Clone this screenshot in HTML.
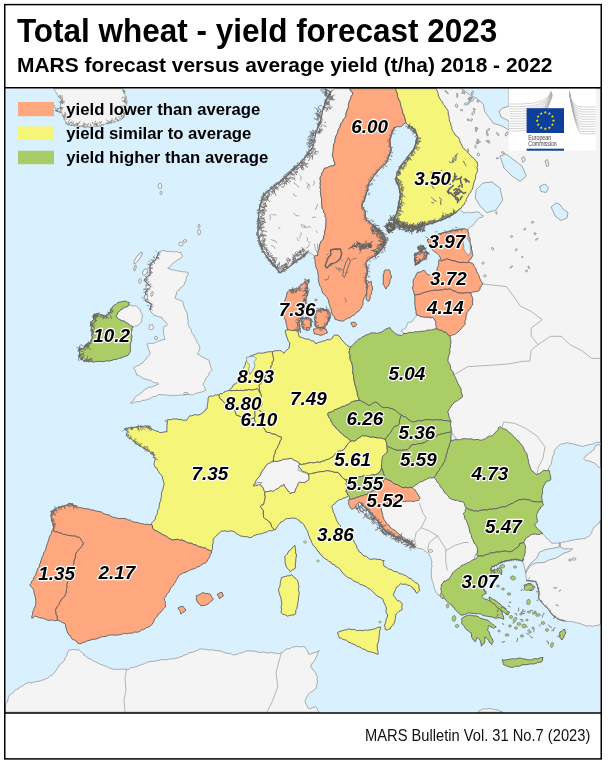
<!DOCTYPE html>
<html><head><meta charset="utf-8"><style>
html,body{margin:0;padding:0;background:#fff;}
body{width:608px;height:765px;overflow:hidden;position:relative;}
svg{position:absolute;left:0;top:0;}
.lb{font-family:"Liberation Sans",Arial,sans-serif;font-weight:bold;font-style:italic;font-size:18.9px;fill:#000;stroke:#fff;stroke-width:2.3px;paint-order:stroke;stroke-linejoin:round;}
.t{font-family:"Liberation Sans",Arial,sans-serif;font-weight:bold;fill:#000;}
</style></head><body>
<svg width="608" height="765" viewBox="0 0 608 765">
<rect x="0" y="0" width="608" height="765" fill="#fff"/>
<rect x="5.5" y="88.6" width="595" height="623.6" fill="#d9f0fe"/><polygon points="53.2,88.6 54.8,90.1 55.9,92.1 57.0,94.0 58.1,95.9 59.5,97.4 61.6,97.8 63.0,99.2 61.5,99.9 61.0,101.5 59.7,102.4 60.7,103.9 60.4,105.9 61.4,107.4 59.7,107.8 58.1,108.7 56.4,109.0 55.5,109.8 54.8,110.7 56.6,110.7 58.1,111.5 59.6,112.3 61.4,112.3 62.4,113.8 62.7,115.8 64.1,117.1 64.7,118.9 65.0,120.6 65.6,122.2 66.3,123.8 67.9,124.3 69.5,125.0 71.2,125.5 72.9,125.5 75.0,125.3 77.1,125.4 79.0,126.6 81.1,126.3 83.2,126.2 85.2,127.1 87.2,127.0 89.3,127.1 91.4,127.3 93.4,126.7 95.5,126.2 97.6,126.3 99.7,125.7 101.6,124.8 103.8,124.7 105.8,123.8 107.9,123.5 109.8,122.6 111.9,122.4 114.0,122.2 115.6,121.4 117.3,120.8 119.0,120.4 120.7,119.9 122.2,118.9 123.3,117.2 124.0,115.3 125.5,114.0 125.0,112.4 125.2,110.7 125.0,109.0 124.7,107.4 125.8,105.9 126.4,104.3 126.5,102.4 127.2,100.8 126.4,99.2 126.5,97.4 125.5,95.9 124.9,94.3 124.0,92.7 123.9,90.9 123.1,89.7 122.2,88.6" fill="#f4f4f4" stroke="#858585" stroke-width="0.65" stroke-linejoin="round"/><polygon points="161.8,250.7 164.0,250.4 166.0,251.3 168.2,251.5 170.3,251.3 172.4,251.9 174.6,251.8 176.8,251.5 178.8,252.6 181.0,252.2 181.1,253.8 182.1,255.1 182.5,256.6 181.1,257.8 179.5,258.8 178.0,259.9 176.3,260.6 175.0,262.0 173.2,262.9 172.0,264.5 170.6,265.9 169.1,267.1 167.7,268.5 169.8,268.9 171.7,269.8 173.9,269.8 175.9,270.6 178.0,270.8 180.1,271.3 182.2,271.7 184.3,271.9 186.4,272.1 188.4,273.0 187.9,275.1 186.6,276.8 186.0,278.8 185.8,281.0 184.7,282.8 184.0,284.8 182.7,286.4 180.7,287.4 179.8,289.4 177.9,290.4 176.6,292.0 176.5,294.1 175.5,296.0 175.0,298.0 176.7,299.2 178.7,299.7 180.6,300.4 182.5,301.0 183.1,303.0 183.6,305.1 184.3,307.2 185.0,309.2 186.0,311.1 187.0,313.0 187.5,314.9 187.6,316.9 187.7,318.9 188.3,320.8 187.9,322.8 188.4,324.7 188.8,326.6 190.1,328.1 191.2,329.7 191.4,331.7 192.2,333.4 193.5,334.9 194.3,336.6 195.5,338.5 196.7,340.3 197.1,342.5 198.4,344.3 199.5,346.2 200.0,348.4 199.1,350.4 198.3,352.4 197.3,354.3 199.4,355.0 201.1,356.4 203.1,357.3 205.0,358.4 207.1,359.2 209.0,360.3 209.5,362.1 209.9,363.9 210.5,365.6 210.9,367.4 212.0,369.0 211.0,370.9 209.4,372.5 208.8,374.6 207.6,376.5 206.0,378.0 205.3,379.5 205.0,381.2 204.0,382.6 203.0,384.0 203.4,385.7 204.7,386.9 205.0,388.6 206.0,390.0 204.1,390.9 202.2,391.8 200.3,392.4 198.2,392.8 196.1,393.2 194.3,394.3 192.3,394.9 190.2,394.7 188.1,394.4 186.0,394.7 183.9,395.0 181.9,395.0 179.8,395.1 177.7,395.4 175.6,395.2 173.6,395.8 171.5,395.2 169.3,395.6 167.2,395.2 165.2,394.8 163.0,394.8 160.9,394.9 158.8,394.3 157.2,395.5 155.5,396.5 153.3,396.5 151.6,397.5 150.0,398.7 148.0,399.1 146.1,400.0 144.0,400.3 141.9,400.4 140.1,401.7 138.0,401.7 136.1,401.8 134.4,402.5 132.6,403.2 130.7,403.2 131.7,401.6 133.5,400.6 134.2,398.7 135.2,397.1 136.6,395.8 138.5,394.8 140.2,393.5 142.0,392.4 143.4,390.7 145.1,389.4 147.0,388.4 148.8,387.2 151.1,387.3 153.0,386.5 154.9,385.7 156.9,384.9 158.8,384.0 157.0,382.7 154.8,382.8 152.8,382.0 151.1,380.6 149.0,380.0 147.0,379.5 145.2,379.0 143.3,378.5 141.7,377.4 140.1,376.4 138.5,375.3 136.6,375.0 136.2,373.0 135.3,371.2 134.5,369.4 133.6,367.7 135.4,366.9 137.0,365.6 139.2,365.5 140.5,363.6 142.5,363.2 143.6,361.6 144.9,360.1 146.4,358.8 147.2,357.0 148.7,355.7 150.0,354.3 149.8,352.1 148.9,350.2 148.0,348.2 147.9,346.0 147.0,344.0 148.7,343.2 150.5,343.2 152.4,343.6 154.1,343.0 155.8,342.5 157.4,341.5 159.2,340.9 161.0,340.4 162.8,339.6 164.7,339.5 164.7,337.5 164.2,335.6 163.6,333.6 163.4,331.7 163.6,329.6 163.0,327.7 164.4,326.5 166.3,326.0 167.7,324.7 166.5,323.3 165.5,321.6 163.8,320.5 162.7,319.0 161.8,317.3 160.0,316.9 158.1,316.7 156.3,315.8 154.4,315.8 153.6,314.1 151.9,313.1 150.8,311.6 150.0,310.0 150.1,307.9 151.1,306.0 151.4,304.0 149.7,303.7 148.5,302.3 147.1,301.6 145.5,301.0 145.9,299.2 145.9,297.4 145.9,295.6 145.7,293.8 145.5,292.0 147.0,290.8 147.5,288.8 149.0,287.6 150.0,286.0 148.5,284.5 146.9,283.1 145.2,281.8 144.0,280.0 145.4,278.5 146.8,277.0 148.8,276.1 150.0,274.4 150.2,272.3 150.1,270.2 150.2,268.2 150.1,266.1 150.0,264.0 151.2,262.6 152.9,261.8 154.5,260.9 155.8,259.6 157.0,257.9 157.6,255.9 157.9,253.8 158.8,252.0 160.3,251.3" fill="#f4f4f4" stroke="#858585" stroke-width="0.65" stroke-linejoin="round"/><polygon points="129.3,304.9 131.1,305.3 132.9,305.9 134.8,305.9 136.7,306.1 138.0,307.3 138.9,308.8 140.4,309.8 140.7,312.0 142.1,313.8 142.2,316.0 142.1,318.0 141.7,320.1 141.6,322.1 139.9,323.2 138.6,324.9 136.7,325.8 134.8,326.2 133.0,327.0 131.8,326.2 130.4,325.5 129.3,324.6 127.6,323.4 125.7,322.5 124.3,320.9 122.5,321.0 121.0,320.2 119.4,319.7 118.2,318.4 116.8,317.4 115.7,316.0 117.2,314.5 117.9,312.5 119.4,311.0 121.0,309.7 122.8,308.7 124.3,307.3 126.2,306.9 127.9,306.2" fill="#f4f4f4" stroke="#858585" stroke-width="0.65" stroke-linejoin="round"/><polygon points="149.0,325.0 150.8,325.0 152.5,324.5 152.9,326.0 153.4,327.4 153.0,329.0 151.3,329.6 149.5,329.5 148.9,328.1 149.4,326.5" fill="#f4f4f4" stroke="#858585" stroke-width="0.65" stroke-linejoin="round"/><polygon points="335.0,88.6 349.0,88.6 350.5,89.9 351.3,91.8 353.0,92.9 352.3,94.8 351.1,96.6 350.7,98.6 349.7,100.5 348.9,102.4 348.4,104.4 348.5,106.4 348.0,108.3 347.0,110.2 346.4,112.0 345.9,114.0 346.0,116.0 345.0,117.9 343.3,119.4 342.8,121.6 341.0,123.0 340.3,125.1 340.0,127.1 338.9,128.8 337.9,130.6 337.6,132.6 336.8,134.4 335.9,136.2 335.4,138.2 334.9,140.1 334.9,142.2 333.8,143.9 333.4,145.9 333.4,147.8 333.2,149.6 333.1,151.4 332.8,153.2 332.2,155.0 332.9,157.0 333.5,158.9 333.8,161.0 334.8,162.9 335.0,165.0 333.0,165.8 330.8,166.0 328.8,166.9 326.9,167.9 324.7,168.0 323.8,169.7 323.1,171.6 321.7,173.1 321.6,175.2 320.3,176.8 320.0,178.9 320.5,181.0 320.1,183.1 320.4,185.3 320.0,187.4 320.6,189.5 320.3,191.6 320.7,193.7 320.8,195.8 321.4,197.9 321.7,200.0 321.5,202.2 321.7,204.3 321.8,206.4 322.3,208.5 323.6,210.3 323.5,212.5 325.2,214.2 325.0,216.5 326.2,218.3 325.9,220.2 326.1,222.2 325.7,224.1 326.0,226.1 325.5,228.0 325.2,229.9 324.4,231.9 324.9,234.1 323.6,236.0 323.6,238.1 322.8,239.9 321.1,241.2 320.3,243.0 319.7,244.6 319.3,246.2 319.3,248.0 318.7,249.6 317.9,251.5 317.7,253.4 317.8,255.4 315.9,256.0 314.0,256.0 312.8,254.5 311.1,253.6 309.2,252.8 308.0,251.3 306.8,252.6 305.2,253.5 304.3,255.0 303.0,256.2 301.3,257.4 299.8,258.8 297.9,259.7 296.4,261.1 294.5,262.2 292.9,263.4 291.2,264.7 289.8,266.3 288.2,267.7 286.6,268.7 285.0,269.8 283.4,270.8 281.8,272.0 280.0,272.6 278.9,270.6 276.8,269.6 275.9,267.5 274.7,265.7 272.5,264.6 271.4,262.7 270.6,260.7 268.7,259.5 267.8,257.5 266.4,255.9 265.1,254.2 264.2,252.2 262.6,250.8 262.3,248.9 261.7,247.0 260.8,245.3 260.2,243.5 259.8,241.6 259.5,239.6 259.0,237.7 258.1,236.0 257.7,233.9 257.6,231.8 258.1,229.7 258.5,227.5 258.5,225.4 258.2,223.3 258.1,221.2 258.6,219.1 259.0,217.0 259.1,214.9 258.9,212.7 258.7,210.6 259.8,208.6 259.6,206.4 260.7,204.6 261.5,202.6 262.0,200.6 262.1,198.4 263.2,196.5 264.0,194.6 265.2,193.0 266.7,191.8 268.4,190.8 270.1,189.7 271.2,188.0 273.2,187.3 274.4,185.7 276.3,184.7 277.5,182.7 279.7,182.3 280.8,180.2 282.8,179.3 284.3,177.8 286.2,176.8 287.8,175.5 289.1,173.9 290.6,172.4 291.7,170.6 293.2,169.2 295.0,168.0 296.9,166.9 298.1,165.1 299.7,163.7 301.0,162.0 302.3,160.3 304.0,159.0 305.5,157.5 306.7,155.7 308.2,154.2 309.1,152.3 310.1,150.4 311.5,148.8 312.9,147.2 313.0,145.2 313.8,143.4 314.6,141.6 314.0,139.5 314.4,137.6 315.4,135.8 315.5,133.9 316.1,132.0 317.1,130.2 318.1,128.4 318.1,126.1 319.5,124.5 319.5,122.2 320.7,120.5 320.6,118.5 321.1,116.6 321.9,114.8 322.0,112.8 322.3,110.9 323.0,109.0 323.7,107.2 324.5,105.4 324.5,103.3 325.4,101.6 326.2,99.8 327.0,98.0 328.4,96.8 328.7,94.8 329.6,93.2 331.0,92.0 332.1,90.6 333.6,89.7" fill="#f4f4f4" stroke="#858585" stroke-width="0.65" stroke-linejoin="round"/><polygon points="436.0,88.6 600.5,88.6 600.5,442.6 599.0,442.4 597.4,442.4 595.9,442.6 594.2,443.5 592.5,444.3 590.6,444.4 588.8,444.6 587.1,445.4 585.3,445.7 583.5,446.2 581.6,446.3 579.9,445.6 578.2,445.2 576.3,444.9 574.6,444.4 572.9,443.7 571.0,443.6 569.2,443.3 567.5,442.6 565.7,443.1 564.0,443.9 562.1,443.5 560.4,444.4 558.7,445.4 557.4,446.8 556.3,448.3 555.0,449.7 554.1,451.7 554.1,453.9 552.8,455.8 552.2,457.9 552.0,460.1 551.5,462.2 551.1,464.4 549.5,466.1 548.7,468.1 548.0,470.2 546.3,471.5 545.5,473.6 543.8,474.8 542.1,476.2 541.0,478.0 539.5,476.4 537.6,475.5 535.5,474.9 533.8,473.7 531.9,472.8 530.2,471.5 528.4,470.5 527.0,468.8 525.0,468.0 523.3,466.7 521.7,465.3 520.4,463.6 518.9,462.1 517.2,460.8 515.4,459.7 513.9,458.1 512.7,456.2 510.9,455.2 509.0,454.0 507.5,452.5 505.9,451.1 505.0,449.0 503.4,447.5 501.9,446.1 500.0,445.0 497.9,444.9 495.8,445.3 493.7,444.6 491.6,445.4 489.5,444.8 487.4,445.5 485.3,445.1 483.2,444.9 481.1,445.4 478.9,444.6 476.8,445.3 474.7,444.7 472.6,444.6 470.5,445.2 468.4,444.5 466.3,445.3 464.2,444.6 462.1,444.8 460.0,445.0 458.5,443.5 457.5,441.6 456.6,439.7 455.8,437.8 454.4,436.2 453.2,434.5 452.2,432.7 451.7,430.6 450.8,428.7 448.8,427.4 448.6,425.2 447.3,423.5 446.1,421.7 445.0,420.0 444.5,417.9 444.7,415.8 443.9,413.7 444.4,411.5 444.2,409.4 443.9,407.3 443.0,405.3 443.1,403.1 442.5,401.1 442.5,398.9 441.9,396.9 441.4,394.8 441.5,392.6 440.8,390.6 441.3,388.4 440.8,386.3 440.4,384.2 439.8,382.2 440.0,380.0 439.8,377.9 439.6,375.8 440.3,373.7 439.9,371.6 440.3,369.5 439.6,367.4 440.1,365.3 440.5,363.2 440.3,361.1 439.8,358.9 439.5,356.8 439.6,354.7 440.2,352.6 440.1,350.5 440.0,348.4 439.7,346.3 440.0,344.2 439.8,342.1 440.0,340.0 441.4,338.4 442.0,336.2 443.7,334.8 444.7,332.9 445.6,331.0 446.9,329.3 448.6,327.9 449.7,326.0 450.4,324.0 451.9,322.5 452.5,320.3 453.7,318.5 455.6,317.3 456.6,315.4 457.4,313.4 458.6,311.6 460.0,310.0 460.0,307.9 460.9,306.0 461.9,304.1 462.2,302.1 462.0,299.9 462.8,297.9 463.5,296.0 464.3,294.1 464.4,292.0 465.0,290.0 465.0,287.9 465.3,285.8 464.8,283.8 465.2,281.7 464.6,279.6 465.2,277.5 465.4,275.4 464.6,273.3 465.3,271.2 465.5,269.2 464.7,267.1 465.0,265.0 464.6,262.9 464.2,260.9 464.5,258.7 463.5,256.7 463.5,254.6 463.2,252.5 463.3,250.4 462.5,248.4 462.6,246.3 462.1,244.2 461.9,242.1 462.0,240.0 462.6,238.1 464.2,236.8 465.0,235.0 466.2,233.5 467.1,231.7 467.8,229.9 468.9,228.3 470.4,227.0 472.0,226.0 473.6,224.9 474.5,223.3 475.8,222.0 476.5,220.1 478.0,219.0 479.7,217.6 481.9,217.4 483.6,216.0 482.0,215.3 480.6,214.3 479.6,212.7 478.0,212.0 475.9,211.8 474.0,212.6 472.0,212.4 470.0,213.0 468.3,212.4 466.5,212.2 464.6,212.9 462.9,212.3 461.5,210.6 459.5,209.7 458.2,207.9 456.3,206.8 455.0,205.0 455.3,202.8 454.8,200.7 454.5,198.7 454.1,196.6 454.4,194.4 453.7,192.3 454.2,190.1 453.9,188.0 453.3,186.0 453.0,183.9 452.6,181.8 452.8,179.6 452.9,177.5 451.9,175.4 451.9,173.3 451.8,171.2 452.1,169.0 451.1,167.0 451.4,164.8 450.9,162.7 450.8,160.6 451.3,158.4 450.1,156.4 450.8,154.2 450.7,152.1 450.0,150.0 449.8,147.8 448.8,145.8 448.4,143.7 448.1,141.5 447.0,139.6 447.0,137.3 446.0,135.3 445.4,133.3 445.8,130.9 444.7,128.9 444.6,126.7 443.8,124.7 443.1,122.7 442.7,120.5 442.6,118.3 442.0,116.2 440.7,114.3 440.6,112.1 440.0,110.0 439.2,108.0 438.5,105.9 437.0,104.3 436.4,102.2 435.6,100.2 434.9,98.2 433.7,96.3 432.6,94.5 431.4,92.7 430.6,90.7 430.0,88.6" fill="#f4f4f4" stroke="#858585" stroke-width="0.65" stroke-linejoin="round"/><polygon points="583.5,458.6 585.0,457.5 585.8,455.6 587.7,454.8 588.8,453.3 590.8,452.4 592.2,450.7 594.1,449.7 594.3,448.0 595.2,446.5 595.9,445.0 597.4,445.1 599.0,444.6 600.5,445.0 600.5,468.0 599.5,467.5 597.9,466.7 597.0,465.3 595.9,464.0 594.3,462.8 592.3,462.4 590.6,461.3 588.8,461.0 587.1,460.7 585.3,460.4 584.4,459.5" fill="#f4f4f4" stroke="#858585" stroke-width="0.65" stroke-linejoin="round"/><polygon points="403.8,333.4 402.7,331.9 401.0,331.0 402.6,329.7 404.4,328.7 406.1,327.6 406.7,326.1 407.2,324.6 407.3,323.0 409.2,322.3 411.3,321.9 413.0,320.7 413.4,319.0 414.8,317.9 415.8,316.6 416.5,315.0 418.6,315.3 420.4,316.6 422.5,316.7 424.5,317.3 426.5,317.1 428.6,317.2 430.6,317.8 432.6,317.3 434.0,318.7 434.9,320.4 436.0,321.9 437.7,322.5 438.4,324.3 440.0,325.0 441.1,326.4 441.8,328.1 443.2,329.3 444.3,330.7 445.3,332.2 443.5,332.8 441.6,332.9 439.7,333.2 437.9,333.7 436.0,334.0 433.9,333.7 431.7,334.3 429.6,333.7 427.4,334.4 425.2,333.6 423.1,334.2 420.9,333.9 418.8,334.0 416.7,334.3 414.6,334.8 412.4,334.2 410.2,334.7 408.1,334.6 406.0,335.1 403.8,335.0" fill="#f4f4f4" stroke="#858585" stroke-width="0.65" stroke-linejoin="round"/><polygon points="272.9,461.6 275.0,461.2 277.2,461.5 279.2,460.8 281.3,460.4 283.3,459.3 285.5,459.2 287.6,458.8 289.7,458.5 291.8,458.4 293.5,459.8 295.4,460.7 297.3,461.6 298.7,463.0 299.6,464.7 299.2,466.6 298.5,468.4 298.0,470.2 299.6,471.0 301.3,471.3 302.7,472.5 304.6,472.8 306.4,473.6 308.2,474.1 308.7,475.9 309.0,477.7 309.0,479.6 307.4,480.6 306.0,481.9 304.3,482.7 302.7,482.5 301.1,482.6 299.6,482.0 298.2,483.6 297.7,485.8 296.5,487.5 295.8,489.0 295.2,490.6 294.9,492.2 293.3,492.5 291.7,492.9 290.2,493.7 289.6,492.1 288.1,491.1 287.1,489.8 286.0,488.0 284.6,486.4 283.9,484.3 282.6,485.8 280.6,486.2 279.2,487.5 277.8,488.8 275.9,489.2 274.5,490.6 272.7,491.4 270.7,490.8 268.8,491.5 266.9,491.5 265.1,492.2 264.0,490.7 263.5,489.0 262.7,487.2 261.1,486.1 260.4,484.3 258.6,484.6 257.0,485.6 255.1,485.6 253.3,485.9 253.9,484.2 255.2,482.9 255.7,481.2 256.7,479.5 258.0,478.0 259.3,476.5 260.4,474.9 260.9,473.1 261.9,471.6 262.9,470.0 264.1,468.6 265.1,467.1 266.2,465.5 267.5,463.9 269.4,463.3 270.9,462.0" fill="#f4f4f4" stroke="#858585" stroke-width="0.65" stroke-linejoin="round"/><polygon points="384.4,530.0 385.6,531.5 387.4,532.1 388.7,533.5 390.3,534.4 391.6,535.6 393.3,535.9 394.7,536.7 396.2,537.4 398.1,538.3 400.2,538.4 402.2,538.8 403.5,540.0 405.2,540.8 406.6,541.8 408.2,542.6 409.4,543.9 411.0,544.8 412.4,545.7 413.8,546.7 415.5,547.0 416.3,547.7 417.9,548.2 419.6,548.6 421.3,548.7 422.9,549.3 424.4,550.8 426.1,551.9 427.9,552.9 429.5,554.3 429.6,556.1 431.0,557.4 431.1,559.2 431.6,560.8 431.9,562.5 431.5,564.2 432.0,565.8 431.7,567.4 431.3,569.1 431.5,570.8 431.1,572.4 431.8,574.0 431.3,575.7 431.3,577.4 432.0,579.0 432.1,580.7 432.7,582.3 433.5,583.8 433.6,585.5 434.0,587.2 434.5,588.9 435.4,590.4 436.0,592.1 437.1,593.2 437.8,594.7 439.3,595.4 440.3,596.6 441.2,597.9 442.6,598.7 444.7,597.9 446.4,596.6 447.9,594.9 449.8,593.9 451.2,592.1 453.5,591.6 455.0,590.0 456.7,588.7 457.6,586.6 459.6,585.6 461.3,584.3 462.8,582.8 463.9,580.9 465.6,579.6 467.3,578.3 468.6,576.6 470.0,575.0 470.8,573.0 471.0,570.8 472.0,568.9 472.6,566.8 472.7,564.6 473.5,562.6 473.9,560.5 474.5,558.5 474.8,556.3 475.6,554.3 477.0,552.5 477.4,550.4 478.2,548.4 478.1,546.1 479.0,544.2 479.2,542.0 480.0,540.0 479.9,537.9 479.5,535.8 479.6,533.8 480.0,531.7 479.9,529.6 480.2,527.5 480.3,525.4 480.1,523.3 479.8,521.2 479.8,519.2 479.8,517.1 480.0,515.0 479.6,512.9 478.3,511.3 477.5,509.4 475.9,508.0 475.8,505.7 474.4,504.2 473.3,502.4 473.2,500.2 471.5,498.8 471.3,496.6 470.0,495.0 468.3,493.7 466.7,492.3 464.7,491.3 462.5,490.8 461.1,489.0 459.3,487.8 457.3,487.0 455.6,485.6 453.8,484.6 452.1,483.2 450.2,482.1 448.0,481.6 446.2,480.4 444.3,479.4 442.8,477.8 441.1,476.5 438.9,475.9 437.3,474.4 435.7,473.0 433.7,472.2 431.6,471.5 430.0,470.0 428.2,471.1 426.1,471.7 424.0,472.1 421.9,472.3 420.1,473.6 418.1,474.4 416.0,474.8 414.2,475.8 411.9,475.8 410.1,477.1 408.1,477.7 406.0,478.1 404.0,478.7 402.1,479.7 400.0,480.0 398.6,481.7 396.9,483.0 395.3,484.5 394.0,486.3 392.0,487.3 390.9,489.4 389.4,490.9 387.7,492.3 386.0,493.6 384.5,495.3 383.0,496.8 381.8,498.8 380.0,500.0 380.4,502.1 380.7,504.3 380.7,506.5 381.0,508.6 381.7,510.7 382.0,512.8 381.9,515.1 383.0,517.1 382.8,519.3 383.5,521.4 383.9,523.5 383.8,525.7 383.9,527.9" fill="#f4f4f4" stroke="#858585" stroke-width="0.65" stroke-linejoin="round"/><polygon points="600.5,520.0 599.9,521.3 599.5,522.7 598.0,523.6 597.0,525.1 595.6,526.2 594.1,527.1 593.2,528.8 592.0,530.5 591.9,532.6 590.6,534.2 589.6,535.7 588.2,536.7 586.4,537.3 585.3,538.7 583.2,538.5 581.1,539.0 579.1,539.1 577.0,539.3 574.9,539.6 572.9,540.3 570.8,540.4 568.9,541.1 566.8,541.3 565.2,542.2 563.3,541.9 561.6,542.5 559.9,543.0 558.0,542.9 556.1,543.2 554.3,543.0 552.4,543.4 550.7,542.4 549.7,540.6 548.3,539.3 546.5,538.4 545.5,536.5 543.7,535.2 542.5,533.5 540.7,532.7 538.7,532.4 537.1,531.2 535.4,530.3 533.6,529.5 531.6,529.2 530.0,528.0 528.4,529.3 527.5,531.3 525.5,532.3 524.9,534.5 523.2,535.8 521.8,537.3 520.4,538.7 518.8,540.1 518.0,542.2 516.6,543.7 515.0,545.0 514.9,547.2 515.3,549.3 514.7,551.5 515.1,553.7 514.5,555.8 515.0,558.0 516.5,559.3 518.7,559.3 520.4,560.2 521.9,561.5 522.8,562.7 523.5,564.0 524.2,565.9 524.5,567.9 525.1,569.8 525.4,571.8 525.6,572.9 525.9,574.0 525.9,576.2 526.4,578.3 526.6,580.4 528.4,580.0 530.1,581.0 531.9,581.1 533.7,581.6 535.5,581.3 536.1,582.8 537.2,584.0 537.3,585.7 537.9,587.4 538.1,589.3 538.8,591.0 539.1,592.8 539.3,594.7 538.9,596.5 538.2,598.2 539.6,599.3 540.8,600.5 541.7,602.0 542.6,603.5 544.0,604.8 545.2,606.2 547.0,607.2 548.0,608.8 549.3,610.5 550.7,612.1 551.5,614.1 552.8,615.3 554.5,616.0 555.7,617.4 557.3,618.3 558.6,619.5 560.4,620.0 562.3,619.8 563.9,621.0 565.7,621.2 567.5,621.7 569.3,621.4 571.1,621.2 572.8,621.9 574.6,622.1 576.3,622.9 578.2,622.9 580.1,623.3 581.7,624.3 583.5,624.8 585.2,625.6 587.0,626.0 588.8,625.9 590.7,625.8 592.4,626.6 594.1,625.7 595.9,625.6 597.7,625.3 599.5,624.8 600.5,624.8" fill="#f4f4f4" stroke="#858585" stroke-width="0.65" stroke-linejoin="round"/><polygon points="5.5,704.0 6.6,702.8 7.5,701.3 8.0,699.5 8.4,697.8 8.8,696.1 9.9,694.6 11.6,693.5 13.4,692.6 14.5,690.7 16.2,689.5 18.3,689.0 19.6,687.3 21.4,686.4 23.4,685.5 25.0,683.8 27.1,683.1 29.2,682.4 31.4,682.8 33.5,682.1 35.7,681.7 37.8,681.4 39.9,681.1 41.8,680.3 43.8,679.7 45.7,678.8 47.7,678.2 49.2,676.8 50.7,675.6 52.6,674.9 53.6,673.2 55.2,671.8 56.2,670.2 57.3,668.5 58.5,666.9 59.2,665.0 60.7,664.0 62.0,662.8 63.4,661.6 64.8,659.8 65.1,657.5 66.8,655.9 67.2,653.7 68.2,651.7 69.3,649.8 71.3,650.1 73.3,649.4 75.2,649.8 77.2,649.8 79.2,649.8 80.3,651.4 81.9,652.4 83.5,653.4 84.1,655.4 86.1,656.1 87.1,657.7 88.8,658.5 90.7,659.1 92.3,660.1 93.8,661.3 95.6,661.9 97.3,662.8 99.0,663.6 100.8,664.6 102.9,665.0 104.8,665.9 106.9,666.5 108.6,667.8 110.7,668.2 112.7,669.0 114.7,669.5 116.7,669.1 118.7,669.5 120.7,669.1 122.6,669.1 124.6,669.2 126.6,669.5 128.7,669.4 130.4,667.8 132.6,667.6 134.6,667.1 136.6,666.6 138.5,665.6 140.5,665.0 142.4,664.3 144.4,663.8 146.3,662.8 148.2,661.9 150.3,661.6 152.4,661.2 154.6,661.4 156.7,660.7 158.8,660.4 160.9,659.8 163.0,659.6 165.2,659.8 167.4,659.7 169.4,658.9 171.6,658.9 173.7,658.7 175.8,658.3 177.9,657.7 179.9,657.0 182.1,656.4 183.9,655.3 186.0,654.6 188.0,653.8 189.8,652.4 192.1,652.5 194.2,651.7 196.1,650.7 198.2,650.0 200.0,648.8 202.0,649.1 204.0,649.1 206.0,649.4 208.0,649.9 210.0,649.9 212.0,649.8 214.0,650.1 216.0,650.8 218.0,650.6 220.1,651.0 222.1,651.6 224.1,652.4 226.1,653.1 228.2,653.4 230.4,653.4 232.3,654.6 234.4,655.0 236.2,654.4 238.1,654.0 239.7,652.9 241.7,652.8 243.5,652.3 245.3,651.5 247.0,650.6 249.0,651.0 251.0,650.8 253.0,651.3 255.1,651.2 257.0,652.0 259.0,652.2 261.0,652.6 263.1,652.0 265.1,652.5 267.2,652.8 269.2,652.9 271.3,652.4 273.4,652.9 275.5,653.2 277.5,653.6 279.6,653.5 281.6,652.6 283.5,651.6 285.0,650.0 286.8,648.8 288.7,648.8 290.5,648.4 292.1,647.0 294.0,646.9 295.9,646.7 297.7,646.3 299.5,646.9 301.3,646.7 303.2,646.6 305.0,647.0 306.0,648.8 307.2,650.5 308.1,652.3 308.5,654.3 310.4,654.0 312.2,653.4 313.9,652.7 315.8,652.5 317.6,651.6 319.4,650.6 318.1,652.2 317.7,654.3 316.7,656.0 315.7,657.8 315.0,659.7 314.0,661.6 312.2,663.1 311.3,665.0 310.3,667.0 312.0,668.0 312.9,669.9 314.3,671.2 315.8,672.4 315.8,674.3 317.0,675.9 317.4,677.7 316.9,679.7 317.6,681.4 317.3,683.2 316.7,685.0 316.4,686.8 315.8,688.6 314.3,689.6 313.0,691.0 311.3,691.7 309.8,692.7 308.5,694.0 307.4,695.7 306.3,697.5 305.6,699.4 304.9,701.3 305.7,703.1 306.7,704.9 307.2,706.9 308.5,708.5 310.4,708.5 312.2,707.9 314.0,707.2 315.8,706.7 317.2,708.4 317.8,710.6 319.4,712.2 5.5,712.2" fill="#f4f4f4" stroke="#858585" stroke-width="0.65" stroke-linejoin="round"/><polygon points="478.0,712.2 479.0,710.9 480.6,710.3 482.0,709.5 483.9,708.7 486.0,709.1 488.0,708.7 490.0,708.5 492.0,709.0 494.0,709.3 496.0,709.6 498.0,710.0 499.6,711.0 501.2,711.7 503.0,712.2" fill="#f4f4f4" stroke="#858585" stroke-width="0.65" stroke-linejoin="round"/><polyline points="126.6,669.5 125,678 126,690 124,700 125,712" fill="none" stroke="#8a8a8a" stroke-width="0.6"/><polyline points="281.4,652.5 276,672.4 277.8,686.8 272.4,701.3 267,712.2" fill="none" stroke="#8a8a8a" stroke-width="0.6"/><polyline points="453.8,375 467.6,366.7 489.7,365.3 509,363.9 522.9,361.2 529.8,361.2" fill="none" stroke="#8a8a8a" stroke-width="0.6"/><polyline points="481.4,283.8 506.3,286.6 514.6,297.6 520.1,305.9 531.2,311.4 542.2,319.7 531.2,328 531.2,336.3 538.1,344.6 531.2,350.1 529.8,361.2" fill="none" stroke="#8a8a8a" stroke-width="0.6"/><polyline points="538.1,344.6 550.5,336.3 561.5,336.3 569.8,344.6 580.9,350.1 591.9,358.4 600.5,358.4" fill="none" stroke="#8a8a8a" stroke-width="0.6"/><polyline points="502,427.8 503.5,422 514.6,423.3 525,428 536.7,435.7 545,446.8 543,458 538,468 537.3,474.6" fill="none" stroke="#8a8a8a" stroke-width="0.6"/><polyline points="419.5,503 422.8,512.9 426,517.8 422.8,524.4 421.1,527.7 416.2,532.6 414.5,539.2 416.2,545.8" fill="none" stroke="#8a8a8a" stroke-width="0.6"/><polyline points="421.1,527.7 429.3,531 437.6,535.9" fill="none" stroke="#8a8a8a" stroke-width="0.6"/><polyline points="429.3,542.5 427.7,549.1 429.3,552.4" fill="none" stroke="#8a8a8a" stroke-width="0.6"/><polyline points="429.3,542.5 437.6,535.9 445.8,549.1" fill="none" stroke="#8a8a8a" stroke-width="0.6"/><polyline points="445.8,549.1 445.8,550.7 445.8,562.2 447.4,570.5" fill="none" stroke="#8a8a8a" stroke-width="0.6"/><polyline points="445.8,550.7 454,545.8 463.9,542.5 468.8,542.5" fill="none" stroke="#8a8a8a" stroke-width="0.6"/><polygon points="349.0,88.6 395.6,88.6 396.1,90.5 396.9,92.3 397.5,94.1 397.4,96.2 398.2,98.0 399.0,99.8 400.0,101.6 400.6,103.5 400.7,105.6 401.5,107.4 402.1,109.3 402.5,111.3 402.9,113.3 404.0,115.0 404.5,117.0 405.2,118.9 405.4,120.9 406.0,122.8 404.1,123.6 402.8,125.1 401.3,126.3 399.6,126.9 397.8,126.4 396.2,127.3 394.4,127.4 393.5,128.9 392.7,130.4 392.1,132.0 392.1,134.0 390.8,135.6 390.7,137.6 389.8,139.3 389.8,141.3 390.2,143.1 390.2,144.9 390.3,146.7 391.0,148.4 391.3,150.2 390.3,152.1 389.6,154.0 388.6,155.9 388.4,158.1 387.4,160.0 386.9,162.0 385.7,163.8 384.3,165.3 382.3,166.3 380.8,167.8 379.5,169.4 378.0,170.9 376.3,172.3 375.5,174.3 374.0,175.8 372.6,177.4 371.8,179.5 370.8,181.3 369.1,182.7 368.1,184.6 367.7,186.6 367.9,188.7 367.7,190.8 366.5,192.6 366.2,194.6 365.1,196.4 365.1,198.7 364.4,200.7 363.1,202.4 362.1,204.3 361.7,206.4 363.0,207.3 363.3,209.1 364.7,210.0 365.4,211.9 365.5,213.8 365.0,215.9 365.9,217.7 366.0,219.7 367.9,220.6 369.5,221.8 371.0,223.2 372.4,224.7 374.1,226.0 376.0,226.9 377.2,228.7 378.6,230.3 380.6,231.2 381.7,232.9 383.2,234.4 384.1,236.3 385.5,237.8 384.7,239.8 385.2,242.0 384.3,243.9 383.9,246.0 382.9,247.9 381.4,249.4 380.3,251.2 379.0,252.9 377.3,254.3 375.4,254.9 374.2,256.5 372.1,256.8 370.5,257.9 369.1,259.2 368.0,260.3 367.1,261.6 365.8,262.5 366.2,264.6 366.8,266.6 367.2,268.6 367.4,270.7 367.5,272.9 366.9,274.9 365.8,276.8 365.8,279.0 365.9,281.0 366.0,283.0 367.3,284.8 366.9,286.9 367.4,288.8 366.7,290.8 366.6,293.0 365.9,294.7 365.2,296.3 364.0,297.7 363.6,299.5 362.9,301.4 363.1,303.5 362.6,305.4 361.7,306.9 361.0,308.6 359.7,309.8 358.7,311.3 356.8,312.1 355.6,313.8 354.2,315.1 352.2,315.7 350.8,317.2 349.2,318.0 347.4,318.3 345.9,319.3 344.4,320.3 342.9,321.2 340.9,320.8 338.8,320.6 336.9,319.8 335.0,319.2 334.4,317.0 333.0,315.3 331.9,313.5 331.3,311.5 331.3,309.2 330.1,307.4 329.8,305.4 329.0,303.5 328.6,301.5 328.1,299.5 327.2,297.8 326.0,296.3 324.8,294.7 323.2,293.6 322.2,291.7 321.6,289.6 321.1,287.5 319.8,285.8 319.2,283.7 318.7,281.6 318.2,279.5 318.4,277.4 318.3,275.2 317.8,273.1 317.8,271.0 316.9,269.5 316.2,267.9 315.7,266.2 315.4,264.4 315.0,262.4 315.2,260.3 314.2,258.3 314.5,256.2 316.1,255.6 317.8,255.4 317.7,253.4 317.9,251.5 318.7,249.6 319.3,248.0 319.3,246.2 319.7,244.6 320.3,243.0 321.1,241.2 322.8,239.9 323.6,238.1 323.6,236.0 324.9,234.1 324.4,231.9 325.2,229.9 325.5,228.0 326.0,226.1 325.7,224.1 326.1,222.2 325.9,220.2 326.2,218.3 325.0,216.5 325.2,214.2 323.5,212.5 323.6,210.3 322.3,208.5 321.8,206.4 321.7,204.3 321.5,202.2 321.7,200.0 321.4,197.9 320.8,195.8 320.7,193.7 320.3,191.6 320.6,189.5 320.0,187.4 320.4,185.3 320.1,183.1 320.5,181.0 320.0,178.9 320.3,176.8 321.6,175.2 321.7,173.1 323.1,171.6 323.8,169.7 324.7,168.0 326.9,167.9 328.8,166.9 330.8,166.0 333.0,165.8 335.0,165.0 334.8,162.9 333.8,161.0 333.5,158.9 332.9,157.0 332.2,155.0 332.8,153.2 333.1,151.4 333.2,149.6 333.4,147.8 333.4,145.9 333.8,143.9 334.9,142.2 334.9,140.1 335.4,138.2 335.9,136.2 336.8,134.4 337.6,132.6 337.9,130.6 338.9,128.8 340.0,127.1 340.3,125.1 341.0,123.0 342.8,121.6 343.3,119.4 345.0,117.9 346.0,116.0 345.9,114.0 346.4,112.0 347.0,110.2 348.0,108.3 348.5,106.4 348.4,104.4 348.9,102.4 349.7,100.5 350.7,98.6 351.1,96.6 352.3,94.8 353.0,92.9 351.3,91.8 350.5,89.9" fill="#ffa77f" stroke="#626262" stroke-width="0.95" stroke-linejoin="round"/><polygon points="367.0,284.0 368.0,282.6 369.8,282.2 371.0,281.0 371.6,282.7 371.3,284.6 372.2,286.4 372.5,288.1 372.5,290.0 371.5,291.7 371.6,293.8 370.3,295.4 370.2,297.3 369.8,299.2 369.0,301.0 367.6,300.9 366.5,300.0 366.0,298.0 366.2,296.0 367.1,294.0 366.5,292.0 367.2,290.0 366.8,288.0 367.2,286.0" fill="#ffa77f" stroke="#626262" stroke-width="0.95" stroke-linejoin="round"/><polygon points="384.0,271.0 385.5,270.0 387.4,270.2 389.0,269.5 389.9,271.0 390.4,272.7 390.4,274.5 391.5,276.0 391.2,278.1 389.9,279.9 390.0,282.1 389.0,284.0 388.5,285.9 386.8,287.2 386.0,289.0 385.0,287.6 384.6,286.0 383.3,284.7 383.0,283.0 383.5,281.0 383.1,279.0 383.4,277.0 383.2,275.0 384.1,273.0" fill="#ffa77f" stroke="#626262" stroke-width="0.95" stroke-linejoin="round"/><polygon points="395.6,88.6 436.0,88.6 437.0,90.6 437.9,92.6 438.3,94.8 438.9,96.9 439.9,98.8 441.2,100.5 442.5,102.3 443.3,104.3 444.7,105.6 445.3,107.5 446.8,108.6 447.8,110.2 448.2,112.0 448.2,114.0 448.7,115.8 449.2,117.6 449.2,119.5 449.6,121.4 450.8,123.1 450.7,125.0 451.8,126.7 451.7,128.9 452.6,130.7 453.7,132.4 454.8,134.0 455.7,135.6 457.6,136.6 458.8,138.0 459.6,139.8 459.9,141.8 460.9,143.6 461.9,145.3 462.6,147.2 463.9,148.8 465.7,150.0 467.1,151.5 468.5,153.1 469.9,154.7 471.1,156.4 472.8,157.7 474.4,159.0 475.6,160.8 477.3,162.0 477.3,163.9 477.7,165.7 477.0,167.6 477.4,169.4 477.4,171.5 476.5,173.3 475.7,175.2 475.6,177.3 475.3,179.3 474.4,181.1 473.8,183.1 473.4,185.1 472.9,187.0 472.5,189.0 471.2,190.6 470.6,192.5 468.9,193.9 468.3,195.8 467.2,197.5 466.3,199.3 466.1,201.4 464.7,202.9 464.0,204.8 462.2,205.9 461.4,208.1 459.2,208.9 457.7,210.4 456.6,212.2 454.7,212.8 453.0,213.9 451.5,215.2 449.7,216.2 447.8,216.8 446.2,218.0 444.3,219.0 442.4,220.0 440.3,220.3 438.3,220.9 436.3,221.7 434.4,222.5 432.2,222.8 430.2,223.6 428.1,223.9 426.1,224.9 424.0,225.5 422.3,226.2 420.5,226.7 418.7,227.3 416.9,227.5 415.2,228.4 413.1,228.0 411.0,227.9 409.0,227.5 406.9,226.9 404.8,227.0 403.1,225.9 401.0,225.8 399.3,224.7 397.4,224.0 396.0,222.5 394.2,221.4 393.0,219.6 394.5,218.0 395.0,215.8 396.5,214.2 397.4,212.2 398.2,210.5 397.8,208.6 397.9,206.8 398.3,205.0 398.9,203.3 398.9,201.5 399.5,199.7 400.3,198.0 400.1,196.2 400.4,194.4 399.7,192.6 399.5,190.7 399.3,188.8 398.9,187.0 398.6,185.0 397.4,183.3 396.5,181.5 395.9,179.6 396.0,177.7 396.4,175.9 396.8,174.0 397.4,172.2 398.8,170.5 399.2,168.3 400.4,166.5 401.8,164.8 402.6,163.1 404.3,162.0 405.4,160.6 406.3,158.9 407.0,157.1 408.4,155.9 409.5,154.4 410.7,153.0 412.0,151.4 413.5,150.0 413.6,148.5 414.4,147.2 415.1,145.9 415.5,144.0 416.4,142.3 416.0,140.3 416.9,138.5 417.4,136.7 416.8,135.0 415.8,133.4 415.2,131.6 415.1,129.7 413.1,129.0 411.9,127.0 410.0,126.1 408.2,125.1 406.9,124.1 406.0,122.8 405.4,120.9 405.2,118.9 404.5,117.0 404.0,115.0 402.9,113.3 402.5,111.3 402.1,109.3 401.5,107.4 400.7,105.6 400.6,103.5 400.0,101.6 399.0,99.8 398.2,98.0 397.4,96.2 397.5,94.1 396.9,92.3 396.1,90.5" fill="#f5f57a" stroke="#626262" stroke-width="0.95" stroke-linejoin="round"/><polygon points="387.5,226.0 389.4,226.0 391.0,225.0 391.9,226.7 392.5,228.5 391.2,229.8 389.5,230.5 388.6,229.7 387.5,229.0 387.7,227.5" fill="#f5f57a" stroke="#626262" stroke-width="0.95" stroke-linejoin="round"/><polygon points="427.4,239.7 429.2,238.3 431.5,238.0 433.5,237.1 435.0,235.3 437.2,234.8 439.2,233.8 441.3,233.8 443.1,232.7 445.0,232.1 447.1,232.1 449.0,231.2 451.0,230.9 452.9,230.4 455.0,230.3 456.9,229.6 458.9,229.1 460.9,229.3 462.9,228.9 464.6,228.7 466.2,229.3 467.8,229.9 468.2,232.1 468.9,234.2 468.7,236.4 470.0,238.4 470.1,240.7 470.2,242.9 470.8,245.0 471.6,247.0 471.4,249.2 472.2,251.3 472.3,253.4 472.8,255.5 471.9,257.0 471.2,258.7 469.5,259.7 468.8,261.4 468.8,262.4 466.8,262.7 464.9,262.5 462.9,262.3 461.0,262.5 459.0,262.4 457.0,261.9 455.1,260.9 452.9,260.9 451.0,260.1 448.9,259.6 447.1,258.5 445.3,259.8 443.0,260.1 441.2,261.4 440.8,259.3 440.2,257.4 439.2,255.5 438.2,254.5 437.2,253.5 435.5,252.3 433.7,251.2 432.3,249.6 431.2,248.1 429.4,247.3 428.4,245.7 428.6,243.6 427.8,241.7" fill="#ffa77f" stroke="#626262" stroke-width="0.95" stroke-linejoin="round"/><polygon points="415.0,254.0 417.0,253.3 418.9,252.1 421.0,251.6 422.7,252.0 424.5,252.3 426.2,252.8 428.0,252.5 426.9,254.2 426.5,256.1 426.0,258.0 424.7,259.3 423.0,260.0 421.6,261.1 420.0,262.0 418.7,263.0 417.4,264.0 416.0,265.0 415.4,263.4 415.0,261.7 414.5,260.0 414.9,258.0 414.6,256.0" fill="#ffa77f" stroke="#626262" stroke-width="0.95" stroke-linejoin="round"/><polygon points="417.5,247.0 419.3,246.6 421.2,246.5 423.0,245.7 424.5,247.1 425.4,249.0 423.5,249.6 421.8,250.7 420.0,251.6 419.5,249.9 418.0,248.7" fill="#ffa77f" stroke="#626262" stroke-width="0.95" stroke-linejoin="round"/><polygon points="441.2,261.4 443.0,260.1 445.3,259.8 447.1,258.5 448.9,259.6 451.0,260.1 452.9,260.9 455.1,260.9 457.0,261.9 459.0,262.4 461.0,262.5 462.9,262.3 464.9,262.5 466.8,262.7 468.8,262.4 470.8,262.8 472.8,263.4 473.7,264.9 474.1,266.7 475.5,268.0 476.2,269.6 476.7,271.3 477.3,273.1 478.6,274.6 479.2,276.4 479.7,278.3 480.5,280.0 481.5,281.7 482.6,283.2 482.0,285.4 480.2,286.9 480.0,289.2 478.7,291.0 476.7,291.4 474.7,291.8 472.7,292.0 470.8,293.0 468.8,292.6 466.9,292.8 464.9,292.8 462.9,293.3 461.0,293.0 459.0,293.0 456.9,292.4 455.1,291.2 452.9,291.0 451.2,289.4 449.0,289.0 447.1,289.5 445.1,289.0 443.1,289.7 441.2,290.0 439.3,290.2 437.3,290.4 435.3,290.0 433.3,290.5 431.2,290.6 429.3,291.3 427.3,291.7 425.3,292.2 423.4,293.0 421.6,293.3 420.0,294.3 418.1,294.5 416.3,294.8 414.5,295.0 413.9,293.1 413.6,291.0 412.7,289.2 412.6,287.1 413.4,285.2 413.2,283.2 413.1,281.2 413.5,279.2 414.9,277.7 415.7,275.9 416.5,274.0 417.5,272.3 419.3,272.2 421.1,271.8 422.6,270.6 424.4,270.3 425.5,271.6 426.1,273.2 427.4,274.3 429.3,275.1 431.3,274.9 433.3,275.3 434.1,273.7 434.9,272.1 436.3,270.9 437.2,269.3 437.4,267.3 438.5,265.5 438.7,263.5 438.5,261.4 439.2,259.5 440.2,260.4" fill="#ffa77f" stroke="#626262" stroke-width="0.95" stroke-linejoin="round"/><polygon points="414.5,295.0 416.3,294.8 418.1,294.5 420.0,294.3 421.6,293.3 423.4,293.0 425.3,292.2 427.3,291.7 429.3,291.3 431.2,290.6 433.3,290.5 435.3,290.0 437.3,290.4 439.3,290.2 441.2,290.0 443.1,289.7 445.1,289.0 447.1,289.5 449.0,289.0 451.2,289.4 452.9,291.0 455.1,291.2 456.9,292.4 459.0,293.0 461.0,293.0 462.9,293.3 464.9,292.8 466.9,292.8 468.8,292.6 470.8,293.0 471.3,295.1 472.2,297.0 472.8,299.0 472.7,301.0 472.5,302.9 472.8,304.9 471.2,306.2 470.7,308.3 468.9,309.4 468.1,311.3 466.8,312.8 466.7,314.8 465.8,316.7 466.1,318.7 465.0,320.6 465.1,322.6 464.9,324.6 463.5,326.0 462.2,327.5 460.8,329.0 459.5,330.5 458.1,331.9 456.4,333.1 455.0,334.5 453.2,334.6 451.6,335.6 449.9,336.0 448.1,335.1 447.0,333.3 445.3,332.2 443.3,331.9 441.7,330.4 439.7,330.3 437.9,329.3 436.0,328.8 436.3,327.1 435.9,325.4 435.6,323.6 436.0,321.9 434.9,320.4 434.0,318.7 432.6,317.3 430.6,317.8 428.6,317.2 426.5,317.1 424.5,317.3 422.5,316.7 420.4,316.6 418.6,315.3 416.5,315.0 416.0,313.0 416.1,310.9 415.4,309.0 415.3,306.9 414.9,304.9 414.8,303.0 414.8,301.0 415.0,299.0 414.7,297.0" fill="#ffa77f" stroke="#626262" stroke-width="0.95" stroke-linejoin="round"/><polygon points="309.1,279.4 309.1,281.3 308.2,283.0 307.6,284.8 307.3,286.8 307.2,288.7 307.5,290.7 307.1,292.7 307.3,294.5 306.7,296.2 306.5,298.0 305.6,299.6 305.5,301.3 305.7,302.9 305.6,304.6 305.5,306.3 305.4,308.0 304.6,309.5 303.9,311.6 302.6,313.4 301.8,315.0 301.8,316.7 301.7,318.4 300.2,319.9 298.7,321.3 299.2,322.9 299.3,324.6 299.7,326.3 299.2,327.9 298.6,329.5 298.7,331.2 296.5,331.5 294.3,330.8 292.2,331.6 290.0,331.1 287.8,331.2 287.8,329.1 286.8,327.3 286.9,325.6 286.1,324.0 285.9,322.3 285.6,320.2 284.7,318.3 283.9,316.4 283.5,314.6 283.9,312.9 283.8,311.2 284.4,309.5 285.1,307.8 284.9,306.1 284.6,304.3 284.9,302.6 284.7,300.8 285.3,299.2 285.9,297.6 286.6,295.7 286.8,293.7 287.5,292.0 288.8,290.7 290.7,289.9 292.8,289.7 294.3,288.9 296.1,289.1 297.7,288.8 299.1,287.2 300.7,285.8 302.2,284.6 303.5,283.3 304.6,281.8 306.2,281.1 307.6,280.3" fill="#ffa77f" stroke="#626262" stroke-width="0.95" stroke-linejoin="round"/><polygon points="302.0,319.0 304.1,318.5 306.0,317.4 307.6,318.0 309.3,318.7 311.0,319.0 310.7,321.0 311.0,323.0 311.5,325.0 310.6,326.7 309.4,328.3 309.0,330.2 307.0,329.8 305.0,329.3 303.0,329.0 303.0,327.2 301.8,325.8 301.7,324.0 301.9,322.3 301.5,320.6" fill="#ffa77f" stroke="#626262" stroke-width="0.95" stroke-linejoin="round"/><polygon points="315.0,311.0 316.9,310.6 318.5,309.7 320.0,308.5 321.8,308.3 323.5,309.2 325.2,309.8 327.0,309.5 327.7,311.3 329.2,312.5 330.3,314.0 330.2,316.1 329.9,318.1 329.0,320.0 328.4,321.9 326.9,323.3 326.0,325.0 325.0,326.8 323.5,328.0 322.0,329.2 319.8,328.9 317.9,328.0 316.0,327.0 315.2,325.3 314.9,323.6 315.4,321.6 314.5,320.0 314.3,318.2 315.0,316.4 314.9,314.6 315.2,312.8" fill="#ffa77f" stroke="#626262" stroke-width="0.95" stroke-linejoin="round"/><polygon points="313.5,329.0 315.2,328.9 316.7,328.0 318.4,328.0 320.0,327.5 322.1,327.6 324.0,328.5 326.0,329.0 326.8,331.0 327.3,333.0 325.5,333.5 323.7,334.3 322.0,335.1 320.0,335.2 318.1,334.5 316.0,334.1 314.0,333.5 314.1,332.0 313.5,330.5" fill="#ffa77f" stroke="#626262" stroke-width="0.95" stroke-linejoin="round"/><polygon points="350.8,323.0 352.8,322.3 355.0,322.2 356.0,323.5 356.7,325.0 355.0,326.3 353.0,327.1 352.3,325.7 351.5,324.4" fill="#ffa77f" stroke="#626262" stroke-width="0.95" stroke-linejoin="round"/><polygon points="284.0,353.3 285.2,351.5 286.7,350.1 288.4,348.9 289.3,347.0 289.5,345.0 290.0,343.0 288.8,341.9 288.0,340.5 287.6,339.0 286.8,337.0 286.2,335.0 285.7,333.0 285.2,331.6 285.7,330.1 287.7,330.0 289.7,329.9 291.6,330.7 293.6,330.4 295.5,330.7 297.5,331.0 298.3,333.0 298.7,335.1 299.5,337.0 301.6,337.4 303.5,338.2 305.4,339.0 307.5,339.1 309.5,339.4 311.2,340.8 313.3,340.9 315.0,342.2 316.0,344.0 317.6,342.8 319.5,342.2 321.4,341.7 323.2,340.9 325.3,340.9 327.0,339.5 329.2,339.9 331.0,339.0 332.6,337.9 333.3,336.0 335.0,335.0 337.1,335.1 339.0,336.0 340.4,337.6 341.3,339.5 342.9,340.9 344.2,342.3 345.2,343.8 346.8,344.9 347.9,346.0 349.4,346.4 350.8,346.8 349.7,348.6 349.4,350.6 349.0,352.6 350.0,354.3 350.0,356.4 350.0,358.4 350.4,360.3 351.4,362.0 352.1,363.9 352.4,365.8 352.7,367.7 353.1,369.5 352.6,371.5 352.9,373.4 353.6,375.2 353.5,377.1 354.0,379.0 354.2,380.9 354.6,382.8 355.0,384.7 355.7,386.5 356.2,388.4 356.5,390.3 357.3,392.1 357.3,394.2 357.7,396.3 359.0,398.2 359.0,400.3 356.9,400.7 354.7,401.1 352.6,401.6 350.8,402.5 349.2,403.8 347.6,404.9 345.8,405.2 344.4,406.4 342.5,406.4 341.0,407.4 339.4,408.1 337.8,408.7 336.2,409.4 334.5,409.9 333.1,411.2 331.4,412.0 329.5,412.3 327.9,413.2 328.0,415.0 328.5,416.6 329.5,418.1 330.8,419.5 331.1,421.4 332.3,422.9 332.8,424.7 334.0,425.9 335.5,426.9 336.3,428.6 337.8,429.6 339.0,430.9 340.0,432.3 341.4,433.3 342.7,434.5 344.3,435.6 345.7,437.1 347.6,437.8 348.7,438.9 349.6,440.2 350.9,441.1 349.7,442.1 348.5,443.1 347.6,444.4 346.4,446.0 345.3,447.6 344.3,449.3 342.8,450.1 341.2,450.9 339.4,451.0 337.5,451.7 336.2,453.3 334.5,454.3 333.7,455.7 332.7,456.9 331.2,457.6 329.7,458.7 328.0,459.4 326.1,459.8 324.6,460.9 322.8,461.0 321.3,461.8 319.7,462.5 317.6,462.0 315.5,462.5 313.5,463.0 311.4,462.5 309.8,462.8 308.1,463.1 306.5,463.5 304.9,464.1 303.2,464.2 301.6,464.5 299.9,464.1 298.9,462.6 297.3,461.6 295.4,460.7 293.5,459.8 291.8,458.4 289.7,458.5 287.6,458.8 285.5,459.2 283.3,459.3 281.3,460.4 279.2,460.8 277.2,461.5 275.0,461.2 272.9,461.6 273.3,459.6 273.7,457.6 273.9,455.4 274.9,453.5 275.3,451.4 275.8,449.7 277.2,448.4 277.6,446.7 278.4,445.1 279.5,443.3 279.9,441.2 281.1,439.4 281.6,437.3 279.7,436.7 277.8,436.1 276.1,434.9 274.1,434.0 271.9,434.1 270.1,432.5 267.9,432.5 265.9,431.8 265.2,430.2 264.3,428.8 263.3,427.5 262.0,426.3 261.9,424.5 262.2,422.8 262.0,421.0 261.4,419.2 262.0,417.4 261.7,415.6 262.1,413.8 261.5,412.0 260.0,411.0 258.8,409.6 259.7,408.0 261.1,406.7 261.8,405.0 261.6,403.0 261.5,401.1 260.6,399.2 261.3,397.1 261.1,395.2 260.3,393.3 259.9,391.5 259.4,389.6 259.4,387.7 258.8,385.9 259.7,384.3 261.2,383.2 261.8,381.4 263.1,379.9 264.4,378.3 264.9,376.2 266.6,374.9 267.4,373.0 268.5,371.3 269.6,369.7 270.7,368.0 270.8,366.1 272.1,364.6 271.9,362.6 273.2,361.0 273.6,359.2 273.3,357.3 272.7,355.5 272.6,353.6 272.2,351.8 274.0,351.2 275.8,350.6 277.8,350.8 279.6,350.4 281.4,350.9 282.6,352.2" fill="#f5f57a" stroke="#626262" stroke-width="0.95" stroke-linejoin="round"/><polygon points="229.2,390.3 230.7,389.1 231.8,387.7 232.8,386.0 233.7,384.4 235.5,383.8 236.9,382.8 238.1,381.4 239.4,379.8 240.0,377.9 240.5,376.0 241.6,374.3 242.6,372.6 243.5,370.6 243.4,368.3 244.5,366.4 245.4,364.4 245.5,362.2 247.0,361.0 248.0,359.4 248.6,357.6 250.0,356.3 251.8,355.5 253.7,354.8 255.6,354.3 257.4,353.3 259.4,353.0 261.4,353.2 263.4,353.0 265.3,352.5 267.2,352.0 269.2,351.8 270.7,351.7 272.2,351.8 272.6,353.6 272.7,355.5 273.3,357.3 273.6,359.2 273.2,361.0 271.9,362.6 272.1,364.6 270.8,366.1 270.7,368.0 269.6,369.7 268.5,371.3 267.4,373.0 266.6,374.9 264.9,376.2 264.4,378.3 263.1,379.9 261.8,381.4 261.2,383.2 259.7,384.3 258.8,385.9 259.4,387.7 259.4,389.6 259.9,391.5 260.3,393.3 259.1,392.0 258.7,390.1 257.4,388.8 255.3,389.3 253.3,389.9 251.2,390.1 249.0,389.5 247.0,390.3 245.0,390.0 243.0,390.7 241.1,390.3 239.1,390.6 237.1,390.3 235.1,390.5 233.2,390.5 231.2,390.8" fill="#f5f57a" stroke="#626262" stroke-width="0.95" stroke-linejoin="round"/><polygon points="218.9,394.8 220.4,393.6 222.5,393.7 223.9,392.2 225.6,391.5 227.4,390.9 229.2,390.3 231.2,390.8 233.2,390.5 235.1,390.5 237.1,390.3 239.1,390.6 241.1,390.3 243.0,390.7 245.0,390.0 247.0,390.3 249.0,389.5 251.2,390.1 253.3,389.9 255.3,389.3 257.4,388.8 258.7,390.1 259.1,392.0 260.3,393.3 261.1,395.2 261.3,397.1 260.6,399.2 261.5,401.1 261.6,403.0 261.8,405.0 261.1,406.7 259.7,408.0 258.8,409.6 256.8,410.0 255.0,411.0 254.8,412.7 255.1,414.5 255.1,416.3 254.4,418.0 252.5,418.3 250.7,419.1 248.9,419.9 247.0,420.0 245.4,418.6 244.0,417.0 242.1,416.7 240.3,416.5 238.4,415.9 236.6,415.5 235.9,414.1 235.3,412.6 235.2,411.0 233.6,409.9 232.3,408.5 230.9,407.3 229.6,405.8 227.8,405.0 226.3,403.8 224.7,402.9 223.2,401.7 222.2,400.0 220.4,399.2 219.5,397.9 219.3,396.3" fill="#f5f57a" stroke="#626262" stroke-width="0.95" stroke-linejoin="round"/><polygon points="255.0,411.0 256.8,410.0 258.8,409.6 260.0,411.0 261.5,412.0 262.1,413.8 261.7,415.6 262.0,417.4 261.4,419.2 262.0,421.0 261.7,422.6 261.0,424.0 259.3,423.6 257.7,424.4 256.0,424.0 255.1,422.1 254.7,420.1 254.4,418.0 255.1,416.3 255.1,414.5 254.8,412.7" fill="#f5f57a" stroke="#626262" stroke-width="0.95" stroke-linejoin="round"/><polygon points="218.9,394.8 219.3,396.3 219.5,397.9 220.4,399.2 222.2,400.0 223.2,401.7 224.7,402.9 226.3,403.8 227.8,405.0 229.6,405.8 230.9,407.3 232.3,408.5 233.6,409.9 235.2,411.0 235.3,412.6 235.9,414.1 236.6,415.5 238.4,415.9 240.3,416.5 242.1,416.7 244.0,417.0 245.4,418.6 247.0,420.0 248.9,419.9 250.7,419.1 252.5,418.3 254.4,418.0 254.7,420.1 255.1,422.1 256.0,424.0 257.7,424.4 259.3,423.6 261.0,424.0 261.9,425.0 262.0,426.3 263.3,427.5 264.3,428.8 265.2,430.2 265.9,431.8 267.9,432.5 270.1,432.5 271.9,434.1 274.1,434.0 276.1,434.9 277.8,436.1 279.7,436.7 281.6,437.3 281.1,439.4 279.9,441.2 279.5,443.3 278.4,445.1 277.6,446.7 277.2,448.4 275.8,449.7 275.3,451.4 274.9,453.5 273.9,455.4 273.7,457.6 273.3,459.6 272.9,461.6 270.9,462.0 269.4,463.3 267.5,463.9 266.2,465.5 265.1,467.1 264.1,468.6 262.9,470.0 261.9,471.6 260.9,473.1 260.4,474.9 259.3,476.5 258.0,478.0 256.7,479.5 255.7,481.2 255.2,482.9 253.9,484.2 253.3,485.9 255.1,485.6 257.0,485.6 258.6,484.6 260.4,484.3 261.1,486.1 262.7,487.2 263.5,489.0 264.0,490.7 265.1,492.2 264.6,494.3 265.3,496.3 265.1,498.4 264.5,500.5 264.1,502.6 263.5,504.7 261.7,505.1 260.4,506.3 261.3,507.9 262.5,509.4 263.5,511.0 263.2,513.1 263.6,515.2 263.5,517.3 264.9,518.7 266.7,519.6 268.1,521.0 269.8,522.0 270.8,523.4 271.3,525.0 271.4,526.7 273.1,528.1 274.5,529.8 272.9,530.1 271.5,530.9 269.8,530.6 268.1,530.9 266.8,532.1 265.1,532.4 263.5,532.9 261.5,533.7 259.4,534.0 257.3,534.5 255.3,535.1 253.3,536.0 251.6,537.3 249.4,537.6 247.6,536.8 245.7,536.6 243.8,536.6 241.9,536.0 240.0,536.0 238.5,534.5 236.4,533.9 235.1,532.2 233.2,531.3 231.2,530.9 229.2,531.0 227.2,531.6 225.3,530.8 223.3,531.0 221.3,531.3 219.9,532.5 218.3,533.6 217.3,535.2 215.7,536.2 214.4,537.5 213.4,539.2 213.0,541.2 213.2,543.2 212.4,545.1 212.6,547.2 212.3,549.2 211.5,551.1 209.5,550.4 207.5,549.7 205.8,548.2 203.6,547.9 201.6,547.1 199.5,546.9 197.6,546.0 195.8,544.8 193.6,544.8 191.9,543.3 189.8,543.2 187.7,542.8 185.9,541.8 184.0,540.8 182.0,540.0 179.7,540.3 177.9,539.2 175.9,539.6 173.8,539.8 171.8,540.0 170.0,538.8 168.1,537.7 166.4,536.3 164.4,535.3 162.4,534.5 160.8,533.3 159.0,532.5 157.4,531.4 155.6,530.5 153.7,529.8 152.6,528.1 152.5,526.0 151.4,524.3 152.0,522.7 153.1,521.4 154.5,520.4 155.5,518.5 155.7,516.3 157.0,514.5 157.6,512.5 157.6,510.3 158.9,508.4 159.2,506.3 159.4,504.3 159.9,502.3 160.8,500.5 160.8,498.4 161.5,496.6 161.3,494.5 161.7,492.6 162.2,490.8 163.1,489.0 163.3,486.9 164.1,484.9 163.9,482.7 163.3,480.7 162.6,478.7 162.4,476.5 161.1,475.0 159.7,473.5 158.8,471.8 157.6,470.2 157.1,468.4 155.2,467.3 154.5,465.6 153.7,463.9 154.5,462.4 154.7,460.7 155.3,459.2 154.6,457.6 153.7,456.1 152.9,454.5 151.1,453.7 150.1,451.8 148.4,450.7 146.7,449.8 145.2,448.8 143.5,447.9 141.9,447.1 140.4,446.0 138.8,445.1 137.1,444.3 135.7,443.2 134.8,441.5 133.3,440.6 131.8,439.6 130.5,438.5 128.8,438.0 127.5,436.9 126.3,435.7 126.7,433.9 127.8,432.5 127.0,431.0 125.8,429.8 124.7,428.6 126.3,428.4 127.9,428.3 129.4,427.8 131.5,427.3 133.6,427.4 135.7,427.1 137.6,426.7 139.6,426.5 141.5,426.4 143.5,426.3 145.6,425.8 147.7,426.1 149.8,426.3 150.9,427.7 151.4,429.4 153.1,429.7 154.6,430.4 156.1,431.0 158.0,431.3 159.6,432.5 161.6,432.5 163.4,432.1 165.2,431.8 167.1,431.8 166.7,429.8 167.1,427.9 166.8,425.9 167.3,423.9 167.3,422.0 167.1,420.0 169.2,419.6 171.3,419.7 173.3,418.8 175.2,419.0 177.1,418.9 179.0,419.7 180.9,419.3 182.8,420.3 184.7,420.2 186.6,420.3 187.6,418.8 188.6,417.3 189.6,415.8 191.7,415.9 193.7,415.0 195.8,414.7 198.0,415.2 200.0,414.4 201.7,413.5 203.1,412.2 204.7,411.2 205.6,409.3 207.3,408.4 207.1,406.4 207.5,404.4 207.8,402.5 208.1,400.5 208.1,398.5 208.8,396.6 210.8,396.0 212.9,396.3 214.8,395.0 216.8,394.9" fill="#f5f57a" stroke="#626262" stroke-width="0.95" stroke-linejoin="round"/><polygon points="288.8,551.0 290.7,549.9 291.8,548.1 293.5,546.8 294.8,545.1 295.3,547.1 295.2,549.1 295.7,551.0 295.6,553.0 296.5,555.0 296.2,557.0 295.8,558.9 295.8,560.9 295.5,562.9 295.2,564.9 295.6,566.9 294.8,568.8 293.1,569.4 291.7,570.6 290.3,571.8 289.4,570.1 288.1,568.8 286.7,567.6 285.9,565.9 285.7,564.1 285.0,562.4 285.1,560.5 285.1,558.7 284.4,557.0 285.7,555.7 287.0,554.3 288.0,552.7" fill="#f5f57a" stroke="#626262" stroke-width="0.95" stroke-linejoin="round"/><polygon points="51.6,511.6 52.8,510.2 54.5,509.6 56.1,508.6 57.5,507.6 59.5,507.2 61.4,506.4 63.4,506.0 65.4,505.3 67.4,504.8 69.2,503.7 71.3,503.7 72.7,504.8 74.3,505.6 76.3,505.6 77.7,506.7 79.2,507.6 81.2,507.7 83.2,508.3 85.2,508.7 87.2,508.8 89.2,509.1 91.1,510.0 93.1,510.0 95.1,510.7 97.0,511.2 99.0,511.6 101.1,511.9 102.9,513.1 104.8,514.1 106.8,514.6 109.0,514.8 110.7,516.1 112.6,517.0 114.7,517.5 116.4,518.0 118.2,518.3 120.0,518.8 122.1,518.3 124.2,518.6 126.3,518.8 128.0,520.1 130.4,520.0 132.0,521.6 134.1,522.0 136.2,522.3 138.4,522.7 140.4,523.5 142.5,523.7 144.5,524.4 146.7,524.3 148.3,524.3 149.8,524.8 151.4,524.3 152.5,526.0 152.6,528.1 153.7,529.8 155.6,530.5 157.4,531.4 159.0,532.5 160.8,533.3 162.4,534.5 164.4,535.3 166.4,536.3 168.1,537.7 170.0,538.8 171.8,540.0 173.8,539.8 175.9,539.6 177.9,539.2 179.7,540.3 182.0,540.0 184.0,540.8 185.9,541.8 187.7,542.8 189.8,543.2 191.9,543.3 193.6,544.8 195.8,544.8 197.6,546.0 199.5,546.9 201.6,547.1 203.6,547.9 205.8,548.2 207.5,549.7 209.5,550.4 211.5,551.1 211.5,553.0 210.2,554.5 209.9,556.5 208.9,558.2 207.7,559.7 207.0,561.5 205.6,562.9 203.7,563.3 202.1,564.5 200.6,565.6 199.0,566.7 197.0,566.8 195.6,568.3 193.7,568.8 191.6,569.3 189.6,570.2 187.8,571.3 185.8,572.2 183.8,572.8 181.8,573.7 179.9,574.7 178.6,576.3 177.6,578.1 176.4,579.7 175.6,581.7 174.4,583.3 173.4,585.1 172.0,586.6 170.6,588.1 169.8,590.0 169.0,591.9 167.5,593.4 166.4,595.0 165.6,597.0 164.1,598.4 164.6,600.4 165.4,602.3 165.2,604.4 166.0,606.3 164.5,607.4 163.3,608.9 162.3,610.4 161.0,611.8 159.8,613.2 158.2,614.2 157.4,616.1 156.1,617.7 154.4,619.1 154.1,621.2 152.9,622.9 151.8,624.6 150.3,626.1 148.6,627.0 146.8,627.5 145.2,628.6 143.6,629.6 141.6,629.8 140.1,631.1 138.4,632.0 136.4,632.2 134.4,632.0 132.5,633.3 130.5,632.9 128.6,633.5 126.6,633.8 124.5,633.2 122.6,634.0 120.7,634.6 118.7,634.8 116.8,635.1 114.8,635.2 112.8,634.9 110.8,635.0 108.8,635.2 106.9,635.9 105.0,636.7 102.8,636.5 100.9,637.1 99.0,637.9 97.1,638.7 95.1,639.2 93.0,639.2 91.1,639.9 89.1,640.4 87.0,640.8 85.2,642.1 83.1,642.3 81.3,643.6 79.2,643.8 77.4,642.9 76.3,641.1 74.6,640.1 72.6,639.5 71.3,637.9 70.7,636.2 69.0,635.2 68.1,633.6 67.4,632.0 66.6,630.1 66.0,628.1 65.6,626.1 65.4,624.1 63.9,623.1 62.2,622.6 60.8,621.5 59.1,620.9 57.5,620.2 56.9,618.3 57.2,616.1 55.9,614.3 55.8,612.3 55.5,610.3 56.0,608.6 56.9,607.0 58.0,605.6 59.2,604.2 59.5,602.4 60.7,600.8 61.5,598.9 63.3,597.9 64.5,596.3 65.4,594.5 66.0,592.6 66.3,590.6 66.6,588.6 67.0,586.6 66.6,584.5 67.4,582.6 68.5,580.8 69.3,578.8 70.1,576.9 70.7,574.9 71.2,572.8 71.5,570.7 72.9,569.0 73.3,566.9 73.5,564.9 73.8,562.9 73.9,560.9 74.7,559.0 75.4,557.1 75.3,555.0 76.0,553.0 77.3,551.4 78.6,549.9 79.9,548.3 81.4,546.8 82.5,545.1 83.2,543.2 82.3,541.6 81.2,540.2 80.5,538.5 79.2,537.2 77.2,537.3 75.3,536.1 73.3,536.1 71.3,535.9 69.4,535.5 67.4,535.3 65.5,534.6 63.4,534.5 61.6,533.3 59.5,533.0 57.7,532.0 55.6,531.9 53.6,531.3 53.7,529.3 53.9,527.4 53.6,525.4 53.2,523.4 52.2,521.5 51.9,519.5 51.6,517.5 51.1,515.5 51.6,513.6" fill="#ffa77f" stroke="#626262" stroke-width="0.95" stroke-linejoin="round"/><polygon points="53.6,525.4 53.9,527.4 53.7,529.3 53.6,531.3 55.6,531.9 57.7,532.0 59.5,533.0 61.6,533.3 63.4,534.5 65.5,534.6 67.4,535.3 69.4,535.5 71.3,535.9 73.3,536.1 75.3,536.1 77.2,537.3 79.2,537.2 80.5,538.5 81.2,540.2 82.3,541.6 83.2,543.2 82.5,545.1 81.4,546.8 79.9,548.3 78.6,549.9 77.3,551.4 76.0,553.0 75.3,555.0 75.4,557.1 74.7,559.0 73.9,560.9 73.8,562.9 73.5,564.9 73.3,566.9 72.9,569.0 71.5,570.7 71.2,572.8 70.7,574.9 70.1,576.9 69.3,578.8 68.5,580.8 67.4,582.6 66.6,584.5 67.0,586.6 66.6,588.6 66.3,590.6 66.0,592.6 65.4,594.5 64.5,596.3 63.3,597.9 61.5,598.9 60.7,600.8 59.5,602.4 59.2,604.2 58.0,605.6 56.9,607.0 56.0,608.6 55.5,610.3 55.8,612.3 55.9,614.3 57.2,616.1 56.9,618.3 57.5,620.2 55.5,620.7 53.5,620.5 51.6,619.7 49.6,620.5 47.6,620.2 45.7,619.3 43.7,618.6 41.8,618.0 39.6,617.9 37.7,617.0 35.8,616.2 34.2,616.4 33.2,617.7 31.8,618.2 31.8,616.2 32.7,614.3 32.6,612.2 33.5,610.3 34.2,608.4 35.1,606.5 35.7,604.5 35.8,602.4 35.7,600.4 35.6,598.4 35.1,596.4 34.6,594.4 33.9,592.5 33.8,590.5 33.0,588.9 31.9,587.5 30.7,586.2 29.9,584.6 31.3,583.2 31.7,581.2 33.3,579.9 33.6,577.9 34.7,576.3 35.8,574.7 36.3,572.6 37.1,570.7 37.6,568.6 39.2,567.0 39.3,564.8 40.4,563.0 40.8,560.9 41.7,559.0 42.0,556.9 43.4,555.1 43.5,552.9 44.9,551.2 45.7,549.3 46.3,547.2 46.7,545.1 47.6,543.2 48.2,541.2 48.8,539.2 49.4,537.2 50.2,535.3 51.4,533.4 51.6,531.3 52.8,529.5 53.3,527.5" fill="#ffa77f" stroke="#626262" stroke-width="0.95" stroke-linejoin="round"/><polygon points="196.0,596.0 197.8,595.2 199.6,594.5 201.3,593.5 203.0,592.5 204.6,593.4 206.5,593.4 208.2,593.8 210.0,594.0 211.1,595.7 212.0,597.5 213.4,599.0 212.3,600.5 210.7,601.5 209.4,602.8 208.0,604.0 206.3,604.7 204.6,605.5 202.8,605.5 201.0,606.0 199.8,604.2 198.0,602.9 197.0,601.0 196.3,599.4 196.6,597.6" fill="#ffa77f" stroke="#626262" stroke-width="0.95" stroke-linejoin="round"/><polygon points="217.4,594.0 218.9,593.5 220.3,592.5 222.0,592.5 222.8,594.2 223.3,596.0 221.8,596.7 220.7,598.0 219.0,598.4 219.0,596.7 217.7,595.6" fill="#ffa77f" stroke="#626262" stroke-width="0.95" stroke-linejoin="round"/><polygon points="178.0,608.0 179.5,607.1 181.2,606.5 183.0,606.3 183.7,607.7 185.1,608.6 185.8,610.0 184.5,611.8 182.4,612.6 181.0,614.2 180.4,612.6 180.0,610.9 178.9,609.5" fill="#ffa77f" stroke="#626262" stroke-width="0.95" stroke-linejoin="round"/><polygon points="265.1,492.2 266.9,491.5 268.8,491.5 270.7,490.8 272.7,491.4 274.5,490.6 275.9,489.2 277.8,488.8 279.2,487.5 280.6,486.2 282.6,485.8 283.9,484.3 284.6,486.4 286.0,488.0 287.1,489.8 288.1,491.1 289.6,492.1 290.2,493.7 291.7,492.9 293.3,492.5 294.9,492.2 295.2,490.6 295.8,489.0 296.5,487.5 297.7,485.8 298.2,483.6 299.6,482.0 301.1,482.6 302.7,482.5 304.3,482.7 306.0,481.9 307.4,480.6 309.0,479.6 309.0,477.7 308.7,475.9 308.2,474.1 310.2,473.4 312.2,472.8 314.4,473.1 316.4,472.4 318.3,471.9 320.2,471.6 322.2,471.6 324.1,471.4 325.9,470.5 327.9,470.7 329.9,470.9 331.9,471.4 333.8,472.0 335.8,472.3 337.8,472.4 339.1,473.4 340.3,474.5 341.0,476.0 342.4,477.6 344.0,478.8 345.9,479.8 346.7,481.4 346.2,483.3 346.4,485.0 346.9,486.7 346.4,488.3 346.5,490.0 345.9,491.6 347.3,492.6 347.6,494.5 348.9,495.6 347.0,496.7 345.1,497.8 343.1,498.0 341.5,499.5 339.4,499.7 337.7,500.7 336.0,502.0 334.8,503.7 332.9,504.8 331.8,506.6 332.3,508.4 333.0,510.1 333.2,512.1 334.4,513.6 334.7,515.5 335.7,517.1 336.0,519.1 336.8,520.8 337.8,522.5 338.8,524.1 340.2,525.5 340.7,527.4 342.1,528.8 343.6,530.1 345.0,531.5 346.2,533.1 347.7,534.4 348.9,536.0 350.7,537.0 352.1,538.4 353.3,540.0 354.2,542.0 355.3,543.9 356.6,545.7 356.8,548.1 358.4,549.7 359.2,551.8 361.1,552.8 362.4,554.7 364.1,555.9 366.4,556.4 368.0,557.7 369.6,559.2 371.7,559.3 373.8,558.9 375.8,558.9 377.9,559.6 380.0,559.2 381.3,560.2 382.8,560.5 384.4,560.7 382.9,562.2 383.6,563.6 383.7,565.2 384.4,566.6 386.4,567.0 387.9,568.6 389.7,569.3 391.8,569.7 393.3,571.1 395.1,571.6 397.0,571.7 398.6,573.1 400.3,573.8 402.2,574.0 403.9,575.0 405.9,575.5 407.3,577.1 409.0,578.1 411.0,578.6 412.5,580.0 413.8,581.4 415.2,582.5 417.0,583.2 418.4,584.4 419.0,586.3 418.9,588.4 419.9,590.3 418.3,591.6 417.0,593.3 415.5,592.1 415.2,590.0 413.2,589.2 412.5,587.4 411.0,586.6 409.8,585.5 407.9,585.4 406.6,584.4 404.6,584.1 402.6,584.4 400.7,583.7 399.2,584.9 398.0,586.5 396.2,587.4 395.7,589.3 394.9,591.1 394.1,592.9 393.3,594.7 394.1,596.3 395.4,597.6 396.2,599.2 397.4,600.7 399.5,601.1 401.0,602.2 402.2,603.7 402.0,605.7 401.8,607.6 402.2,609.6 400.5,610.5 398.9,611.4 397.6,612.7 396.2,614.0 395.5,615.8 395.5,617.7 395.2,619.6 394.8,621.4 394.0,623.4 392.8,625.3 391.0,626.7 390.3,628.8 388.8,629.1 387.4,629.7 385.9,630.2 385.1,628.8 385.3,627.1 384.4,625.8 384.9,624.0 385.8,622.4 386.0,620.4 386.3,618.6 387.4,617.0 387.6,614.9 386.3,612.9 386.0,610.8 386.4,608.6 385.9,606.6 385.0,604.8 384.1,603.0 383.3,601.2 382.9,599.2 381.1,597.9 379.2,596.9 377.2,596.0 375.5,594.7 374.3,592.9 372.6,591.7 371.2,590.2 369.6,588.8 367.6,588.2 366.1,586.5 364.1,585.9 362.4,584.8 360.1,584.7 358.7,582.8 356.7,582.2 354.8,581.4 353.0,580.7 351.7,579.1 350.1,578.2 348.0,577.9 346.6,576.5 345.0,575.5 343.7,573.7 342.0,572.3 340.8,570.4 339.5,568.6 337.7,567.3 335.6,566.5 334.4,564.6 332.1,564.2 330.9,562.1 328.8,561.4 327.4,560.1 325.7,559.1 324.1,558.0 322.6,556.8 321.6,555.0 319.9,554.0 319.1,552.0 317.2,550.7 316.4,548.6 315.1,547.0 313.3,545.6 312.5,543.6 311.4,542.1 311.0,540.2 309.9,538.6 309.4,536.8 308.6,535.1 308.1,533.3 307.6,531.3 306.6,529.6 305.5,527.9 304.7,526.1 303.6,524.4 302.4,522.9 300.4,522.3 299.4,520.6 297.7,519.7 296.2,518.5 294.4,518.2 292.7,518.0 290.9,518.3 289.2,518.5 287.4,518.5 285.6,519.1 284.1,520.2 282.7,521.5 280.8,522.0 279.7,523.5 278.4,525.0 277.3,526.5 276.3,528.2 275.3,529.8 274.5,529.8 273.1,528.1 271.4,526.7 271.3,525.0 270.8,523.4 269.8,522.0 268.1,521.0 266.7,519.6 264.9,518.7 263.5,517.3 263.6,515.2 263.2,513.1 263.5,511.0 262.5,509.4 261.3,507.9 260.4,506.3 261.7,505.1 263.5,504.7 264.1,502.6 264.5,500.5 265.1,498.4 265.3,496.3 264.6,494.3" fill="#f5f57a" stroke="#626262" stroke-width="0.95" stroke-linejoin="round"/><polygon points="337.5,632.6 339.2,631.7 341.0,631.2 342.8,630.5 344.6,630.0 346.6,629.8 348.3,629.0 350.4,629.2 352.4,629.7 354.6,629.3 356.5,630.6 358.6,630.4 360.8,630.3 362.8,630.8 364.5,630.0 366.5,630.3 368.3,630.0 370.1,629.9 371.9,629.5 373.7,629.0 375.6,628.7 377.2,627.6 379.0,627.1 380.9,627.1 380.3,628.9 379.7,630.6 379.6,632.5 379.3,634.4 379.1,636.2 379.0,638.4 378.7,640.6 378.2,642.7 377.2,644.8 377.3,647.0 377.3,648.8 377.6,650.7 378.3,652.4 378.0,654.3 376.1,653.7 374.2,652.8 372.2,652.3 370.3,651.8 368.2,651.5 366.4,650.6 364.8,649.4 362.6,649.2 361.1,647.7 359.3,646.8 357.3,646.4 355.6,645.2 353.9,644.2 351.8,643.7 350.1,642.7 348.1,642.0 346.7,640.3 344.7,639.8 342.8,639.5 341.3,638.1 339.3,638.0 338.7,636.2 338.0,634.4" fill="#f5f57a" stroke="#626262" stroke-width="0.95" stroke-linejoin="round"/><polygon points="281.4,577.7 283.4,576.9 285.5,576.4 287.6,575.8 289.8,575.7 291.8,574.7 293.0,576.5 294.6,577.8 296.3,579.1 297.7,580.7 298.2,582.6 298.5,584.6 299.0,586.5 298.4,588.6 298.5,590.6 299.2,592.5 299.2,594.5 298.5,596.4 298.5,598.4 298.4,600.4 297.9,602.3 297.7,604.3 297.2,606.4 296.8,608.5 295.7,610.5 295.8,612.7 294.8,614.7 292.9,615.0 291.0,615.1 289.2,615.5 287.4,616.2 286.0,615.3 284.5,614.5 282.7,614.4 281.4,613.2 281.2,611.2 281.7,609.3 281.0,607.3 281.6,605.3 281.8,603.4 281.4,601.4 281.2,599.3 280.8,597.3 279.9,595.5 279.4,593.5 278.8,591.5 278.5,589.5 279.4,587.6 280.0,585.7 280.2,583.7 280.5,581.7 281.0,579.7" fill="#f5f57a" stroke="#626262" stroke-width="0.95" stroke-linejoin="round"/><polygon points="298.3,465.8 299.3,465.1 299.9,464.1 301.6,464.5 303.2,464.2 304.9,464.1 306.5,463.5 308.1,463.1 309.8,462.8 311.4,462.5 313.5,463.0 315.5,462.5 317.6,462.0 319.7,462.5 321.3,461.8 322.8,461.0 324.6,460.9 326.1,459.8 328.0,459.4 329.7,458.7 331.2,457.6 332.7,456.9 333.7,455.7 334.5,454.3 336.2,453.3 337.5,451.7 339.4,451.0 341.2,450.9 342.8,450.1 344.3,449.3 345.3,447.6 346.4,446.0 347.6,444.4 348.5,443.1 349.7,442.1 350.9,441.1 352.5,440.7 354.2,441.1 356.1,440.3 357.3,438.6 359.1,437.8 360.8,436.7 362.4,435.4 364.0,436.0 365.8,435.6 367.4,436.2 369.0,436.7 370.6,437.1 372.3,436.9 374.0,437.0 376.1,437.7 378.3,437.8 380.5,437.8 382.2,438.4 383.9,438.8 385.5,439.5 385.9,441.2 386.7,442.7 386.8,444.4 387.1,446.1 387.1,448.3 387.4,450.4 387.1,452.6 386.4,454.5 385.1,456.1 383.8,457.6 383.1,459.2 383.4,460.9 383.0,462.6 382.2,464.1 381.5,466.0 381.5,468.0 380.9,470.2 379.5,471.9 378.8,473.1 377.5,473.8 375.6,474.7 373.5,474.8 371.5,475.0 369.6,475.8 367.6,475.7 365.7,476.4 363.6,475.9 361.7,476.5 359.7,476.8 357.7,476.6 355.9,477.6 354.0,478.1 352.0,478.0 350.0,478.5 348.0,479.6 345.9,479.8 344.0,478.8 342.4,477.6 341.0,476.0 340.3,474.5 339.1,473.4 337.8,472.4 335.8,472.3 333.8,472.0 331.9,471.4 329.9,470.9 327.9,470.7 325.9,470.5 324.1,471.4 322.2,471.6 320.2,471.6 318.3,471.9 316.4,472.4 314.7,472.6 313.1,473.1 311.4,473.5 309.8,474.0 308.0,473.5 306.5,472.4 304.8,472.1 303.2,471.3 301.6,470.7 300.9,468.8 299.3,467.5" fill="#f5f57a" stroke="#626262" stroke-width="0.95" stroke-linejoin="round"/><polygon points="327.9,413.2 329.5,412.3 331.4,412.0 333.1,411.2 334.5,409.9 336.2,409.4 337.8,408.7 339.4,408.1 341.0,407.4 342.5,406.4 344.4,406.4 345.8,405.2 347.6,404.9 349.2,403.8 350.8,402.5 352.6,401.6 354.7,401.1 356.9,400.7 359.0,400.3 360.9,400.7 362.4,401.6 364.1,402.4 365.7,403.3 367.2,404.3 368.8,405.3 370.6,404.8 372.1,403.7 373.7,402.7 375.4,402.0 377.3,402.9 379.0,404.1 380.3,405.8 382.0,407.0 383.9,407.7 385.9,407.5 388.0,407.4 389.9,408.2 391.8,408.6 393.7,409.3 395.4,410.3 396.9,411.5 398.5,412.7 399.8,414.3 401.7,415.0 400.7,416.9 400.0,418.9 399.4,420.9 399.5,423.1 398.4,425.0 396.8,425.9 395.0,426.3 393.7,427.1 393.2,428.6 392.0,429.6 391.3,431.4 390.2,433.1 388.8,434.5 387.8,436.2 386.2,437.6 385.5,439.5 383.9,438.8 382.2,438.4 380.5,437.8 378.3,437.8 376.1,437.7 374.0,437.0 372.3,436.9 370.6,437.1 369.0,436.7 367.4,436.2 365.8,435.6 364.0,436.0 362.4,435.4 360.8,436.7 359.1,437.8 357.3,438.6 356.1,440.3 354.2,441.1 352.5,440.7 350.9,441.1 349.6,440.2 348.7,438.9 347.6,437.8 345.7,437.1 344.3,435.6 342.7,434.5 341.4,433.3 340.0,432.3 339.0,430.9 337.8,429.6 336.3,428.6 335.5,426.9 334.0,425.9 332.8,424.7 332.3,422.9 331.1,421.4 330.8,419.5 329.5,418.1 328.5,416.6 328.0,415.0" fill="#abcd66" stroke="#626262" stroke-width="0.95" stroke-linejoin="round"/><polygon points="350.8,346.8 352.2,345.5 353.7,344.4 354.7,342.8 356.0,341.5 357.4,340.4 358.7,339.0 360.6,338.5 362.0,337.1 363.8,336.5 365.2,335.2 367.2,334.8 369.0,334.2 370.5,333.0 372.6,333.0 374.6,332.8 376.7,333.4 378.7,332.9 380.7,332.3 382.7,331.5 384.3,330.1 386.1,329.0 388.0,328.2 390.0,327.6 390.8,329.4 392.3,330.7 393.5,332.2 395.2,333.4 397.0,334.5 398.4,335.1 400.0,335.2 401.5,335.7 402.6,334.5 403.8,333.4 406.0,333.6 408.1,332.8 410.2,332.3 412.4,332.6 414.5,331.9 416.6,331.8 418.8,331.7 420.9,331.3 423.1,331.3 425.3,330.9 427.4,330.0 429.6,330.1 431.8,329.9 433.9,329.2 436.0,328.8 437.9,329.3 439.7,330.3 441.7,330.4 443.3,331.9 445.3,332.2 447.0,333.3 448.1,335.1 449.9,336.0 450.1,337.7 450.7,339.4 450.8,341.1 451.0,342.8 450.3,344.7 450.6,346.9 449.7,348.8 450.0,350.9 449.7,352.9 449.2,354.9 448.3,356.8 448.1,358.9 447.8,360.9 448.8,362.7 449.9,364.4 450.5,366.3 450.6,368.5 451.6,370.3 453.1,371.8 453.5,373.9 454.3,375.7 455.5,377.5 456.2,379.5 457.1,381.3 457.8,383.4 458.9,385.1 460.0,387.0 461.0,388.8 461.1,390.9 461.4,393.0 462.3,394.9 462.6,397.0 461.0,398.1 459.4,399.2 457.8,400.3 456.2,401.4 454.3,402.0 453.4,403.8 451.8,405.0 450.8,406.7 449.7,408.4 448.6,410.0 447.8,411.8 448.4,413.8 448.8,415.9 449.4,417.8 450.4,419.7 451.0,421.7 449.2,421.1 447.3,420.7 445.4,420.5 443.5,420.5 441.7,420.0 439.8,419.9 437.9,420.0 435.7,419.6 433.5,420.2 431.3,419.9 429.1,419.7 426.9,419.6 424.7,420.0 422.8,420.4 421.0,421.0 419.1,420.5 417.2,421.0 415.4,421.5 413.5,421.9 411.6,421.7 410.1,420.3 408.2,419.6 406.9,417.9 405.2,416.9 403.1,416.4 401.7,415.0 399.8,414.3 398.5,412.7 396.9,411.5 395.4,410.3 393.7,409.3 391.8,408.6 389.9,408.2 388.0,407.4 385.9,407.5 383.9,407.7 382.0,407.0 380.3,405.8 379.0,404.1 377.3,402.9 375.4,402.0 373.7,402.7 372.1,403.7 370.6,404.8 368.8,405.3 367.2,404.3 365.7,403.3 364.1,402.4 362.4,401.6 360.9,400.7 359.0,400.3 359.0,398.2 357.7,396.3 357.3,394.2 357.3,392.1 356.5,390.3 356.2,388.4 355.7,386.5 355.0,384.7 354.6,382.8 354.2,380.9 354.0,379.0 353.5,377.1 353.6,375.2 352.9,373.4 352.6,371.5 353.1,369.5 352.7,367.7 352.4,365.8 352.1,363.9 351.4,362.0 350.4,360.3 350.0,358.4 350.0,356.4 350.0,354.3 349.0,352.6 349.4,350.6 349.7,348.6" fill="#abcd66" stroke="#626262" stroke-width="0.95" stroke-linejoin="round"/><polygon points="385.5,439.5 386.2,437.6 387.8,436.2 388.8,434.5 390.2,433.1 391.3,431.4 392.0,429.6 393.2,428.6 393.7,427.1 395.0,426.3 396.8,425.9 398.4,425.0 399.5,423.1 399.4,420.9 400.0,418.9 400.7,416.9 401.7,415.0 403.1,416.4 405.2,416.9 406.9,417.9 408.2,419.6 410.1,420.3 411.6,421.7 413.5,421.9 415.4,421.5 417.2,421.0 419.1,420.5 421.0,421.0 422.8,420.4 424.7,420.0 426.9,419.6 429.1,419.7 431.3,419.9 433.5,420.2 435.7,419.6 437.9,420.0 439.8,419.9 441.7,420.0 443.5,420.5 445.4,420.5 447.3,420.7 449.2,421.1 451.0,421.7 450.6,423.7 450.5,425.7 451.2,427.6 451.3,429.6 451.0,431.6 449.2,432.5 447.3,432.6 445.4,433.1 443.5,433.6 441.6,433.7 439.8,434.7 437.9,434.9 436.4,436.3 434.2,436.4 432.4,437.4 431.0,438.9 429.2,439.9 427.4,440.7 425.7,441.8 424.0,442.8 422.0,443.3 420.1,443.9 418.0,443.4 416.2,444.6 414.1,444.5 412.2,444.9 410.6,445.8 409.9,447.6 408.4,448.5 407.3,449.9 405.4,450.1 403.5,450.1 401.6,450.3 399.6,450.3 397.7,450.4 395.8,449.9 393.9,449.4 392.3,448.4 390.5,447.8 388.8,447.0 387.1,446.1 386.8,444.4 386.7,442.7 385.9,441.2" fill="#abcd66" stroke="#626262" stroke-width="0.95" stroke-linejoin="round"/><polygon points="387.1,446.1 388.8,447.0 390.5,447.8 392.3,448.4 393.9,449.4 395.8,449.9 397.7,450.4 399.6,450.3 401.6,450.3 403.5,450.1 405.4,450.1 407.3,449.9 408.4,448.5 409.9,447.6 410.6,445.8 412.2,444.9 414.1,444.5 416.2,444.6 418.0,443.4 420.1,443.9 422.0,443.3 424.0,442.8 425.7,441.8 427.4,440.7 429.2,439.9 431.0,438.9 432.4,437.4 434.2,436.4 436.4,436.3 437.9,434.9 439.8,434.7 441.6,433.7 443.5,433.6 445.4,433.1 447.3,432.6 449.2,432.5 451.0,431.6 451.2,433.8 451.0,435.9 450.8,438.0 450.9,440.2 450.7,442.2 449.5,443.9 449.4,445.9 448.6,447.7 447.8,449.5 447.4,451.6 446.9,453.6 446.0,455.6 446.1,457.8 444.9,459.7 444.7,461.8 443.3,463.1 442.7,464.9 441.7,466.5 440.2,467.7 439.5,469.5 438.6,471.1 437.3,472.5 436.5,474.3 435.4,475.9 434.0,477.3 432.1,478.0 430.0,477.8 427.9,478.2 426.3,479.5 424.3,480.2 422.7,481.4 420.5,481.7 418.8,482.8 417.1,484.0 415.5,485.2 413.8,486.4 412.2,487.7 410.1,487.2 408.1,488.1 406.1,487.2 404.0,487.7 402.2,487.5 400.6,486.6 399.0,485.8 397.6,484.7 395.8,484.4 393.9,483.8 392.4,482.7 391.1,481.0 389.2,480.6 387.6,479.5 386.0,478.9 384.4,478.8 384.1,477.1 384.1,475.3 383.6,473.7 383.0,472.0 382.5,469.9 381.5,468.0 381.5,466.0 381.4,464.1 381.9,462.2 381.7,460.2 382.3,458.3 382.6,456.4 384.0,455.0 385.3,453.6 387.1,452.6 387.4,450.4 387.1,448.3" fill="#abcd66" stroke="#626262" stroke-width="0.95" stroke-linejoin="round"/><polygon points="345.9,479.8 348.0,479.6 350.0,478.5 352.0,478.0 354.0,478.1 355.9,477.6 357.7,476.6 359.7,476.8 361.7,476.5 363.6,475.9 365.7,476.4 367.6,475.7 369.6,475.8 371.5,475.0 373.5,474.8 375.6,474.7 377.5,473.8 378.8,473.1 379.5,471.9 380.9,470.2 381.5,468.0 382.5,469.9 383.0,472.0 383.6,473.7 384.1,475.3 384.1,477.1 384.4,478.8 383.6,480.7 383.1,482.7 382.4,484.7 381.0,485.7 379.9,487.1 378.7,488.3 377.5,489.6 375.7,490.6 373.5,490.7 371.6,491.6 370.1,492.8 368.2,493.3 366.7,494.6 364.8,494.6 363.2,495.8 361.3,495.7 359.7,496.6 358.1,497.2 356.3,497.4 354.8,498.5 353.1,498.5 351.5,499.2 349.9,499.5 349.5,497.5 348.9,495.6 347.6,494.5 347.3,492.6 345.9,491.6 346.5,490.0 346.4,488.3 346.9,486.7 346.4,485.0 346.2,483.3 346.7,481.4" fill="#abcd66" stroke="#626262" stroke-width="0.95" stroke-linejoin="round"/><polygon points="384.4,478.8 386.0,478.9 387.6,479.5 389.2,480.6 391.1,481.0 392.4,482.7 393.9,483.8 395.8,484.4 397.6,484.7 399.0,485.8 400.6,486.6 402.2,487.5 404.0,487.7 406.1,487.2 408.1,488.1 410.1,487.2 412.2,487.7 413.6,489.2 415.5,490.0 416.0,491.6 417.0,493.0 417.9,494.5 418.8,496.0 419.9,497.4 419.5,499.1 418.4,500.4 416.8,500.6 415.3,500.8 414.0,501.8 412.2,501.2 410.3,501.0 408.5,501.2 406.6,501.1 404.8,501.7 402.9,501.2 401.0,501.4 399.2,501.8 397.3,502.1 395.4,502.3 393.7,503.1 391.8,503.3 389.9,503.4 388.1,503.6 386.2,503.7 384.4,503.3 382.9,504.3 381.5,505.4 380.0,506.3 380.6,507.7 381.4,509.1 381.4,510.7 382.0,512.6 382.7,514.6 382.9,516.6 383.7,518.1 383.9,519.8 385.4,521.0 385.9,522.6 387.4,524.0 389.1,525.3 390.0,527.3 391.8,528.5 393.3,529.6 395.0,530.3 396.2,531.8 397.7,532.9 399.0,534.3 400.6,535.2 401.8,536.7 403.6,537.4 405.2,538.4 406.3,540.0 408.3,540.5 409.6,541.8 410.9,543.3 412.8,544.1 414.2,545.5 415.5,547.0 413.8,546.7 412.4,545.7 411.0,544.8 409.4,543.9 408.2,542.6 406.6,541.8 405.2,540.8 403.5,540.0 402.2,538.8 400.2,538.4 398.1,538.3 396.2,537.4 394.7,536.7 393.3,535.9 391.6,535.6 390.3,534.4 388.7,533.5 387.4,532.1 385.6,531.5 384.4,530.0 383.5,528.4 382.0,527.1 381.5,525.2 380.0,524.0 379.1,522.3 377.7,521.0 376.0,519.9 375.2,518.1 374.0,516.6 372.8,514.9 370.9,513.8 369.6,512.2 368.1,510.7 367.1,508.9 365.2,507.8 363.9,506.1 361.9,505.1 360.7,503.3 359.2,501.8 357.9,503.5 356.3,504.8 355.4,506.2 354.8,507.8 353.5,508.8 351.8,509.2 350.4,508.0 349.8,506.3 348.9,504.8 348.4,503.4 348.9,501.8 348.1,500.4 349.9,499.5 351.5,499.2 353.1,498.5 354.8,498.5 356.3,497.4 358.1,497.2 359.7,496.6 361.3,495.7 363.2,495.8 364.8,494.6 366.7,494.6 368.2,493.3 370.1,492.8 371.6,491.6 373.5,490.7 375.7,490.6 377.5,489.6 378.7,488.3 379.9,487.1 381.0,485.7 382.4,484.7 383.1,482.7 383.6,480.7" fill="#ffa77f" stroke="#626262" stroke-width="0.95" stroke-linejoin="round"/><polygon points="450.9,440.2 452.9,440.5 454.8,439.7 456.7,439.7 458.7,439.7 460.6,439.7 462.5,438.8 464.4,438.7 466.4,438.7 468.3,439.2 470.3,438.7 472.2,439.2 474.1,439.9 476.1,439.4 478.0,439.5 479.9,440.1 481.8,440.2 483.5,439.3 485.5,438.7 487.0,437.3 488.7,436.3 490.9,436.2 492.6,435.3 494.2,434.0 495.2,432.4 496.7,431.2 498.1,429.9 498.4,427.8 500.0,426.6 501.6,427.8 503.4,428.8 505.4,429.2 507.1,430.2 508.4,431.8 510.0,433.0 511.6,434.2 513.0,435.6 514.2,437.3 515.9,438.4 517.0,440.2 518.8,441.2 519.8,443.1 521.3,444.4 522.6,446.1 523.6,447.9 524.3,449.8 525.3,451.7 526.6,453.3 527.2,455.0 527.6,456.8 527.8,458.6 528.5,460.3 528.4,462.2 529.1,464.0 529.7,465.8 530.3,467.6 531.0,469.3 532.0,471.0 533.8,472.1 535.3,473.7 537.3,474.6 539.2,473.6 541.1,472.6 542.6,471.0 544.3,470.2 546.2,470.8 548.0,470.2 549.7,471.0 549.6,472.8 550.1,474.6 550.6,476.3 550.8,478.1 550.6,479.9 549.2,480.6 547.6,481.0 546.2,481.7 545.3,483.5 544.0,485.1 543.3,486.9 542.6,488.8 542.5,490.6 542.7,492.4 542.2,494.2 541.7,495.9 541.7,498.1 542.2,500.2 542.5,502.4 540.6,501.7 538.6,502.1 536.6,501.8 534.6,501.9 532.9,501.4 531.1,501.1 529.6,499.9 527.7,499.9 525.7,499.4 523.8,499.1 521.8,499.8 519.8,499.4 518.0,500.4 516.2,501.2 514.4,502.0 512.9,503.4 510.9,503.9 509.1,504.7 507.3,505.8 505.5,506.7 503.5,507.0 501.5,506.9 499.6,507.7 497.7,508.3 495.8,508.9 493.8,508.6 491.9,509.4 489.9,509.0 488.0,509.8 486.0,510.1 484.0,509.7 482.0,510.2 480.0,510.5 478.1,511.3 476.1,510.8 474.1,511.3 472.3,510.2 470.1,510.1 468.3,508.9 466.4,508.2 465.3,506.8 464.8,505.1 464.3,503.4 463.3,502.0 461.2,501.5 459.1,501.3 457.2,500.1 454.9,500.4 453.0,499.4 450.9,499.0 449.1,497.7 448.0,495.7 446.4,494.2 444.7,492.8 443.7,491.3 443.1,489.4 441.5,488.2 440.3,486.8 439.8,484.9 438.6,483.5 437.1,482.2 436.4,480.3 435.2,478.8 434.0,477.3 435.4,475.9 436.5,474.3 437.3,472.5 438.6,471.1 439.5,469.5 440.2,467.7 441.7,466.5 442.7,464.9 443.3,463.1 444.7,461.8 444.9,459.7 446.1,457.8 446.0,455.6 446.9,453.6 447.4,451.6 447.8,449.5 448.6,447.7 449.4,445.9 449.5,443.9 450.7,442.2" fill="#abcd66" stroke="#626262" stroke-width="0.95" stroke-linejoin="round"/><polygon points="466.4,508.2 468.3,508.9 470.1,510.1 472.3,510.2 474.1,511.3 476.1,510.8 478.1,511.3 480.0,510.5 482.0,510.2 484.0,509.7 486.0,510.1 488.0,509.8 489.9,509.0 491.9,509.4 493.8,508.6 495.8,508.9 497.7,508.3 499.6,507.7 501.5,506.9 503.5,507.0 505.5,506.7 507.3,505.8 509.1,504.7 510.9,503.9 512.9,503.4 514.4,502.0 516.2,501.2 518.0,500.4 519.8,499.4 521.8,499.8 523.8,499.1 525.7,499.4 527.7,499.9 529.6,499.9 531.1,501.1 532.9,501.4 534.6,501.9 536.6,501.8 538.6,502.1 540.6,501.7 542.5,502.4 543.1,503.6 543.5,504.9 542.3,506.1 540.7,507.0 540.2,509.0 538.6,509.8 538.1,511.5 537.3,513.1 536.6,514.7 536.8,516.7 536.9,518.8 537.6,520.7 536.9,522.5 535.5,523.9 534.6,525.6 536.1,526.8 537.1,528.5 538.6,529.6 539.9,530.9 541.5,531.9 542.5,533.5 540.8,533.7 539.3,534.4 537.6,534.5 535.6,534.0 533.7,534.2 531.7,534.5 530.2,535.4 528.8,536.6 527.1,537.3 525.7,538.4 525.1,539.7 524.4,541.0 523.8,542.4 521.9,543.2 519.8,543.4 519.5,544.9 518.8,546.3 517.2,547.7 515.2,548.7 513.7,550.3 511.8,551.3 509.8,551.8 507.9,551.6 505.9,551.0 504.0,551.3 502.0,551.3 500.1,552.0 498.1,552.1 496.0,551.9 494.1,552.9 492.1,552.9 490.0,553.1 488.2,554.4 486.0,554.5 484.2,555.7 482.2,556.2 480.6,555.6 478.9,556.2 477.2,555.9 476.9,554.0 477.7,552.1 477.7,550.3 477.2,548.4 476.7,546.3 475.7,544.5 474.0,543.1 473.4,541.0 472.6,539.1 471.5,537.4 471.5,535.4 470.6,533.6 469.7,531.9 469.5,529.9 468.9,528.0 468.7,526.0 467.6,524.3 467.1,522.4 466.4,520.6 465.2,519.3 464.4,517.7 464.5,515.7 463.3,514.4 464.0,512.8 465.2,511.5 465.3,509.6" fill="#abcd66" stroke="#626262" stroke-width="0.95" stroke-linejoin="round"/><polygon points="441.0,594.0 441.4,592.2 441.3,590.4 440.7,588.6 441.5,586.8 441.0,585.0 442.3,583.9 443.2,582.5 444.0,581.0 445.8,581.0 447.2,579.8 448.9,579.6 449.7,577.6 451.1,575.9 452.1,574.0 453.3,572.2 454.7,571.0 456.2,569.8 457.6,568.5 459.6,567.9 460.7,566.3 462.0,565.1 463.7,564.9 465.2,564.2 466.6,563.3 468.5,562.6 470.2,561.6 471.8,560.4 473.6,559.6 475.5,558.9 477.2,557.6 478.5,555.9 480.4,556.0 482.2,556.2 484.2,555.7 486.0,554.5 488.2,554.4 490.0,553.1 492.1,552.9 494.1,552.9 496.0,551.9 498.1,552.1 500.1,552.0 502.0,551.3 504.0,551.3 505.9,551.0 507.9,551.6 509.8,551.8 511.8,551.3 513.7,550.3 515.2,548.7 517.2,547.7 518.8,546.3 519.5,544.9 519.8,543.4 521.9,543.2 523.8,542.4 524.7,544.4 525.4,546.3 525.7,548.3 524.9,550.2 525.4,552.3 524.7,554.2 524.6,556.0 523.1,557.4 523.4,559.4 522.5,561.0 520.5,560.5 518.5,559.9 516.5,559.2 514.4,559.2 512.6,560.0 510.7,559.9 509.0,560.8 507.0,560.7 504.9,560.7 503.1,561.7 501.1,562.2 499.5,563.1 498.1,564.2 496.6,565.2 495.1,565.5 493.8,566.5 492.2,566.6 491.2,568.0 490.7,569.6 492.1,571.2 493.7,572.6 494.6,574.2 495.9,575.5 494.0,574.9 492.2,574.0 490.7,574.8 489.2,575.5 488.3,577.0 487.3,578.5 486.3,580.0 485.6,581.4 485.8,583.1 484.8,584.4 484.7,586.0 483.6,587.3 483.3,588.8 484.5,590.2 485.1,591.9 486.3,593.3 484.8,594.2 483.0,594.8 481.8,596.2 483.2,597.8 484.8,599.2 486.8,599.4 488.7,600.5 490.7,600.7 492.6,601.8 494.7,602.4 496.6,603.6 497.3,605.1 498.2,606.4 499.2,607.7 500.2,609.2 501.0,610.8 502.2,612.2 502.2,614.1 503.3,615.8 503.7,617.7 503.6,619.6 502.3,618.6 500.7,618.1 498.7,617.8 496.8,618.2 494.8,618.1 492.9,617.3 490.9,616.6 488.8,616.6 486.7,616.1 484.5,615.9 482.5,615.1 480.7,613.9 478.5,613.6 476.7,613.8 474.9,613.7 473.1,613.5 471.4,613.2 469.6,612.9 467.8,613.2 466.1,614.1 464.4,614.6 462.6,615.0 460.7,615.1 459.4,613.5 457.8,612.2 456.2,610.8 454.8,609.2 454.2,607.5 452.4,606.6 451.8,604.8 450.1,604.1 448.7,603.1 447.4,601.8 445.9,600.4 444.8,598.5 443.0,597.4 442.4,595.5" fill="#abcd66" stroke="#626262" stroke-width="0.95" stroke-linejoin="round"/><polygon points="462.2,618.1 463.9,617.0 465.7,616.1 467.6,615.5 469.6,615.1 471.4,615.2 473.1,615.8 475.0,615.9 476.8,616.1 478.5,616.6 479.7,617.8 481.2,618.6 483.0,618.8 484.4,619.6 486.0,619.7 487.5,620.1 488.8,621.0 490.3,622.5 491.8,624.0 493.5,624.7 494.8,625.9 496.2,627.0 494.7,627.5 493.3,628.4 492.0,627.1 490.2,626.7 488.8,625.5 488.0,626.9 488.2,628.5 487.4,629.9 488.9,631.6 489.7,633.7 490.3,635.8 491.1,637.3 492.1,638.6 492.7,640.2 493.3,641.8 492.1,643.0 491.8,644.7 490.5,643.4 489.3,642.0 488.6,640.2 487.4,638.8 486.1,637.7 484.4,637.3 484.9,639.3 484.8,641.3 484.4,643.3 482.6,644.4 481.4,646.2 481.2,644.2 480.6,642.2 480.0,640.3 478.7,638.6 477.0,637.3 476.5,638.8 476.0,640.3 475.5,641.8 473.8,640.5 472.6,638.8 471.6,637.0 471.6,634.9 471.1,632.9 469.5,632.1 468.3,630.5 466.6,629.9 465.5,628.6 464.7,627.0 463.7,625.5 462.2,624.3 461.5,622.5 462.1,621.1 461.6,619.5" fill="#abcd66" stroke="#626262" stroke-width="0.95" stroke-linejoin="round"/><polygon points="490.5,569.5 491.9,570.2 493.5,570.0 494.0,572.0 494.5,574.0 493.8,575.7 493.5,577.5 493.2,576.0 492.0,575.0 491.2,573.2 491.4,571.2" fill="#abcd66" stroke="#626262" stroke-width="0.95" stroke-linejoin="round"/><polygon points="494.0,569.0 495.4,569.6 497.0,569.5 497.7,571.5 498.5,573.5 497.8,575.2 497.5,577.0 496.9,575.2 496.0,573.5 495.0,572.1 494.2,570.7" fill="#abcd66" stroke="#626262" stroke-width="0.95" stroke-linejoin="round"/><polygon points="497.0,568.0 498.6,568.3 500.0,567.5 501.2,569.2 502.0,571.0 501.6,573.0 501.5,575.0 500.2,573.4 499.5,571.5 498.4,569.6" fill="#abcd66" stroke="#626262" stroke-width="0.95" stroke-linejoin="round"/><polygon points="502.0,659.8 504.1,660.1 506.1,659.9 508.2,659.5 510.2,659.2 512.2,658.7 514.4,659.1 516.4,658.7 518.4,658.2 520.3,658.1 522.2,658.6 524.0,659.0 525.9,659.2 527.8,659.8 529.7,659.9 531.6,659.8 533.4,658.9 535.3,658.6 537.4,658.9 539.3,658.3 541.1,657.5 543.1,657.5 542.6,659.0 542.4,660.7 541.4,662.1 539.3,662.3 537.3,662.7 535.3,663.6 533.3,663.9 531.2,663.9 529.1,664.1 527.1,664.6 525.0,664.7 523.0,664.7 521.2,665.2 519.4,666.2 517.5,666.3 515.5,666.3 513.7,667.0 511.8,667.4 509.7,667.0 507.6,666.4 505.7,665.3 503.6,664.7 503.1,663.1 502.7,661.4" fill="#abcd66" stroke="#626262" stroke-width="0.95" stroke-linejoin="round"/><polygon points="489.0,597.0 490.9,597.7 492.3,599.1 494.1,599.9 496.0,600.5 497.2,601.7 498.2,603.1 499.9,603.7 501.0,605.0 502.3,606.6 504.3,607.4 505.5,609.0 506.6,610.4 507.9,611.5 509.6,612.2 508.7,613.5 508.0,615.0 506.3,614.4 504.9,613.1 503.6,611.8 502.0,611.0 500.5,609.8 499.2,608.3 497.2,607.6 496.0,606.0 494.8,604.3 492.9,603.3 491.2,602.2 490.0,600.5 489.3,598.8" fill="#abcd66" stroke="#626262" stroke-width="0.95" stroke-linejoin="round"/><polygon points="524.0,585.0 526.0,584.7 527.9,583.7 530.0,583.5 531.9,584.3 533.2,586.0 535.0,587.0 534.0,588.6 532.7,589.9 531.0,590.7 529.1,589.9 527.1,589.1 525.0,589.0 524.6,587.0" fill="#abcd66" stroke="#626262" stroke-width="0.95" stroke-linejoin="round"/><polygon points="560.0,632.0 561.6,631.3 562.8,630.2 564.0,629.0 565.0,630.1 565.3,631.7 566.0,633.0 564.6,634.5 564.0,636.5 563.0,638.2 562.0,640.0 560.7,638.6 559.5,637.0 560.1,635.4 559.5,633.6" fill="#abcd66" stroke="#626262" stroke-width="0.95" stroke-linejoin="round"/><polygon points="110.8,308.6 112.4,307.8 113.1,305.9 114.5,304.9 116.0,304.4 117.0,303.2 118.2,302.4 120.2,302.1 122.3,301.6 124.3,301.2 126.1,301.1 127.6,302.3 129.3,302.4 129.0,303.6 129.3,304.9 127.9,306.2 126.2,306.9 124.3,307.3 122.8,308.7 121.0,309.7 119.4,311.0 117.9,312.5 117.2,314.5 115.7,316.0 116.8,317.4 118.2,318.4 119.4,319.7 121.0,320.2 122.5,321.0 124.3,320.9 125.7,322.5 127.6,323.4 129.3,324.6 130.4,325.5 131.8,326.2 133.0,327.0 132.0,328.5 132.1,330.5 131.1,332.0 131.2,334.1 132.0,336.1 131.7,338.2 131.7,340.3 130.9,342.3 130.5,344.3 130.4,346.4 130.3,348.4 130.5,350.5 129.9,352.2 129.1,353.9 128.0,355.4 125.9,356.1 123.8,356.7 121.9,357.9 119.8,358.1 117.9,358.7 116.0,359.6 113.9,359.5 112.0,360.4 110.0,360.8 108.1,361.2 106.0,360.7 104.1,361.6 102.1,361.6 99.9,361.4 97.8,361.4 95.6,361.7 93.5,362.2 91.4,361.6 89.2,361.3 87.1,361.0 84.9,361.0 83.0,360.4 81.6,358.9 79.9,357.9 79.3,355.8 79.6,353.6 79.4,351.4 78.7,349.3 80.8,349.2 82.9,348.9 84.9,348.0 85.0,346.0 86.1,344.3 87.8,343.6 89.5,343.0 91.0,341.9 91.2,340.2 91.9,338.6 92.3,336.9 91.5,335.1 92.1,333.1 91.1,331.4 91.0,329.5 91.5,327.5 90.6,325.4 91.0,323.4 91.5,321.9 92.4,320.7 93.5,319.7 93.7,318.0 93.0,316.4 93.5,314.7 95.1,314.4 96.7,313.8 98.4,313.5 99.8,314.4 101.6,314.6 102.9,315.8 104.6,316.0 106.3,315.2 107.9,314.4 109.5,313.5 110.3,312.0 110.7,310.3" fill="#abcd66" stroke="#626262" stroke-width="0.95" stroke-linejoin="round"/><polygon points="539.2,552.3 546.1,549.4 553,548.2 559.3,547.1 559.3,543 560.3,543 560.3,547.1 564.5,548.8 572.6,548.8 570.3,551.1 563.4,553.4 556.4,558 549.5,559.8 543.8,562.6 538,562.6 533.4,563.8 531.1,565 527.7,569.5 525.9,573 525.4,571.8 530,563.8 536.9,558" fill="#d9f0fe" stroke="#707070" stroke-width="0.6" stroke-linejoin="round"/><polygon points="461,88 509,88 509,106 503,108 499,111 501,117 509,121 509,130 501,125.5 493.6,123.5 489.2,117.6 484.8,111.7 483.3,104.3 478.8,99.8 468.5,94" fill="#d9f0fe" stroke="#707070" stroke-width="0.6" stroke-linejoin="round"/><polygon points="246.5,357 254,356.5 256.5,358.5 254,362 255,366 252.5,371 250,374.5 248.5,370 249.5,365 246.8,361.5" fill="#d9f0fe" stroke="#707070" stroke-width="0.6" stroke-linejoin="round"/><polygon points="476,190 483,183 492,182 500,188 502.7,200 496,210 487,212.7 480,206 475.3,198" fill="#d9f0fe" stroke="#707070" stroke-width="0.6" stroke-linejoin="round"/><polygon points="500,156 506,154 514,160 522,166 526.3,176 520,181.4 512,176 504,168" fill="#d9f0fe" stroke="#707070" stroke-width="0.6" stroke-linejoin="round"/><polygon points="463,238 467,237.8 470,243 470.8,252 468,255.5 464,250" fill="#d9f0fe" stroke="#707070" stroke-width="0.6" stroke-linejoin="round"/><polygon points="539.5,186.5 545,184 548.5,188 546,192.5 541,191.5" fill="#d9f0fe" stroke="#707070" stroke-width="0.6" stroke-linejoin="round"/><polygon points="551,207 556,203 560,204.5 563,209 568,212.5 567,218 561,220.5 555,216 553,211" fill="#d9f0fe" stroke="#707070" stroke-width="0.6" stroke-linejoin="round"/><polygon points="521.5,158 524,156.5 525.5,160 523,162.5" fill="#d9f0fe" stroke="#707070" stroke-width="0.6" stroke-linejoin="round"/><polygon points="545,161 547.5,159.5 549,165 547,167" fill="#d9f0fe" stroke="#707070" stroke-width="0.6" stroke-linejoin="round"/><polygon points="253.3,485.9 257,482.5 262,482.5 260.4,484.3" fill="#d9f0fe" stroke="#707070" stroke-width="0.6" stroke-linejoin="round"/><polyline points="325,89 331,92 327,98 323,109 320.7,120.5 316.1,132 312.9,147.2 304,159 295,168 286.2,176.8 274.4,185.7 264,194.6 259.6,206.4 258.1,221.2 258.1,236 262.6,250.8 271.4,262.7 280,272.6 288.2,267.7 296.4,261.1 303,256.2 308,251.3" fill="none" stroke="#6a6a6a" stroke-width="1.1" stroke-linejoin="round"/><path d="M326.6 92.8L325.2 94.5M326.7 92.8L326.8 93.3L326.7 95.4L327.0 96.5M325.3 91.5L325.4 92.6L325.9 94.5L326.4 94.7M329.7 93.3L329.6 93.9L329.7 94.7M325.8 92.1L325.5 93.5L325.3 94.2L324.6 95.6M326.8 92.5L324.9 93.6L323.4 92.9L322.3 92.8M327.9 93.6L328.9 94.2M326.9 93.8L326.7 95.0L326.6 95.9M327.2 91.1L326.3 90.9M325.4 89.3L325.5 90.9L326.5 91.7M326.2 89.8L326.5 91.9L326.7 93.3M324.6 92.6L325.5 92.8L326.3 93.5L326.8 93.7M324.2 91.3L323.6 91.1L321.8 91.1L320.6 90.1M325.6 91.3L325.4 93.0L325.4 94.7L325.6 96.3M325.1 89.6L323.5 88.9L322.5 89.1L321.2 90.2M327.5 95.7L327.9 96.4L328.3 96.9M331.3 97.1L330.4 97.9L328.7 99.0M329.6 97.9L330.7 98.4L332.3 97.9M329.1 92.1L330.5 92.1M328.5 97.2L328.8 96.3L330.2 95.3M331.0 96.3L332.2 96.4L333.3 96.0L334.5 94.8M329.5 92.2L330.8 91.3L332.0 90.9L332.5 90.1M329.8 96.6L330.2 95.8L330.6 93.7L329.8 93.0M329.6 93.5L330.2 93.8M327.8 97.7L329.1 99.1L330.4 99.5M330.8 99.3L332.6 99.6L333.8 99.8L334.4 99.4M329.0 95.6L329.7 96.8M329.8 94.3L330.6 94.4M330.0 95.6L330.7 96.9L332.1 98.4M327.8 97.6L327.9 96.0L328.7 95.1L329.5 93.7M332.5 95.9L332.8 96.7L332.4 98.6M326.6 99.2L325.4 100.7L324.7 102.3L324.7 103.0M327.2 108.8L327.7 108.6M323.4 106.8L325.4 107.4L326.4 108.5M331.0 99.7L332.3 99.8L333.9 99.9M325.4 107.4L327.1 108.2L327.9 110.1M330.6 99.7L331.5 97.9M328.7 107.2L329.8 109.0L330.3 109.4M323.9 108.3L324.1 107.7L323.5 107.0M329.2 100.2L329.2 102.0L328.7 102.3L327.9 104.2M324.8 103.1L325.1 105.0L324.5 106.0M324.9 105.4L326.0 105.3L327.8 104.3L329.3 103.8M326.8 98.1L327.9 98.0L329.3 97.5L331.3 97.8M324.3 107.1L324.3 108.2L324.8 109.2L325.0 109.9M329.2 105.5L330.8 107.1L332.3 107.1M325.7 103.7L326.7 103.1L327.4 102.2L328.4 102.3M326.3 104.0L328.3 104.3L329.8 104.9M322.8 107.2L323.4 107.3L324.8 107.0L326.0 107.6M322.9 107.3L323.6 107.8M325.4 102.9L326.1 103.5M326.2 99.2L327.4 99.6L327.9 100.7L328.3 101.7M327.3 107.0L328.6 107.2L330.1 107.9L330.6 108.9M324.6 102.1L325.7 101.7L327.4 102.8L329.3 102.6M325.7 102.8L326.4 103.0L327.8 103.2M325.7 100.6L326.5 101.7L327.3 103.6L328.1 104.0M327.7 109.0L326.5 110.4L326.5 111.2L326.1 111.7M324.6 100.1L326.1 99.7L327.3 98.1M318.5 118.1L317.9 117.2M322.2 118.9L320.4 118.5L319.8 116.8L319.5 116.4M320.8 114.6L319.5 115.0L317.3 115.1M321.5 111.3L321.1 110.8L320.9 110.3L319.5 108.7M320.8 116.8L319.0 117.1M323.6 109.9L323.2 109.2L323.6 107.2L324.4 106.9M319.4 113.1L318.5 113.6L318.2 114.5L318.9 115.5M321.6 117.9L321.3 116.9L321.2 115.8L321.0 115.2M318.2 111.7L318.1 110.7L318.6 109.8L319.2 109.7M317.8 111.8L317.6 109.8L315.9 108.5L314.8 107.2M315.9 119.5L314.7 119.1L314.2 118.2M318.2 108.7L318.6 106.7L319.7 105.7L321.4 105.6M318.2 113.9L317.1 114.5M318.3 117.3L317.3 116.0L316.3 114.6L316.6 113.9M321.8 116.5L320.4 118.2M319.7 116.5L319.2 116.0L319.1 114.5M320.5 110.6L320.6 111.7L320.6 112.5L321.5 114.0M317.7 113.7L316.4 113.9M318.7 120.0L316.6 120.1L315.6 119.1M319.9 115.5L319.1 115.7L317.5 117.1M318.3 118.6L316.9 118.7M318.3 119.6L317.8 119.4L317.6 118.9L317.6 118.2M322.7 112.5L321.6 111.6L320.8 111.7L319.2 112.7M322.4 119.8L322.1 120.4M318.2 111.2L316.8 112.7L315.8 113.4L315.1 113.4M317.7 116.3L318.4 114.4L319.1 114.3M322.2 124.7L321.5 125.9L321.4 126.6M318.2 124.8L319.9 125.9L320.1 127.0M320.0 129.5L319.6 131.6M317.3 127.3L317.4 128.3L317.2 128.8M317.0 130.7L318.9 131.9L319.1 133.7M317.7 124.8L318.2 123.6L318.4 122.6M318.2 124.1L319.3 123.5L320.2 122.0M318.4 132.7L318.5 132.1M319.5 130.6L319.5 132.0M320.0 121.4L321.0 123.0L320.6 124.4L319.9 124.9M320.7 128.9L321.3 128.4M317.7 125.2L317.4 123.9L316.7 123.2M321.0 120.8L321.6 121.0L321.8 121.5L321.1 123.0M314.9 131.3L314.1 132.6L313.2 133.5M318.8 131.1L319.6 130.9L320.1 129.7M315.7 131.5L316.0 132.9L315.7 133.7M320.5 131.4L321.7 129.8L322.1 129.0M318.9 127.7L320.0 129.5M318.4 131.6L320.0 133.0M324.8 122.4L325.7 122.2M319.3 129.5L319.9 130.6L321.4 131.0L322.8 130.2M317.4 126.2L318.2 125.9M315.3 130.3L315.5 131.5M318.6 132.2L319.5 132.8L320.7 132.6M323.6 125.3L325.0 126.3L325.9 126.3M316.1 131.0L317.1 132.9L317.8 133.3M318.9 121.3L319.8 122.9M318.1 124.5L319.7 124.5L320.3 123.9L320.6 122.6M311.2 132.9L310.1 134.2M312.4 137.9L310.5 137.8M311.9 139.3L311.5 140.8M310.4 144.0L309.4 142.7L307.7 142.5L306.4 143.2M310.2 140.6L308.9 140.9M310.7 146.6L309.7 147.2M309.3 142.8L308.0 144.0L307.4 144.3L306.9 144.9M312.5 144.5L310.5 143.7L309.0 144.5L308.8 145.3M311.7 133.3L311.1 132.9L309.7 131.3M313.8 135.8L311.7 135.3L309.7 136.1L308.3 136.9M313.6 134.4L312.7 134.0M313.3 145.2L311.4 145.5M312.7 139.6L312.2 139.8L310.5 140.2L308.9 140.5M314.4 133.5L313.6 132.2L313.0 130.1M313.8 133.4L312.9 134.9L312.4 136.3L312.4 137.6M310.9 135.8L310.8 135.3L311.6 134.1L311.7 133.6M311.3 139.5L310.3 138.9L308.2 139.2L307.2 139.1M313.7 132.9L312.8 133.1L312.2 133.4M313.4 135.0L313.6 133.7L314.1 133.0M312.4 142.2L312.5 141.3L311.5 140.2M312.0 141.6L311.2 142.7M314.1 145.6L313.0 145.3L312.0 143.5M312.4 142.8L312.1 141.6L312.8 140.3L314.5 139.1M312.4 133.1L311.8 131.7L312.6 130.2M315.8 133.2L315.5 134.5L315.1 134.9L314.0 136.0M313.4 135.0L312.9 135.0L312.7 134.6L311.8 133.4M313.9 139.6L312.5 140.8L310.7 140.4M313.2 138.0L311.7 137.1L309.7 136.4M310.8 139.2L309.8 138.5L309.4 138.0M311.6 144.2L311.1 142.7L310.9 142.2L310.9 141.6M314.7 140.1L314.1 140.3M315.7 140.3L315.6 141.5L314.9 142.8M309.8 141.0L309.7 142.7L309.7 144.3L309.6 145.0M313.4 141.3L312.1 141.0L310.9 139.5M309.9 146.5L309.0 146.2L308.0 146.6M315.1 150.7L316.8 151.7L318.4 152.0M308.3 154.2L309.9 153.9M306.3 154.2L307.9 153.1L308.0 152.0L309.3 150.7M313.3 148.7L313.0 150.4L313.1 151.1L312.7 151.6M305.1 159.7L304.3 160.5L303.9 161.7M311.2 156.4L312.2 156.9M312.7 148.0L312.5 148.7M308.9 152.6L309.3 153.5M306.2 155.4L307.2 156.7L307.4 157.4M314.7 152.1L315.8 151.6M307.4 152.8L309.3 153.8M310.3 154.1L309.6 154.7L308.8 156.7L308.9 157.3M308.2 160.9L309.2 159.8L309.7 158.7L310.0 157.3M313.2 148.0L313.8 148.3L315.4 149.2M310.8 154.1L310.7 155.2M306.4 154.2L307.1 153.1L306.9 151.5L306.5 151.2M314.8 152.1L315.4 152.9L316.3 154.2M315.0 152.6L315.0 153.4L314.8 154.6M305.9 155.6L306.9 156.4M306.5 158.2L307.0 157.7M307.9 155.2L309.0 155.8L310.3 155.9M309.8 156.9L310.3 157.3M311.9 152.0L311.4 152.9L311.3 153.5M311.5 151.8L313.2 152.1M306.8 154.6L307.3 155.1L307.6 155.6M311.9 155.3L312.8 156.8L312.5 157.6L312.3 159.4M304.7 155.8L304.7 157.5M311.8 148.0L312.1 148.7L311.1 150.7M308.7 150.2L309.2 148.1L309.3 146.2L310.7 145.2M313.6 150.5L314.7 149.1M307.2 154.9L308.5 153.9L309.8 153.5L311.8 153.1M312.7 153.0L313.0 154.4L312.3 156.4L312.7 157.3M309.1 150.7L310.2 149.6L311.7 148.7L312.1 147.8M297.8 167.7L297.4 168.4L297.0 168.8M304.4 163.1L305.3 163.6L307.2 163.9M303.3 163.0L304.6 162.5M301.7 168.4L302.2 169.7M301.9 159.2L303.9 159.2L305.1 160.1M296.7 167.5L295.1 167.8M302.7 163.8L302.4 164.5L302.6 165.0L302.2 166.8M299.9 167.5L301.5 167.1L303.3 167.7L304.0 169.5M294.3 166.9L295.1 166.9L296.1 168.7M296.8 169.6L297.2 169.2M301.6 163.5L301.9 164.4L301.7 165.1M297.0 164.0L298.2 162.3M301.2 162.5L303.2 163.0M302.1 164.8L302.3 166.5L302.8 167.3M304.7 162.6L305.1 164.7L306.6 166.2M301.8 164.0L302.4 163.0L303.0 161.8M305.7 164.1L306.3 164.1L307.4 163.6L308.0 163.5M295.1 166.1L294.6 166.9M301.0 166.1L303.1 166.0L303.5 165.5L303.9 164.5M301.2 168.4L302.2 168.9L303.2 170.0M299.8 165.1L300.2 165.9L301.4 167.5L302.5 167.5M303.1 161.7L301.4 162.7L300.2 163.9L298.3 164.6M303.5 165.1L305.0 165.2L306.1 166.8L307.6 167.3M299.4 167.2L298.6 168.7M300.9 160.5L301.6 162.5M303.1 163.1L303.7 163.9M294.3 166.5L295.8 165.7L296.4 165.6M298.3 166.7L297.6 167.8L297.4 169.4L296.9 169.9M299.0 165.5L300.1 165.1L301.6 165.5M292.7 175.1L294.2 175.4M290.3 172.7L291.0 172.9L291.4 173.5L292.9 173.8M293.5 170.7L294.7 172.4M292.9 170.1L293.2 170.6L294.3 171.4M288.5 172.2L288.0 172.8M294.3 171.0L294.9 170.8M293.0 169.6L293.8 168.8L293.9 168.1L294.2 166.0M290.4 171.9L290.4 172.8L291.1 173.4L292.9 174.1M291.9 169.3L293.8 168.6L294.4 168.1M295.7 172.0L295.6 173.3L296.8 174.8M288.7 177.3L289.2 177.6L289.3 178.9M295.0 174.0L294.2 174.4L292.7 174.2M287.4 173.8L288.4 174.7M290.9 172.5L289.0 172.6L287.8 172.4M297.3 172.0L296.3 172.9L295.5 173.8M288.9 178.6L290.4 177.9L292.0 177.6M296.1 171.9L297.6 172.0M292.3 177.8L294.3 178.3L295.0 180.1M293.8 169.4L295.0 169.2L295.8 169.3L297.3 169.5M287.2 173.6L288.1 174.6L289.1 174.5M288.0 178.3L288.7 179.9L289.0 181.0L290.6 181.6M289.4 171.3L288.6 172.9L288.0 174.9M292.1 168.9L293.9 167.7L294.2 166.2M296.0 170.8L297.5 172.0M290.7 173.3L291.2 174.8M291.4 173.1L291.6 172.5L290.7 170.5M289.8 171.5L290.7 172.0L291.0 172.5M291.1 169.5L291.7 169.7L292.1 170.0L294.2 169.4M285.3 177.8L285.5 178.5L285.4 179.3L286.8 180.9M283.7 178.5L282.8 179.8L281.7 180.0L281.3 180.9M282.5 179.0L284.1 178.2L284.8 176.2L285.5 174.3M281.3 181.4L282.0 181.6M286.5 179.5L286.3 180.0L286.3 180.6L286.1 182.6M280.2 182.4L279.9 183.1L278.7 184.4L277.8 184.5M280.6 185.4L281.4 186.1L281.6 186.6L282.7 187.2M281.0 179.7L281.2 180.2L281.8 181.0M276.1 182.5L274.9 184.1L274.3 184.8M283.8 176.4L284.7 177.6L285.8 178.0M284.0 182.2L285.2 182.6L285.8 183.5L287.0 184.5M286.4 180.8L287.2 180.6L287.7 179.6L287.5 178.2M284.6 178.0L286.7 178.2M277.4 182.4L278.3 183.9L279.4 184.8L280.6 184.9M276.4 185.1L275.1 186.7L275.0 187.5L275.8 188.4M275.9 187.2L277.6 187.6L278.6 186.7L279.7 184.8M282.9 180.2L283.0 182.1L282.4 182.7L281.4 183.2M284.4 183.6L284.6 184.6L284.3 185.6L283.2 187.3M280.9 181.0L280.8 181.6L280.1 182.7L279.3 183.0M285.8 179.8L287.3 181.0M280.8 184.5L281.8 184.2L283.3 183.6L285.1 183.5M285.4 181.3L287.0 180.7M278.4 183.4L278.6 184.2M285.6 176.6L286.5 175.8L286.6 174.6M285.2 177.0L284.3 177.8L283.8 178.7L283.3 179.5M283.7 180.4L284.7 181.1L286.3 182.4L286.4 183.5M277.0 186.5L276.3 186.7L275.9 187.6L274.0 188.2M286.0 179.2L286.7 177.4L286.4 176.5M282.9 178.0L282.7 178.6M286.3 178.1L284.6 177.9L283.4 179.1M287.1 180.6L288.0 182.1L289.1 183.2M282.5 178.6L283.1 179.2L283.6 180.1L283.2 181.9M278.1 188.6L278.3 189.5M272.0 186.0L270.5 187.4L270.0 187.6M273.5 185.2L274.2 185.6L274.3 186.4L273.6 188.1M267.6 197.7L267.7 199.0L268.1 200.2L269.7 201.6M274.4 189.5L272.8 190.6M267.2 192.2L269.4 192.3L270.0 191.7L269.8 189.8M270.4 187.5L271.8 188.2L272.8 189.7L273.8 191.1M268.0 197.8L267.2 199.7M269.2 192.9L269.5 194.7L268.8 195.7M265.5 193.0L265.3 193.7L264.3 195.1M270.8 194.6L271.6 195.1M272.6 192.7L273.3 193.7M276.1 188.8L277.8 187.6M271.1 189.2L273.0 189.2M274.0 190.4L273.9 190.9L274.1 191.9M267.0 190.0L267.5 190.4M271.7 191.5L273.5 191.6M266.0 191.1L266.1 191.9M263.5 193.1L263.9 194.8L265.5 195.6M270.1 189.3L269.0 191.0L268.7 191.7L269.0 192.4M268.6 193.0L268.4 194.3M266.5 193.6L265.3 194.5L263.3 195.4M272.4 189.0L273.5 188.8M267.9 193.8L267.8 195.2L266.8 196.0M275.0 187.5L275.7 187.8M271.0 191.6L271.8 191.9L272.2 193.4M274.2 191.7L275.1 193.6L275.8 195.3M267.0 197.1L269.1 196.4L269.7 196.0M267.1 197.4L266.6 197.7L265.6 197.6L264.6 198.5M269.8 194.7L268.7 195.9L268.0 196.9L266.1 196.8M274.5 189.2L274.5 191.2L274.1 192.7M275.3 188.4L277.0 188.9M260.3 202.8L261.1 202.5L262.6 201.9M263.8 206.0L264.6 206.3M262.5 207.2L264.0 207.8M260.5 205.7L261.6 207.3M263.6 204.2L265.2 205.1L266.4 206.7M266.5 201.2L267.0 200.8L266.9 199.0L267.9 197.5M261.8 196.0L261.1 197.5L261.4 198.1M262.0 203.8L260.8 205.3M263.4 201.0L262.5 203.0M263.3 196.3L263.1 197.9L261.9 199.3M263.3 204.7L263.6 204.3L263.9 203.6L264.2 202.7M263.2 197.1L262.8 198.3L262.8 200.4M266.6 196.6L267.1 197.5L267.7 197.6M265.3 202.5L265.0 204.2L265.5 206.2M259.9 200.5L261.6 200.2M261.8 198.9L263.4 199.0L264.3 200.0L266.1 200.0M263.8 195.6L265.5 195.7L266.3 197.0L267.4 198.0M260.2 206.4L259.6 204.3M265.3 203.3L266.2 204.9L266.7 206.7M260.0 206.4L260.9 206.2M264.2 206.4L264.6 208.0L264.7 208.9M262.6 199.7L264.6 200.5M263.6 198.7L264.5 199.4M262.4 194.9L263.7 194.0L263.7 192.8M266.2 198.8L266.9 199.1M261.4 199.7L261.5 200.7M264.5 197.1L265.2 198.8L265.5 200.5M262.9 206.3L262.9 206.9M257.9 210.2L260.0 210.4L262.2 210.6M262.8 221.0L263.4 222.1L263.9 222.2L265.7 222.2M260.5 216.6L261.2 216.4L261.8 215.8L262.4 214.1M260.7 217.6L261.6 216.2M262.5 218.7L264.2 217.8M259.5 218.6L261.6 218.3L262.6 218.7L263.1 219.1M261.1 206.8L262.2 205.5M262.8 220.6L263.0 221.1L264.8 222.2M258.7 220.9L259.2 218.8M257.3 218.7L258.0 219.3L258.1 220.4L257.3 221.3M261.6 211.2L262.0 210.9L262.1 210.2L262.9 209.0M262.3 210.3L264.3 210.1L265.1 210.0L266.9 210.6M261.5 217.5L262.1 217.8L263.9 218.8L264.6 220.6M262.5 211.0L263.9 211.1M263.8 210.9L263.9 212.3L263.5 213.9M257.3 212.4L257.7 212.9L259.6 212.9L260.4 213.4M262.6 215.8L264.4 214.9L264.5 213.4L263.8 212.7M262.3 211.2L262.6 212.3L262.1 213.1L261.9 214.4M263.3 218.2L264.4 218.9M262.9 221.3L263.6 222.3L264.5 222.3L264.9 222.8M262.0 207.5L262.9 207.6M258.9 218.9L259.7 220.6L259.3 221.8M260.6 212.4L260.9 210.5L261.3 209.9L262.9 209.4M259.3 209.6L259.8 209.2L260.2 207.9L259.8 206.8M263.8 212.5L264.8 212.4L265.3 211.5M263.9 207.6L264.8 206.6M259.0 220.4L259.5 219.7M260.2 211.9L261.5 212.6M257.3 220.2L257.3 220.7L257.0 221.4M258.3 209.3L257.8 210.1L256.9 210.9M257.5 213.7L258.2 214.5L258.6 216.4L258.1 217.3M263.5 209.6L264.4 210.1M262.8 207.5L263.8 207.5L264.8 207.9M258.2 234.5L259.3 235.3M260.9 235.2L262.1 235.2L262.7 234.5L263.1 234.1M256.7 223.7L258.1 222.9M258.0 228.6L259.9 228.6L260.5 229.4L261.0 230.4M257.3 233.2L257.9 234.4L258.5 235.1M258.0 224.4L259.7 223.6L260.2 222.9L260.1 221.9M260.2 224.7L261.9 224.0L262.6 223.8M260.8 229.2L261.7 227.5L262.6 227.1L264.4 227.2M259.2 226.8L259.9 226.6L261.3 225.7M258.1 229.2L259.9 228.3M256.7 232.3L256.8 233.0L256.4 233.6L256.7 235.6M257.7 229.8L259.4 230.0M260.5 228.2L259.8 227.0M260.6 227.3L261.7 228.6L261.6 229.2L261.4 230.8M262.6 221.8L262.3 221.1M261.9 235.0L263.1 235.7L265.1 235.9M260.9 233.0L261.1 234.6L261.0 235.3L261.1 235.9M260.7 224.8L260.8 225.8M259.5 227.0L259.4 228.0L259.2 228.8L258.4 230.3M260.7 224.8L261.6 224.4L263.5 223.6M257.3 228.2L257.4 226.6L258.4 225.7L259.7 225.6M259.7 221.7L259.6 223.8L260.0 224.4M260.6 223.6L261.5 221.9L261.1 221.0M260.2 222.3L260.1 221.8L261.1 220.0L261.1 218.2M262.4 234.5L262.9 234.8L263.4 235.1L264.4 235.1M260.4 222.4L261.1 222.9L262.4 223.1L263.3 223.7M260.6 225.5L260.9 226.6L262.4 227.8L263.4 227.5M259.4 226.9L259.8 227.5L261.1 228.1M263.0 230.8L264.6 231.0L266.6 231.7M261.9 231.2L262.5 231.1L263.6 230.7M262.8 225.2L262.6 224.6M257.8 226.6L258.5 225.1L259.0 223.8L258.3 221.8M262.0 233.9L262.3 233.5L262.0 232.1L262.6 231.3M262.9 238.1L264.5 238.5M260.0 244.6L260.3 242.8L261.1 242.3M262.9 249.7L264.4 248.3M261.5 247.2L261.2 246.6M262.5 249.4L261.9 248.2L262.2 247.3L261.4 246.2M262.8 235.8L264.7 235.1L266.5 235.7M264.8 248.2L264.0 246.6L262.5 245.8M258.6 238.2L259.6 237.0M261.9 240.1L262.6 240.3M257.8 240.5L258.1 241.9L259.1 243.2M264.1 240.5L263.8 242.3L262.7 243.0L262.1 243.1M257.5 237.9L258.9 238.8M260.9 246.2L262.4 245.2L263.7 244.5M263.8 244.8L265.1 245.2M257.8 240.6L259.4 240.7L260.7 241.5M263.8 245.9L264.5 244.8L264.0 242.8L262.6 241.4M259.4 237.1L259.6 235.4M261.8 246.4L263.8 245.5M259.7 246.3L261.6 245.5M264.2 249.5L264.8 249.0L266.4 249.4L267.4 250.8M262.6 237.5L263.6 236.7M259.5 245.9L261.4 245.3L262.1 245.5M258.1 238.4L259.7 238.1L260.6 236.6L262.0 235.5M261.5 248.5L261.2 247.2L260.5 245.5M260.5 245.2L262.2 244.0L263.5 244.4M260.8 248.0L262.5 246.9L263.4 246.7L265.2 247.2M264.0 243.7L264.4 243.4M264.6 241.7L263.3 240.1L262.8 239.4M258.8 243.7L260.2 243.5L261.8 243.3M264.1 240.1L265.5 239.9M265.8 245.6L266.7 244.9M259.5 241.9L260.0 241.7L261.6 240.7M262.0 236.4L261.6 235.4L260.9 235.0L260.3 234.6M263.7 241.4L264.7 239.6L265.7 239.0M259.2 244.4L261.1 243.8L263.0 243.8M268.9 260.2L269.9 258.7M273.4 260.1L272.7 258.1L271.3 257.2M266.8 257.8L268.6 258.8M268.0 250.7L267.7 250.1L267.0 249.3M269.2 256.7L270.0 256.1L270.2 255.4M269.6 256.5L271.6 256.0L271.9 255.5M267.9 254.4L266.8 253.3L265.0 252.1L264.1 251.3M271.3 256.2L272.6 255.8M266.6 250.8L266.0 249.1L266.1 247.6M274.1 260.6L275.0 262.3M268.9 254.9L268.9 254.1L268.6 253.4L269.3 251.4M262.1 251.2L262.9 250.0L262.7 249.2L262.4 247.3M273.2 260.5L273.0 259.6M268.5 255.2L268.3 253.5L266.7 252.1L266.4 251.0M269.3 261.7L268.8 260.0L268.5 259.3L268.1 257.2M267.8 260.0L269.0 260.0M265.3 256.9L266.1 258.0M266.1 249.6L267.1 248.0M272.2 257.6L274.3 257.7L276.3 258.1L277.0 258.1M262.0 252.6L262.5 250.9L261.5 249.7M263.3 251.9L264.1 251.1M267.7 252.6L267.9 254.0L267.2 255.3M268.1 256.2L267.8 255.7M271.0 257.3L273.1 257.9L274.0 258.8L274.3 260.8M268.4 260.2L269.6 259.9M270.6 254.3L271.1 253.7L271.0 253.2M270.4 260.9L271.5 262.6L272.5 262.9L274.3 262.1M271.6 262.1L271.4 260.5M268.7 260.1L270.8 259.5M266.7 257.2L267.9 257.1M273.9 259.7L274.9 258.8M272.4 260.9L273.6 260.7M270.2 260.2L271.6 261.3M272.1 263.4L273.9 263.4L274.9 262.6L275.6 261.1M277.1 267.3L276.5 266.4M278.3 270.0L277.9 268.4L277.6 266.3M277.7 266.1L278.3 264.0L279.1 263.4M273.7 263.6L274.6 265.1M281.9 267.8L282.8 268.4M275.5 262.8L274.8 261.0L273.6 259.7L273.0 259.7M274.2 267.0L273.1 265.9M274.1 265.8L275.4 265.4L275.9 264.9M279.9 266.8L279.4 265.9M277.0 267.4L277.2 265.3L278.6 264.2L279.2 264.1M278.7 272.1L279.9 271.9M280.7 270.2L281.2 269.6M275.4 260.6L276.8 259.7M272.6 265.7L273.1 265.6L275.0 266.1M278.8 273.0L278.9 272.4L278.5 271.0M281.4 269.8L280.3 268.8L280.0 268.3L280.0 267.2M274.1 266.4L275.8 267.0M276.3 269.0L276.8 268.3M272.9 263.3L273.6 263.2M277.8 267.8L276.4 267.6L275.4 266.0L275.1 263.9M273.5 265.2L273.8 264.8L274.1 264.1M270.7 264.3L271.9 262.9M281.2 267.5L281.7 266.1M281.4 269.2L282.0 268.9L283.3 269.4M277.3 267.8L278.6 267.9L279.4 267.9M277.1 267.0L278.6 268.1M279.0 265.1L279.1 264.2L279.5 262.3M274.2 265.8L273.3 265.7L271.7 264.4L270.9 262.7M284.9 267.7L286.0 266.8L286.2 265.2M284.0 267.9L283.8 267.1L284.8 265.4L285.3 265.0M280.3 272.8L280.5 272.0L282.0 271.0M284.2 269.5L283.3 268.9L283.0 267.3M283.7 266.0L285.3 264.8L285.4 263.9L286.1 263.6M285.6 264.7L286.6 263.7L287.0 262.9M284.7 271.4L285.6 271.0L286.3 270.6M283.5 265.2L281.8 265.6M286.5 265.6L285.2 264.6M286.1 267.3L286.4 266.9M287.8 267.5L285.8 267.5M282.7 265.8L281.8 265.7M281.1 266.9L281.8 266.9L282.7 265.3M286.4 266.6L287.5 266.2M284.1 272.0L283.6 271.4M281.1 273.3L280.8 272.1M287.5 266.8L286.5 267.0L285.7 267.0M282.7 270.2L283.1 269.7L283.5 268.3L284.4 266.8M280.4 268.4L279.0 269.4L278.6 270.4L278.0 272.4M283.4 270.0L283.8 268.6M285.4 265.9L285.1 265.3M281.9 272.0L281.9 270.7M290.9 263.9L291.6 262.7L293.0 261.4L293.3 259.7M297.0 262.7L296.8 262.1L297.0 261.3M288.4 263.4L286.9 264.9M292.8 262.0L293.4 260.4L293.3 259.8L293.5 259.3M294.2 258.9L293.3 257.4L293.3 256.7M295.3 260.5L295.3 258.8L295.0 257.9M286.3 264.1L285.5 264.3L283.7 264.4M289.8 261.4L288.0 260.7L286.8 259.6M294.0 258.2L292.8 257.5M288.7 264.8L287.9 265.6M296.2 263.1L295.7 262.0M291.5 264.3L293.3 263.4M294.7 261.6L292.6 262.2M286.0 264.8L285.6 263.3M295.7 260.6L293.9 261.5M289.8 261.1L290.3 260.3M290.2 260.9L288.9 259.1L288.5 258.5L288.2 257.9M293.3 262.9L294.1 261.2M288.4 262.8L287.4 260.9L286.7 259.5L286.7 258.8M290.7 259.6L289.1 259.5L287.8 257.8M294.0 260.7L294.1 260.1L293.1 258.6L293.1 257.7M295.4 262.0L293.9 262.5L292.8 264.1M287.9 266.6L286.3 267.6L285.3 267.2L284.8 267.0M296.4 261.3L297.8 260.2M296.3 260.4L295.4 259.0M300.9 254.4L299.5 254.4L297.6 255.2M302.9 257.0L303.4 256.7L304.9 255.1L305.3 254.2M300.1 253.4L299.2 252.7L299.3 251.0L301.0 250.0M294.8 258.6L293.5 259.4L292.9 259.5L292.3 259.0M295.3 259.1L295.0 256.9L294.0 255.6L294.0 255.0M300.3 252.7L299.7 252.8L297.9 252.9L296.6 251.5M298.8 260.0L299.4 259.8M297.9 255.1L296.8 256.5M297.9 255.8L297.7 254.6M298.1 254.9L297.5 254.7L296.5 254.1M301.0 256.1L301.8 255.5L303.0 254.7L304.0 254.4M295.5 255.7L294.9 254.0L295.5 252.5M295.6 256.8L293.8 255.8L292.5 254.6M300.4 259.0L298.4 258.3L297.9 258.4M297.2 256.0L296.4 254.8L296.8 254.0L297.5 253.1M300.9 258.0L300.3 257.5L300.2 256.9M301.1 259.0L299.1 259.5L298.0 259.2L296.8 259.4M301.8 258.8L301.8 258.1M304.4 256.7L303.8 256.6L303.3 256.4M304.3 255.7L304.8 254.6L305.1 254.0L304.8 253.1M301.1 252.5L300.2 251.3M302.0 251.5L301.3 251.4L300.5 252.0L299.0 251.5M302.0 250.3L302.0 249.5M304.0 251.3L304.2 249.9M307.6 253.2L306.9 253.2L306.2 252.9M302.9 251.5L302.7 250.5L302.5 248.3L301.9 247.4M302.0 254.8L301.0 253.4L300.5 252.2L300.7 251.1M305.5 255.9L305.9 254.6M300.4 252.2L299.0 252.2M304.2 248.3L303.0 249.4L302.7 250.7L303.7 252.2M307.7 252.0L308.3 251.8L308.8 250.7M304.2 255.8L303.5 254.2M303.3 255.8L301.8 254.4M306.7 253.4L306.2 251.6L304.7 250.5L303.2 249.4" fill="none" stroke="#686868" stroke-width="0.75" stroke-linecap="round" stroke-linejoin="round"/><polyline points="394.4,127.4 392.1,132 389.8,141.3 391.3,150.2 386.9,162 378,170.9 369.1,182.7 366.2,194.6 361.7,206.4 364.7,210 366,219.7 372.4,224.7 380.6,231.2 385.5,237.8 383.9,246 377.3,254.3 369.1,259.2 365.8,262.5 367.4,270.7 365.8,279 367.4,288.8" fill="none" stroke="#6b6b6b" stroke-width="1.0" stroke-linejoin="round"/><path d="M394.3 127.6L393.6 127.4L393.6 127.2M394.5 128.1L395.7 127.5M393.5 129.3L393.1 129.5L392.8 129.2M393.9 129.8L395.3 130.4M392.6 130.9L391.9 130.7L391.9 129.9M393.3 131.4L394.0 131.2M392.0 132.5L391.7 132.3L391.1 132.3M391.8 133.4L391.6 133.3L391.1 133.4M393.2 133.9L394.4 133.6M391.3 135.2L390.4 135.2L389.4 135.2M391.0 136.5L390.3 136.0L390.2 135.8M390.8 137.4L390.2 137.8L389.3 137.7M390.3 139.2L389.9 139.0L389.3 138.7M390.0 140.5L389.0 139.9L387.7 140.0M389.9 141.8L388.5 141.5L387.4 141.4M390.1 142.8L389.1 142.8L388.8 143.5M390.3 144.4L390.1 144.2L389.4 144.6M390.6 146.2L389.8 145.8L388.4 145.8M390.8 147.5L389.5 146.9L388.7 146.8M391.5 147.3L392.7 147.4M391.1 148.9L390.7 149.0L390.6 149.0M391.1 150.7L390.6 149.9L389.8 150.0M390.6 152.0L389.6 151.3L388.8 150.7M392.3 152.8L393.0 152.3M390.3 153.0L389.5 152.5L389.5 152.8M390.7 153.3L391.7 152.7M389.6 154.7L388.6 154.6L387.9 154.7M389.8 155.1L391.4 155.7M389.2 155.7L388.2 155.7L387.8 155.8M391.3 156.7L392.1 156.1M388.6 157.4L387.9 157.0L387.1 157.4M388.1 158.7L387.0 158.0L386.2 157.5M389.8 159.6L391.1 159.9M387.8 159.6L387.8 159.6L387.1 159.0M387.2 161.2L386.2 161.0L385.2 161.1M387.5 161.5L388.5 161.2M386.6 162.3L386.0 161.9L384.8 160.7M385.7 163.2L385.1 162.7L384.9 162.7M384.5 164.4L383.8 163.9L382.9 162.9M385.2 166.0L386.9 166.4M383.6 165.3L383.1 164.9L382.3 164.7M382.5 166.4L382.3 166.2L381.5 165.6M382.8 167.2L383.6 167.7M381.6 167.3L381.8 167.1L381.2 166.6M382.6 168.8L383.4 168.2M380.5 168.4L380.2 167.7L379.2 167.1M379.6 169.3L379.0 168.9L378.8 168.9M378.9 170.0L378.6 169.7L377.6 169.5M377.8 171.2L377.1 170.6L375.8 170.0M377.0 172.3L376.5 171.7L376.5 172.0M376.3 173.1L375.9 172.4L375.4 172.0M375.3 174.4L374.4 174.0L373.3 173.9M376.7 175.9L377.9 176.0M374.5 175.6L373.6 175.0L372.5 174.3M373.7 176.6L373.1 176.5L372.6 175.8M372.8 177.8L371.7 177.7L370.6 176.9M372.3 178.5L371.6 178.1L371.7 178.1M373.3 179.9L374.9 180.3M371.5 179.6L370.5 179.2L370.1 178.2M370.6 180.7L369.6 180.4L368.6 179.4M369.8 181.7L369.2 181.1L368.8 180.9M371.4 183.2L372.1 183.2M369.0 183.0L368.9 183.0L368.5 183.0M371.1 183.7L372.7 184.3M368.8 184.1L368.5 184.0L367.8 184.3M369.6 184.5L371.3 184.9M368.4 185.5L368.2 185.4L367.8 185.0M368.6 185.7L370.0 185.6M368.1 186.7L367.3 185.9L365.9 185.8M367.8 188.0L366.6 187.9L365.6 187.6M367.4 189.5L366.9 189.1L366.7 189.3M367.9 189.7L368.8 189.5M367.1 190.8L366.1 190.5L365.1 190.8M367.5 191.0L368.4 190.5M366.7 192.4L365.9 192.8L365.1 192.6M368.7 193.1L369.8 193.1M366.4 193.8L365.9 194.1L365.1 193.5M368.2 194.5L369.7 194.6M366.1 194.9L365.2 194.6L364.9 195.0M365.6 196.1L365.5 196.4L364.8 196.1M365.1 197.4L364.6 197.1L364.2 197.3M364.6 198.7L363.9 197.6L363.0 196.9M364.1 200.0L363.4 200.1L362.9 200.2M363.6 201.3L362.7 201.1L362.2 201.5M364.2 201.6L364.8 201.4M363.1 202.6L362.6 202.4L361.6 202.0M362.5 204.4L362.2 204.0L361.2 204.1M362.0 205.5L362.1 205.4L361.6 205.1M362.1 206.9L361.8 207.4L361.5 207.4M363.1 208.1L362.5 208.5L361.5 208.6M363.4 207.5L364.2 207.4M363.8 208.9L363.0 209.6L362.0 210.2M364.7 210.3L364.7 210.3L364.2 210.3M364.9 211.8L364.4 211.5L364.3 211.8M366.9 211.5L367.8 211.8M365.2 213.4L364.4 213.8L363.7 213.8M365.3 214.6L364.3 214.9L363.8 215.5M365.5 215.8L364.5 216.0L364.1 216.7M365.7 217.4L364.8 217.7L363.9 218.0M365.8 218.4L365.2 219.2L363.7 219.4M366.8 218.2L368.4 218.7M366.2 219.9L366.4 220.1L365.9 220.9M367.1 220.6L366.2 221.2L365.8 221.3M368.6 221.7L368.6 222.6L367.9 223.5M368.5 221.1L369.7 221.0M369.4 222.3L369.0 222.9L369.0 223.0M370.1 220.4L371.7 219.9M370.8 223.4L369.8 223.8L369.1 224.4M372.0 221.1L373.3 220.9M371.6 224.0L371.1 224.8L371.3 225.1M372.9 221.8L373.8 221.5M372.7 224.9L372.8 225.6L372.2 225.7M373.7 225.8L372.7 226.5L371.7 226.8M374.7 223.9L375.8 224.2M374.8 226.6L375.0 226.8L374.5 227.6M375.7 227.3L375.6 227.4L374.8 228.0M376.7 228.1L376.0 228.5L375.8 229.4M377.8 225.9L379.0 225.5M378.0 229.1L377.0 229.9L376.5 231.2M378.6 227.9L379.3 227.6M378.7 229.7L378.2 230.0L377.3 230.5M379.8 230.6L379.2 231.0L379.2 231.7M380.7 231.3L380.3 231.4L379.3 232.0M381.2 230.5L382.3 230.4M381.8 232.8L380.4 232.7L379.7 233.4M382.6 233.9L381.6 234.2L381.4 234.7M383.4 235.0L382.1 234.8L381.2 235.3M384.2 233.8L385.7 234.3M384.2 236.0L383.3 236.4L382.5 236.7M385.7 234.5L386.6 235.0M384.9 237.1L384.5 237.6L384.4 238.0M385.5 237.9L385.2 237.7L384.9 237.7M387.3 238.3L387.9 238.0M385.2 239.5L384.3 239.1L382.9 238.7M385.6 239.7L387.4 240.0M384.9 240.7L384.8 240.6L384.4 240.6M386.3 241.2L388.0 240.8M384.7 241.9L384.3 241.6L383.5 241.8M384.3 243.8L384.0 243.7L382.8 243.9M384.1 244.8L383.5 244.9L383.3 244.4M383.8 246.1L383.6 246.2L383.0 245.6M384.7 247.1L385.6 247.7M383.0 247.1L382.6 247.4L382.4 247.0M381.9 248.5L381.2 247.1L380.8 246.2M381.1 249.5L380.8 249.2L380.7 249.1M381.7 250.2L382.3 250.0M380.5 250.3L379.7 249.7L378.1 249.6M381.7 252.0L383.3 251.9M379.8 251.2L379.5 250.6L378.5 250.5M381.6 252.9L382.2 252.8M378.6 252.6L377.2 252.1L376.6 252.2M378.0 253.4L377.4 252.3L377.1 251.6M376.9 254.5L376.6 253.9L376.6 253.5M377.4 256.6L379.1 256.8M375.6 255.3L375.4 255.5L375.2 254.9M374.7 255.8L374.4 255.8L374.2 255.0M375.3 258.0L376.8 258.4M373.3 256.7L372.6 255.9L372.2 255.4M372.6 257.1L372.2 256.4L372.3 256.3M373.1 258.9L374.1 259.4M370.9 258.1L369.7 256.9L369.2 256.3M369.9 258.7L369.3 258.4L368.9 257.8M368.7 259.6L367.7 259.0L367.4 257.8M369.6 261.1L370.7 261.3M367.9 260.4L367.2 260.5L367.0 259.9M366.7 261.6L366.5 260.7L366.3 260.3M365.9 262.9L364.8 263.9L363.8 264.3M366.2 264.5L365.6 264.4L365.7 264.7M366.4 265.6L365.6 266.0L364.2 266.4M368.0 265.2L369.7 264.7M366.7 267.0L365.8 267.1L365.1 267.8M367.4 266.7L368.7 266.9M366.9 268.1L366.8 267.9L366.4 268.3M367.3 267.9L368.9 267.9M367.1 269.4L366.8 269.6L366.5 269.6M367.6 269.2L369.0 269.0M367.4 270.9L366.8 270.6L366.5 270.2M368.2 271.2L369.9 271.8M367.1 272.3L366.4 271.8L366.3 272.0M366.8 273.8L366.1 273.6L364.7 273.6M367.0 273.9L368.3 274.1M366.5 275.5L366.1 275.4L365.8 275.3M367.3 275.7L368.5 276.3M366.3 276.3L366.0 275.7L365.0 275.6M368.3 276.9L370.0 276.8M366.1 277.7L365.2 277.7L363.7 277.5M365.8 279.1L364.8 279.8L363.9 280.0M366.0 280.5L365.6 280.6L365.1 280.8M366.6 280.3L368.1 280.8M366.3 281.8L365.1 282.0L364.6 281.7M367.7 281.5L369.0 281.6M366.5 283.4L365.8 283.6L365.2 283.5M366.8 284.9L366.5 284.7L366.2 284.9M367.0 286.5L366.4 286.6L365.8 287.2M368.4 286.3L369.1 286.2M367.2 287.8L366.6 288.0L366.6 287.8" fill="none" stroke="#6b6b6b" stroke-width="0.7" stroke-linecap="round"/><path d="M373.1 224.7L374.2 226.3L375.0 227.7L376.8 228.3M373.5 224.6L373.8 225.7L373.3 226.1L373.8 228.0M375.9 227.5L375.6 228.3L374.8 229.1M378.5 228.4L379.2 228.8M376.3 234.2L377.1 235.0L377.2 235.9L377.4 236.9M372.9 230.3L372.7 231.2L372.6 232.7M376.4 234.0L376.0 233.2M372.5 228.3L372.2 229.0L373.1 230.5L374.5 231.8M377.7 229.6L378.2 230.2M374.6 228.1L375.2 228.2L375.5 228.8L376.4 229.2M375.9 232.7L375.0 233.6L373.0 233.7M375.1 230.0L373.8 230.9L371.9 231.3M378.6 230.0L378.1 230.2L377.4 230.8M374.7 225.4L376.1 225.6L376.8 225.3L377.7 225.6M373.2 227.5L371.9 227.4L371.2 227.8L370.3 228.0M378.7 230.7L377.6 231.8L376.0 231.5L375.3 231.3M379.8 229.8L380.0 231.6M371.7 229.9L372.4 231.4L372.4 233.1L373.5 234.0M379.6 230.8L380.2 231.7L380.0 232.8L380.4 233.5M373.5 229.7L374.0 230.4M376.6 230.3L376.4 231.0L377.3 232.0L378.4 232.5M373.5 224.1L373.7 226.0L373.7 227.1M378.8 229.9L377.9 230.4L377.6 231.8L378.0 232.7M374.2 232.2L373.4 231.7L372.8 230.8L371.2 229.9M379.4 228.9L378.8 230.6L378.5 232.5L378.7 233.1M376.6 229.1L376.2 229.5L376.1 230.1M374.6 229.3L375.1 230.4M376.2 228.3L374.4 227.9L373.4 226.7L372.7 226.3M370.9 229.0L372.3 230.1L372.8 230.8L373.3 231.0M378.7 231.6L377.6 231.4L376.4 230.3M377.9 233.3L377.0 233.5L376.7 234.0M384.7 236.9L384.0 237.7M381.3 233.2L380.7 231.6L380.5 229.9M383.6 233.3L381.8 232.5L380.2 233.2M383.9 236.0L383.3 236.2L382.6 237.7M382.2 235.7L381.9 236.4L382.1 237.4L381.6 238.2M380.5 232.1L379.2 231.4L377.9 231.4L377.2 231.3M381.0 232.6L380.0 234.0L379.1 234.0M379.2 233.4L379.5 234.7M381.7 238.9L381.1 239.5L380.1 240.6M380.8 237.3L379.8 237.3M381.1 236.2L381.2 237.1M382.4 232.1L381.6 233.7L381.1 234.0M383.2 238.5L383.5 238.9M377.3 234.8L377.0 235.9M383.1 232.5L383.7 233.4M383.6 234.2L384.1 235.2M379.5 235.3L378.7 235.6M383.2 238.2L382.3 237.5L382.3 236.0M383.2 239.2L382.1 238.5M379.2 234.2L378.4 233.7M381.7 232.5L381.0 233.3L380.8 234.8M380.5 238.3L379.1 237.8L378.0 238.0M381.0 236.7L382.3 237.7L382.3 238.9L383.3 239.9M381.4 236.8L380.2 236.6L379.7 236.5M386.3 242.4L385.3 242.0L384.5 242.4M385.2 241.7L384.5 241.6L383.2 241.0M386.7 240.6L388.1 239.5L388.1 238.4L386.9 237.5M386.5 239.1L385.1 238.2L385.0 237.4L384.1 235.7M384.1 242.9L383.0 242.0M385.9 238.7L385.7 239.6L384.6 240.8L383.8 242.5M383.7 238.1L383.4 238.6M382.0 238.0L380.7 239.1L379.8 240.2M380.5 244.8L381.4 243.9L382.8 243.0L384.1 243.4M386.2 243.6L384.5 244.5L383.6 244.7L383.2 245.2M382.4 245.1L381.7 244.3M386.0 243.0L385.1 243.5L383.4 244.2M386.0 242.4L384.1 242.2M384.6 244.7L383.4 243.7L383.2 242.0L383.4 241.0M384.5 244.7L383.4 246.1L382.7 246.5M386.3 240.9L385.0 239.7L384.3 238.6M381.8 245.2L381.1 243.8M385.8 245.3L384.5 245.3L383.7 245.2M383.7 240.7L382.3 239.6M385.2 242.7L384.0 243.2L382.2 243.3L381.1 243.7M382.0 237.5L382.4 238.0L382.8 238.9L383.8 240.1M382.8 241.5L381.1 241.3M384.8 244.1L384.5 245.2M382.1 241.7L380.2 241.6L379.3 241.5L378.7 240.6M382.7 245.7L381.1 245.4M376.9 252.1L375.9 253.0L374.5 253.4M382.0 249.6L380.9 249.3M379.0 253.7L378.1 252.1M378.4 249.2L377.7 248.3M382.8 245.9L381.4 246.6L380.8 246.9M384.4 248.4L384.1 249.4L385.1 251.0M379.4 252.0L378.5 253.2M382.9 245.8L384.0 244.5M377.8 254.0L378.1 253.4L378.7 252.3M377.7 254.5L377.5 252.8L377.9 251.6L378.4 250.9M377.7 254.2L376.9 254.9L375.6 255.9L375.5 257.5M381.1 245.5L380.0 245.3L379.1 244.1M377.7 253.1L376.8 253.0L376.1 252.9L374.4 254.0M377.4 251.2L376.6 251.2M380.4 249.6L379.6 248.6L378.1 248.4M377.0 252.8L377.5 251.8M374.8 250.4L373.0 251.0L371.2 250.2M379.3 248.0L378.2 246.7L378.4 245.6L377.6 244.6M377.3 247.9L377.1 247.0M376.8 253.6L375.7 253.9M380.7 250.8L380.3 249.7L379.8 248.2L379.5 246.7M383.9 246.6L382.7 246.0L382.3 244.8M376.7 251.9L374.9 251.2L373.3 250.1M382.1 246.1L381.0 244.6L380.6 244.2L380.7 243.4M377.1 251.7L377.1 251.0L376.8 250.6L375.6 249.8M384.4 247.7L383.2 247.6L382.4 246.6M378.5 252.0L377.0 251.7L375.6 251.6L374.6 251.1M376.6 248.5L376.1 249.4L374.4 249.8L373.6 251.3M380.7 244.8L380.7 243.3M374.1 251.5L373.7 251.1L372.8 250.7M380.0 245.0L378.1 245.3" fill="none" stroke="#666" stroke-width="0.9" stroke-linecap="round" stroke-linejoin="round"/><path d="M353.4 245.4L354.7 246.6M353.8 246.5L351.8 247.3L350.4 247.9L348.7 248.6M356.8 245.8L354.8 246.4M354.2 244.8L354.9 244.4L354.9 243.8L354.1 243.1M354.1 245.7L352.4 246.4M355.3 246.4L356.1 246.7M355.2 245.2L355.6 245.7L356.8 247.1M356.4 246.7L357.2 246.2M356.7 244.5L357.0 244.1L358.7 244.1L359.5 245.1M360.1 246.5L359.8 247.4L359.8 248.9L360.2 250.7M359.5 243.8L359.1 244.4L359.0 244.9M353.7 248.2L353.1 249.1M360.2 246.7L359.5 247.7M359.6 244.5L358.8 244.1L358.0 242.9L356.8 241.2M356.0 247.2L356.5 247.6M357.1 244.6L357.3 245.3L358.7 246.8M359.8 244.1L359.8 244.7L360.0 246.6M352.9 245.0L352.8 246.4L351.1 247.3L350.4 247.4M363.9 247.3L365.3 248.9M360.2 243.3L358.9 242.8L356.8 243.4M364.3 244.9L365.9 243.5L366.0 241.9L366.2 241.0M364.0 243.7L363.4 245.3M366.1 244.8L365.6 245.0M363.1 245.5L362.3 246.8L361.7 248.1L362.1 249.4M365.3 245.3L367.2 246.3L367.5 246.7M363.2 244.0L362.6 245.4L363.6 247.0M364.7 246.5L365.8 247.2M363.4 245.3L363.9 246.1L364.0 248.1M361.0 244.6L361.1 245.5L360.9 246.1M366.9 243.9L368.3 244.2L368.9 244.1L370.9 244.2M361.9 245.9L361.6 247.0L362.5 248.2L364.6 248.1M361.3 245.9L361.4 246.5L360.6 248.0L360.0 249.7M360.6 243.9L359.9 243.6L358.5 243.3L357.7 243.3M362.0 244.0L362.8 245.7M365.1 244.6L365.3 245.3L365.9 247.4L366.2 248.0M366.9 246.4L368.6 246.9L369.3 246.5M369.6 243.6L370.7 243.1L372.1 241.6L372.5 241.1M371.3 242.6L370.7 243.0L369.8 244.0M367.8 246.0L366.9 246.9L366.3 246.9L364.9 247.9M368.7 243.8L369.5 244.8L369.8 245.7M368.9 243.4L370.1 244.4L370.6 244.9M369.0 246.7L369.8 247.5L371.4 247.0M367.2 244.4L368.1 245.6L369.6 246.9M370.2 244.4L370.2 246.4L368.8 248.0L367.6 248.5M368.8 243.9L369.0 245.1L369.1 246.8M369.2 245.4L369.9 246.6M371.4 246.0L370.7 246.8M371.1 245.5L370.9 247.4M367.2 244.0L366.6 244.9L365.1 246.3L365.0 247.2M369.2 244.8L370.7 245.8L370.7 246.7L370.9 247.2M369.9 244.4L369.3 244.6L368.8 244.5M367.7 244.7L369.0 245.3L370.3 244.7L372.0 245.3" fill="none" stroke="#5f5f5f" stroke-width="1.0" stroke-linecap="round" stroke-linejoin="round"/><polyline points="408.2,125.1 415.1,129.7 417.4,136.7 415.1,145.9 413.5,150 410.7,153 406.3,158.9 401.8,164.8 397.4,172.2 395.9,179.6 398.9,187 400.4,194.4 398.9,203.3 397.4,212.2 393,219.6 397.4,224 404.8,227 415.2,228.4 424,225.5 434.4,222.5 446.2,218 456.6,212.2" fill="none" stroke="#666" stroke-width="1.2" stroke-linejoin="round"/><path d="M409.2 127.5L407.8 127.7M413.5 130.2L413.7 130.9M409.9 126.9L409.0 125.4L409.1 124.8L410.1 123.5M409.7 126.8L409.0 127.3M413.6 129.6L412.6 128.7L412.6 127.4L412.8 126.5M411.6 128.9L411.6 130.4L412.6 131.4M411.4 126.9L412.0 127.7L412.7 128.1L413.1 129.3M411.4 128.5L410.8 128.5L409.1 128.2L407.7 128.2M415.0 128.8L414.8 130.1L415.3 131.0L414.9 132.6M413.8 128.6L412.5 128.5L411.6 127.3M409.4 126.9L408.2 126.5M409.8 128.1L410.5 129.4L411.2 130.9M409.0 126.3L407.4 126.9L406.1 126.4L405.5 126.2M410.1 126.9L409.5 126.7L408.6 126.3L408.4 125.9M415.1 132.3L415.2 131.5L414.6 130.1L413.7 129.0M415.8 130.7L415.2 131.8M416.0 132.2L415.1 132.8M415.2 132.1L415.1 132.6M417.1 135.0L416.6 135.4L415.1 136.3L414.9 136.8M416.3 132.2L416.0 132.7L416.3 133.6L417.0 135.1M418.1 136.4L417.6 136.0M413.5 131.5L412.8 130.0M417.2 134.3L416.0 133.3M414.1 131.7L412.5 131.3M415.1 133.1L414.7 132.6L413.5 132.5L412.6 131.7M413.5 132.5L412.9 134.1M416.2 138.0L417.1 139.6L417.0 140.6M417.8 142.9L417.8 143.4L418.4 144.3M416.9 140.4L417.2 140.0M417.3 137.0L418.7 138.0M416.2 140.1L416.5 140.7L417.1 142.3M418.0 141.4L419.7 141.3M417.1 141.3L417.8 140.8M416.1 145.0L417.6 144.7M416.5 142.8L415.7 143.9M417.9 139.7L419.2 140.8L420.3 141.1L421.0 141.4M415.4 141.4L416.6 141.9L418.2 142.7M417.7 139.1L419.3 138.4L420.8 138.8M417.3 143.3L418.8 143.2L419.3 142.7L419.2 141.5M418.6 138.4L419.5 138.0L420.7 138.2M416.6 142.1L416.6 143.0L416.7 143.6M417.1 138.6L417.3 139.5L417.0 139.9M414.4 149.0L415.1 148.5L415.1 147.4L416.4 146.5M414.8 148.3L416.6 148.2M414.5 146.1L415.6 145.3M416.9 148.1L416.9 147.3M416.2 149.0L416.6 149.4L417.6 150.1L418.5 149.9M416.8 146.8L418.0 147.5L418.9 148.0L419.8 147.9M415.1 148.6L414.7 149.3L414.2 149.5M414.6 145.9L414.4 146.7M412.3 150.6L413.8 150.0M411.7 151.4L412.6 151.7L413.9 150.7M412.9 149.9L412.9 150.9L413.2 151.3M412.0 151.5L412.3 150.6L413.4 149.6M414.4 151.4L414.8 151.8L414.6 152.9L415.2 153.7M412.7 150.4L412.3 151.3M411.3 153.1L412.5 152.0M408.9 157.1L410.1 158.1L410.9 158.9M411.5 154.9L411.7 154.1L411.8 153.0L412.2 152.6M410.5 156.0L411.9 155.8L413.1 155.4L413.5 154.5M408.5 158.7L409.0 158.8L409.9 158.0M408.0 157.3L408.8 158.9L410.4 159.5L411.4 160.0M407.3 159.0L407.8 160.0M411.2 155.0L412.8 155.1L413.3 155.1L413.9 155.6M408.1 157.8L408.5 159.3M406.2 158.6L407.9 158.1M408.4 157.4L409.9 157.5M411.3 154.1L412.5 153.7L412.7 153.1L413.5 152.0M407.9 159.1L407.4 160.2M404.5 164.7L404.3 166.2L403.6 167.3L404.0 168.6M403.8 161.7L403.8 162.6M402.2 162.9L403.0 164.0L403.0 164.9M403.6 163.6L405.3 163.6L406.8 164.3M405.1 164.2L405.7 163.3L406.4 162.8M407.3 161.0L407.6 161.5M401.6 164.1L401.2 165.1M404.6 162.9L406.2 162.2L407.3 161.2L408.1 159.8M404.5 164.6L404.8 165.5L405.5 165.8L406.3 166.0M405.4 162.8L405.6 163.4M404.0 162.2L405.1 162.5L405.9 163.2M406.9 160.0L408.3 160.0M400.5 167.3L401.4 167.1L402.8 167.6L403.5 168.4M397.4 171.3L397.4 172.0M402.0 168.6L402.7 169.5L403.3 169.7M396.9 171.8L398.1 172.1L399.3 172.2M399.8 166.5L399.3 166.7L398.5 166.7M403.1 166.6L404.0 166.6L404.8 166.9M401.3 166.8L402.0 166.6M400.1 167.1L400.5 166.4L401.1 165.8L401.1 164.8M401.2 168.6L402.3 168.5M401.1 166.2L401.6 167.3L401.3 167.8M400.2 170.4L400.7 169.3L400.9 168.1M397.2 171.5L398.5 172.3L398.7 172.9L398.7 173.6M398.5 171.3L398.8 172.3L399.6 172.6L400.0 173.0M399.8 171.9L399.9 172.9L400.4 173.7M396.1 178.6L397.6 178.8L398.3 180.1M398.2 179.0L398.7 180.1L399.5 180.5L401.2 181.2M399.5 173.4L398.6 174.7M396.9 172.2L398.0 171.2M398.6 173.9L399.0 173.4L400.2 172.2M395.5 178.2L394.7 179.1M399.2 174.5L399.6 174.2L400.1 173.0L399.9 171.8M395.9 178.4L396.9 177.9L397.4 177.3M399.4 173.8L400.8 174.3M397.1 178.4L397.9 179.4L399.1 179.7M397.7 179.1L398.7 180.2L400.1 181.0L400.3 181.6M397.7 175.5L399.1 175.5M397.9 172.9L398.4 172.9L399.6 171.7M399.4 186.1L398.9 184.6L398.9 182.9M397.3 182.8L398.4 182.4M400.2 184.6L400.5 184.2M399.6 186.1L400.1 185.4L401.2 184.6M396.8 182.3L397.7 181.8L398.3 181.9M399.7 182.7L400.3 183.6L400.8 183.9M399.1 183.6L400.2 182.8L401.9 182.4M398.8 180.6L397.4 179.7L396.5 179.5L395.5 179.9M397.2 183.7L396.5 182.7L395.4 181.6M397.1 184.4L396.9 183.8L396.8 182.5L396.7 180.8M397.8 183.3L398.1 182.3L398.1 181.6L398.1 181.0M396.5 179.8L396.3 179.2M398.8 184.7L399.6 184.1M399.5 190.2L399.9 191.3L399.9 191.8L400.1 193.2M401.9 194.1L402.5 194.8L402.7 195.3M400.8 189.8L401.7 189.9L402.8 189.7L403.9 188.5M400.8 189.2L401.6 188.7L402.1 187.6M400.9 190.2L401.0 191.9L400.3 192.7M401.4 187.4L403.1 187.6L404.0 186.8M402.0 190.2L401.7 188.9M401.5 187.1L402.1 186.1M400.0 188.4L400.6 189.2L401.9 189.4L402.5 189.0M401.3 193.6L402.9 193.9M402.1 192.0L402.9 191.1L403.3 190.1L403.0 189.6M400.9 187.1L401.5 186.4L401.8 185.2L402.8 184.3M402.0 193.3L402.1 192.7M398.7 202.0L399.5 203.6L399.7 204.6L399.2 205.2M400.1 199.4L401.9 199.4L402.5 199.9M398.1 203.1L398.3 203.7M400.2 195.2L401.1 195.0L402.5 194.1M400.9 201.8L402.4 202.4L403.7 202.7L404.3 203.9M399.2 197.5L400.6 197.5L401.4 197.8L402.6 197.1M399.8 198.5L399.9 199.4L400.8 200.3L401.9 200.9M401.3 203.4L402.6 204.6M400.0 195.5L401.7 195.1M401.5 201.8L401.6 202.6L401.1 203.1L400.3 204.3M401.8 197.4L401.9 196.7M400.1 203.4L400.8 203.3M400.1 195.7L400.6 196.6M400.6 197.7L400.7 196.6M401.6 196.2L402.9 195.4L403.9 195.8L405.0 197.2M398.7 208.1L400.2 207.5M399.5 206.1L400.0 206.6M399.7 205.9L400.1 207.0L400.0 208.1L400.3 208.6M398.1 210.2L398.2 209.6L398.5 208.7L398.5 207.6M399.2 210.0L400.3 210.7L401.4 211.3L403.1 212.0M398.8 211.0L399.4 211.6M400.3 205.0L400.8 204.8L401.3 203.2L401.5 202.2M400.4 207.1L400.7 208.3L400.6 210.0M399.6 206.6L401.0 206.5M398.7 207.2L399.6 207.1M400.5 204.4L401.5 204.8L402.0 205.2L402.3 205.6M399.0 205.0L399.2 206.0L399.5 206.9L398.4 208.2M398.5 209.6L398.6 210.2L400.1 211.0L401.3 211.1M398.4 208.5L399.2 207.9L399.7 207.5L400.8 207.7M398.9 208.0L399.5 207.8L400.7 206.7L402.1 205.6M395.0 219.0L396.2 219.4L396.9 219.7M395.8 219.8L397.1 219.5L398.2 219.0M395.1 219.0L395.8 217.5L396.2 216.2L396.7 214.8M393.6 219.4L395.3 219.4L396.3 219.9L396.6 220.5M397.6 212.8L398.7 212.9L399.7 213.2L399.9 213.8M395.9 213.6L396.7 212.9L396.7 212.4L396.6 211.1M395.3 219.1L396.8 219.0L397.8 218.1L398.0 216.4M398.2 213.5L399.1 214.3L399.8 214.1L400.5 214.2M397.0 213.2L396.8 214.5M396.7 213.1L397.2 212.3M393.7 218.6L393.9 219.3L393.8 219.9M398.7 214.5L399.2 214.9L399.1 215.8M397.4 215.0L399.0 215.4L399.6 215.5L401.1 214.6M396.0 216.5L396.1 217.1M393.0 220.9L393.4 219.9L393.8 219.5M395.4 221.4L396.3 221.1L397.8 220.9M396.2 222.7L397.3 221.7M394.8 221.0L395.4 221.8L396.3 221.9M396.6 220.0L395.7 219.8L394.4 219.8M397.3 221.9L396.4 221.3M394.4 218.6L394.3 217.5L394.6 216.9M397.0 224.0L397.3 222.6M394.8 220.8L395.2 220.0M394.6 221.6L393.1 221.1L392.4 220.4L392.1 219.3M403.6 226.2L404.5 226.5L405.3 227.9L405.2 228.8M402.5 223.9L401.8 222.6L400.9 221.4L399.3 221.2M402.5 223.4L402.6 221.7M403.3 226.9L403.8 226.6L404.3 225.1M403.7 225.0L403.6 224.2L404.0 223.2L404.3 221.4M403.5 223.9L404.3 223.4M399.0 225.6L400.7 225.6M402.5 225.9L403.6 225.1L405.2 225.3M398.0 223.6L398.7 223.1M403.0 226.8L401.6 226.9L400.5 227.7L400.2 228.4M398.3 224.5L399.3 224.6M404.3 226.1L405.7 225.6L406.4 225.4M398.2 222.9L397.6 221.4L397.1 220.7M407.0 225.7L405.7 225.4L405.3 225.0M406.6 227.7L405.8 226.6L404.6 225.9M408.5 227.8L409.3 227.2M407.0 227.0L406.3 226.2M408.5 227.3L409.5 227.1L411.0 227.3M412.3 225.5L413.3 224.7M409.3 226.0L410.1 225.8L411.4 225.0M414.1 226.4L414.5 226.1L415.5 226.4M406.2 227.7L404.9 226.7L404.7 226.1L405.3 224.8M414.6 227.4L415.9 228.3L417.0 229.2L418.5 230.0M406.3 225.9L404.9 225.5L403.7 225.3L403.1 225.7M412.1 227.5L412.0 226.6M413.3 228.4L412.5 227.0L413.1 225.7L414.0 225.5M412.0 225.7L410.9 224.3L410.2 224.2L409.6 224.4M408.2 226.0L407.2 225.5L406.8 225.2M414.3 227.0L412.7 226.4L412.0 226.6L410.4 226.8M410.8 227.1L411.8 226.0M421.0 226.0L421.5 224.9M418.3 225.2L417.4 224.3L417.6 223.0L418.4 222.4M422.9 223.5L424.0 223.2M416.6 226.5L415.8 225.5L414.2 225.1L413.1 225.5M417.4 228.4L416.5 226.9L415.3 226.5M419.7 226.3L420.7 226.1L422.1 225.1M419.5 227.2L420.2 226.2L419.9 225.0L420.1 224.6M418.2 225.7L416.9 225.1L415.8 224.7M421.2 225.5L421.8 224.8L422.0 224.2M422.5 226.8L421.1 226.8L420.2 226.6M420.8 226.9L421.3 226.6L421.7 226.1L422.3 226.1M421.2 224.0L421.7 222.9M419.6 225.6L418.3 225.0M422.7 224.6L422.1 224.2L420.3 224.0L419.6 223.0M422.7 224.8L421.4 224.4L420.3 224.1L419.5 224.1M431.1 223.9L430.7 223.1L430.3 221.9L430.9 221.0M427.0 225.1L426.1 224.0L426.0 223.4L425.6 222.4M429.5 222.9L430.1 221.9M433.3 222.9L433.9 223.0M423.7 223.5L423.4 222.8L422.8 221.6M433.7 220.5L434.3 219.2L434.9 218.8M428.6 222.2L428.8 220.8M424.0 223.5L423.1 223.1L422.5 221.9L420.9 221.7M431.9 223.9L433.1 223.9M432.3 222.3L431.5 222.0M432.2 220.8L433.3 221.0L434.0 220.7L434.7 220.5M424.2 224.1L425.1 223.6M427.6 222.6L427.0 221.7M426.0 224.0L427.1 223.1L427.6 223.1M430.5 222.6L430.3 221.6L430.0 220.6M427.9 223.7L428.5 222.6L429.5 221.3L431.1 221.2M424.4 224.8L422.9 224.3L422.4 223.5L422.5 222.7M424.8 223.9L424.5 222.6L424.7 221.3M434.3 221.8L433.3 220.7L431.7 220.8L430.5 221.5M442.2 218.1L442.0 217.4L442.3 215.9M445.2 217.8L444.8 217.0M442.5 217.2L442.4 215.8L443.4 214.4L442.8 212.8M434.0 220.7L433.5 221.1L433.0 222.2L432.8 223.3M438.1 221.6L437.9 221.1M440.2 219.9L439.7 219.3M444.0 216.9L442.9 216.3M445.7 218.6L445.2 217.5M434.9 222.5L434.6 222.0L434.2 221.1L433.9 220.4M444.8 216.5L443.5 215.5L442.9 215.8L442.0 215.9M443.7 218.7L441.9 219.0L441.3 219.8L440.7 221.3M436.3 221.4L435.7 220.0M434.6 222.7L435.3 221.4L435.7 220.9L436.2 220.7M441.9 220.1L441.7 219.2L441.3 218.6M443.4 219.1L442.6 217.9L442.8 216.8L442.8 216.0M435.1 222.0L434.1 221.4L433.3 221.4L432.6 222.1M441.5 218.6L441.4 218.0M436.7 221.9L437.7 220.5L439.0 219.3M445.6 218.9L445.3 218.0L446.0 216.5L446.8 215.8M439.7 218.9L441.4 218.6M450.2 214.9L451.4 214.4L451.8 213.3M453.8 212.9L454.4 211.5L454.8 210.5M449.0 216.3L448.0 215.0L447.3 214.2M446.2 215.8L446.2 214.9L445.7 213.6M449.1 217.4L448.4 216.8L446.7 217.1M448.8 216.1L449.6 215.6M455.9 211.7L456.7 210.9L457.3 211.0L458.6 210.6M451.0 215.7L450.1 216.4L450.1 217.1L449.6 217.4M452.7 214.8L453.1 213.2L453.8 212.7L454.0 210.9M454.2 213.6L454.8 212.4M448.1 214.5L448.9 214.2L450.4 214.0L451.6 213.4M453.7 212.3L454.1 211.7L453.7 210.0L453.0 208.9M448.6 216.9L448.9 216.4M445.5 216.6L444.2 216.3L443.5 217.0L443.0 218.0M450.0 213.5L451.4 213.0M447.7 215.8L447.4 215.2L446.8 214.4M447.7 217.2L446.7 216.7L445.5 215.5M453.7 213.1L453.9 211.6M452.0 215.5L451.9 214.6M451.5 215.2L453.0 214.4L453.6 213.5L453.2 212.1" fill="none" stroke="#666" stroke-width="0.8" stroke-linecap="round" stroke-linejoin="round"/><path d="M391.7 218.3L392.2 217.6M395.2 221.7L396.0 221.0L396.9 221.1L397.6 221.8M394.1 223.9L394.6 222.7L395.1 222.1L395.7 221.8M389.9 223.2L389.1 221.4L388.5 220.2M396.2 222.2L396.0 221.2L396.8 219.8L397.5 218.5M392.3 219.6L392.7 219.1L393.3 218.9M389.3 223.3L390.6 223.6M395.0 218.2L394.5 217.1L393.8 215.9M390.4 219.6L390.9 219.2L391.0 217.7L391.1 217.1M396.5 219.8L397.3 219.1L398.1 218.4M390.8 224.5L390.9 223.8L390.6 223.4M390.0 219.0L390.7 219.1L391.5 220.5M388.7 220.5L389.0 219.2M394.4 224.9L395.4 223.3L396.8 222.4M391.7 218.9L390.9 217.2L390.3 215.6M394.0 218.0L395.1 217.7M392.5 225.4L393.8 224.6M389.6 221.2L390.2 221.0L391.0 219.7L391.6 218.8M390.6 223.7L391.8 222.8M392.1 219.2L393.2 220.0L393.8 221.4M393.3 222.1L393.7 223.8L395.0 224.6M395.8 223.4L394.6 221.9M396.9 221.4L398.2 220.5M392.7 216.2L393.6 215.5M394.7 223.0L394.6 222.0L394.0 220.8M393.3 221.2L394.3 222.8L393.9 224.6L393.9 225.7M394.3 218.0L393.1 217.5M393.6 224.0L394.2 223.0L394.8 222.8L396.1 222.3M394.4 223.4L395.7 224.4L397.2 225.0M393.1 218.3L393.4 219.0M392.9 225.9L393.9 226.8L395.4 226.4M394.9 221.5L396.7 221.3L397.0 220.8M403.2 225.3L403.3 223.9M401.1 224.0L401.1 222.1L400.1 221.1M401.5 222.9L402.5 223.7L403.8 223.6M402.1 226.8L403.6 226.2L404.4 224.4M398.8 222.9L400.5 222.5L401.7 223.2L402.5 224.7M396.8 226.6L398.4 226.0L399.3 226.6L400.2 226.3M403.0 230.0L401.3 229.4M397.7 225.7L398.0 225.1M405.2 227.2L406.8 227.9L408.2 227.8L409.2 227.0M402.4 227.9L402.8 226.0M399.1 228.7L400.3 229.2M399.5 221.6L398.8 220.8L397.3 220.9L396.6 220.1M403.6 228.8L403.1 227.3L402.2 226.8M400.2 227.5L400.9 227.0L401.1 225.7L402.3 224.2M404.0 228.2L403.4 227.4M403.6 226.9L404.2 227.8L404.3 229.2L403.8 230.2M403.4 224.6L403.7 224.0L403.7 222.6L403.2 221.9M397.4 227.0L396.3 225.7L395.4 225.8L394.6 226.3M395.8 227.8L394.1 227.3M399.8 225.7L401.0 226.7L401.6 227.2M398.6 223.2L398.1 221.4M397.5 228.0L398.5 227.1M404.3 229.3L403.8 227.9L404.2 227.4L404.2 226.6M398.2 225.0L398.3 223.7L398.7 223.2M397.2 223.6L397.2 222.4L398.7 221.2L400.3 221.6M399.6 226.8L400.5 227.1L401.3 227.1M398.7 221.0L398.9 219.5L399.0 218.9L399.0 218.4M397.7 223.5L399.5 223.2M396.1 228.1L395.8 227.6M406.1 224.8L404.2 225.3L403.9 226.1L403.7 227.9M399.2 224.8L400.5 224.3L401.8 224.1L402.2 224.4M405.4 226.3L403.9 226.2L403.2 226.8L403.2 228.4M404.4 225.4L403.9 224.6M404.4 228.0L404.2 226.3L404.0 224.6M399.8 227.7L399.2 226.7M399.4 228.3L400.0 226.5L401.0 226.1M399.3 229.8L399.3 227.9L398.9 227.5L398.3 227.7M404.4 223.5L405.9 222.8L406.8 222.6L407.3 222.1M406.2 225.1L405.7 223.3M402.9 225.9L403.5 225.2L404.3 224.8L404.7 224.5M413.3 228.3L414.0 227.5L414.8 225.7M406.1 227.0L406.1 226.0M413.2 225.7L412.3 225.8L411.6 225.7L409.9 225.4M412.3 231.0L412.3 229.0M407.8 230.0L408.6 229.5L409.3 229.3M408.1 227.5L409.5 226.7M412.1 225.4L412.7 224.5L412.8 223.9L413.9 223.3M408.2 230.6L410.1 230.4L411.6 230.9M412.5 227.0L413.5 226.8L415.4 226.3M407.8 230.3L408.5 228.9L408.4 227.8M409.4 227.3L408.9 225.5L409.3 224.7M415.7 229.4L415.4 228.7M415.8 226.1L416.5 226.4L417.3 226.2L418.7 226.4M412.3 231.3L411.9 230.9L411.9 229.8M411.0 231.5L411.4 230.8M410.1 230.0L409.2 229.9L408.4 229.7M414.6 227.2L413.6 225.5L412.8 225.4L411.4 225.4M405.2 231.9L406.3 230.4M413.8 229.3L413.8 228.7L413.7 227.4L413.8 226.7M412.6 230.7L413.1 231.0L413.6 230.7M409.4 232.4L408.7 231.7M406.2 231.2L406.0 229.5L407.1 228.2L406.9 226.8M414.3 230.1L415.3 228.6M411.5 227.6L412.2 227.1L413.0 227.0L414.6 227.2M411.5 229.4L412.8 229.6L414.5 230.2M409.6 228.0L410.1 226.1L410.9 225.8L411.8 225.7M406.0 231.6L407.4 231.7M408.8 227.8L408.5 227.3L408.5 226.6L409.4 225.0M408.0 228.7L408.4 228.4L409.4 227.1M411.2 226.2L412.2 224.5M405.0 230.3L405.6 229.7L405.4 228.9L405.9 228.4M413.0 231.3L413.5 230.2M408.7 227.5L407.7 225.9L406.9 225.0L406.7 224.3M412.9 230.4L411.6 231.6L411.8 232.8L411.8 234.0M416.0 228.7L415.2 228.0L414.9 227.2M407.2 225.6L407.8 223.8L407.3 222.7M415.1 227.5L416.4 226.9L417.1 225.9L417.8 224.9M409.3 227.9L409.3 226.7L407.9 225.9L406.2 226.5M410.8 228.2L411.2 227.8L412.7 227.4L413.5 226.1M414.4 226.8L413.7 226.1M406.9 229.3L408.6 228.8M410.3 231.6L411.1 231.1L411.8 230.8L412.1 230.3M415.9 227.7L416.9 226.5L417.2 225.8L417.8 225.4M410.2 229.9L409.7 229.4L409.2 227.5L409.6 225.8M412.9 230.0L412.4 228.3L410.8 227.2M416.1 227.5L417.3 226.4M421.2 225.9L420.7 224.5M416.9 227.0L417.9 227.3M421.7 227.0L419.8 227.0L418.5 228.1L416.8 227.6M417.3 230.1L416.7 229.9L415.5 229.3M419.4 226.0L418.4 224.4M417.6 230.4L417.0 231.4L416.5 232.6M417.5 227.6L419.3 227.1M416.9 227.3L417.1 226.3M421.6 225.6L421.7 224.7L421.8 224.0L420.6 222.5M423.4 225.4L423.8 224.5L423.6 223.4L423.1 222.7M423.1 231.2L422.9 230.3L422.8 229.7M421.4 227.0L421.0 225.5L421.2 224.2L422.2 223.0M422.1 230.4L421.6 229.7L420.1 228.7M424.9 226.9L423.3 225.7L423.2 224.0L422.5 222.2M418.1 228.1L418.7 226.5L418.8 225.9L418.2 224.1M423.2 228.8L423.8 227.9M419.4 225.1L419.7 223.9L419.8 223.2M421.0 231.8L420.7 230.7M424.0 224.5L425.2 223.3L425.1 222.5L424.8 222.0M423.0 229.3L422.1 229.5L420.6 229.0L419.8 228.7M416.6 229.2L417.7 229.0L419.2 230.1L420.5 230.4M419.9 231.0L419.1 229.6M418.8 229.6L419.4 228.8L421.3 228.4L422.8 227.4M417.9 232.8L417.8 231.1L418.9 230.2M418.1 231.3L418.0 230.1L418.0 229.3L418.3 228.8M418.2 231.8L418.0 230.1L418.3 228.7L418.6 228.3M417.5 227.6L418.2 227.3M415.8 227.6L414.5 228.3M422.3 226.4L422.0 225.5L421.4 225.2L420.6 224.5M424.9 230.9L424.0 229.8L424.1 228.0L423.8 226.9M422.9 227.3L421.6 226.5M418.9 227.6L420.0 227.1L421.5 226.6M421.9 224.4L421.4 224.1M424.0 231.2L423.6 230.6L423.4 229.9L423.2 229.3M420.1 230.4L420.4 229.4L421.3 228.9M422.2 231.7L423.5 230.6L424.9 230.2M420.6 228.7L419.7 229.0L418.3 229.3L417.0 229.4" fill="none" stroke="#666" stroke-width="1.0" stroke-linecap="round" stroke-linejoin="round"/><polyline points="427.4,239.7 439.2,233.8 451,230.9 462.9,228.9" fill="none" stroke="#6b6b6b" stroke-width="1.0" stroke-linejoin="round"/><path d="M427.8 239.5L427.8 240.1L428.0 240.0M425.7 237.1L427.5 237.4M429.5 238.7L429.5 239.4L429.5 239.5M430.5 238.2L430.2 238.9L430.5 239.8M431.9 237.4L432.8 237.9L433.1 238.9M434.0 236.4L434.2 236.6L434.5 237.0M433.0 235.3L433.8 235.9M435.3 235.8L436.2 236.1L436.6 237.1M436.7 235.0L436.8 235.6L436.8 236.1M437.8 234.5L438.0 235.7L438.5 236.4M435.8 231.8L437.1 231.7M439.8 233.6L440.4 233.8L440.5 234.6M441.1 233.3L441.0 234.2L440.7 234.7M442.6 233.0L442.8 233.1L442.9 233.4M445.0 232.4L445.3 232.3L445.4 233.0M444.3 230.8L445.0 230.7M446.1 232.1L446.0 232.9L446.3 233.5M447.7 231.7L447.9 232.2L448.7 233.4M450.0 231.1L450.1 231.5L450.6 232.7M451.5 230.8L451.4 231.7L451.5 231.8M452.9 230.6L453.5 231.3L454.0 232.1M452.0 229.7L453.5 229.1M454.9 230.2L455.1 231.2L455.8 231.9M456.6 230.0L456.9 230.5L457.5 231.5M455.4 227.2L457.0 227.5M457.8 229.8L457.7 230.8L457.7 231.5M459.7 229.4L459.5 229.6L460.0 230.0M461.8 229.1L461.6 230.0L461.7 230.9" fill="none" stroke="#6b6b6b" stroke-width="0.7" stroke-linecap="round"/><polyline points="158.8,252 155.8,259.6 150,264 150,274.4 144,280 150,286 145.5,292 145.5,301 151.4,304 150,310" fill="none" stroke="#6b6b6b" stroke-width="1.0" stroke-linejoin="round"/><path d="M158.6 252.5L159.6 253.0L160.4 252.8M155.7 251.5L156.4 251.2M158.2 253.4L159.2 254.1L159.8 255.1M157.7 254.7L158.2 255.3L158.5 255.5M157.1 256.4L157.8 257.3L158.3 257.5M156.6 257.5L157.3 257.8L158.5 257.9M153.6 256.5L154.4 255.9M156.3 258.4L157.4 258.3L159.0 259.0M153.4 257.5L154.8 257.8M155.4 259.9L155.5 260.4L155.8 260.4M154.4 260.7L154.8 261.3L154.6 261.3M153.3 259.7L154.0 259.1M153.5 261.4L154.3 262.6L154.7 263.6M152.5 260.6L153.2 260.9M152.8 261.9L152.8 262.2L153.7 262.8M150.8 260.0L151.9 259.8M151.5 262.9L151.8 263.4L152.0 264.6M150.8 263.4L151.8 264.3L152.5 265.1M148.8 261.3L149.5 261.7M150.0 264.1L150.5 264.4L150.5 264.0M147.5 264.1L148.7 264.5M150.0 265.4L151.1 265.1L151.7 265.2M150.0 266.8L150.5 266.6L151.0 267.0M150.0 268.0L151.4 268.3L152.4 268.4M147.8 268.0L148.9 268.4M150.0 269.3L151.0 268.4L152.4 268.0M150.0 270.8L150.5 271.1L151.3 271.4M150.0 272.3L151.1 272.3L152.4 272.6M146.6 272.3L148.0 272.6M150.0 273.2L150.8 273.1L151.5 273.6M149.6 274.8L149.9 275.2L150.5 275.3M148.9 275.4L149.2 275.7L149.7 275.9M147.5 274.3L148.3 274.9M147.6 276.6L147.4 276.9L147.9 277.3M146.6 277.6L147.2 278.5L148.3 279.2M145.2 276.7L146.3 276.1M145.8 278.3L146.5 279.5L147.1 280.4M144.9 279.1L145.9 280.1L146.4 280.5M144.2 280.2L144.8 279.5L145.8 278.4M145.2 281.2L146.4 280.8L147.2 280.2M145.8 281.8L146.2 281.1L146.6 279.9M146.8 282.8L147.2 282.5L147.6 282.0M147.7 283.7L148.5 282.7L149.0 281.2M145.5 285.0L147.3 284.5M148.5 284.5L149.3 284.3L149.3 284.1M146.4 286.0L147.7 286.2M149.4 285.4L150.3 284.8L151.2 284.4M149.9 286.1L151.1 286.4L151.8 287.2M149.1 287.2L149.3 286.9L149.7 287.4M148.3 288.2L149.1 288.5L150.3 289.3M147.4 289.5L148.5 289.7L149.1 290.1M145.8 288.8L147.3 289.2M146.8 290.3L147.2 291.2L148.0 291.4M144.2 289.0L145.8 289.4M146.1 291.2L146.3 291.9L147.0 292.0M143.5 289.6L144.4 289.5M145.5 292.2L145.8 292.1L147.0 291.7M143.7 292.2L144.6 292.1M145.5 293.6L146.4 294.1L147.6 293.9M145.5 294.6L146.9 294.8L147.9 295.6M145.5 296.3L146.1 296.3L146.0 296.0M144.1 296.3L144.9 295.9M145.5 297.6L146.5 297.6L146.8 297.2M142.1 297.6L143.4 298.0M145.5 298.9L147.1 299.0L148.1 299.6M145.5 300.1L147.0 300.0L147.9 299.9M143.8 300.1L144.6 300.0M145.5 301.0L145.6 300.2L145.7 299.4M147.2 301.9L147.4 301.7L147.6 301.5M148.4 302.5L149.0 301.4L148.9 301.1M149.4 303.0L149.7 303.1L149.7 302.5M147.5 305.6L148.7 305.6M150.7 303.7L151.0 303.3L151.1 303.2M151.3 304.2L152.4 304.2L153.0 304.6M151.1 305.5L151.7 306.2L152.7 306.4M150.8 306.7L151.7 307.0L151.9 307.0M150.5 307.8L151.2 307.9L151.8 307.8M150.3 308.8L151.3 309.1L152.2 310.2M149.1 308.6L149.9 309.1" fill="none" stroke="#6b6b6b" stroke-width="0.7" stroke-linecap="round"/><path d="M358.5 506.2L360.6 506.7L362.7 507.0M358.0 507.0L359.5 506.6M358.3 505.3L358.6 504.1M363.8 510.0L363.2 509.1L362.9 508.5M362.1 511.5L360.2 510.5M359.7 508.2L359.0 506.8L358.0 505.2M356.2 507.8L358.0 508.1L359.7 508.7L360.8 508.1M360.7 511.6L361.8 511.8L363.0 512.0L363.5 513.0M355.6 508.0L355.8 507.5L356.5 506.3M359.6 509.8L360.4 509.8M360.4 506.1L361.2 505.7L362.1 503.8L361.8 502.6M356.2 508.9L357.4 509.1L358.4 510.9L359.0 512.9M359.3 509.2L358.9 508.7M362.6 509.1L362.4 508.2L361.6 507.2M356.3 508.9L358.0 508.2M364.8 514.6L365.2 515.9L363.9 517.5L363.6 518.2M366.0 511.9L366.4 510.5L366.1 508.7M363.6 510.5L364.6 510.5M365.9 510.5L366.5 508.5L367.2 508.1L367.3 507.5M362.8 511.5L362.8 510.8M365.5 514.6L366.1 514.1M366.9 516.7L368.3 516.8M365.8 516.8L366.3 517.0L366.8 517.6M366.2 515.8L367.1 516.0L368.7 515.2M369.9 514.8L370.3 515.3L370.9 516.6M368.9 512.9L369.5 511.2L369.2 509.7L368.7 509.0M363.8 510.9L364.9 509.7M369.4 513.2L370.9 512.4M365.7 513.5L366.3 513.3M364.6 514.4L365.8 514.7L366.9 514.3M372.3 518.6L373.0 518.3M371.5 518.0L371.8 516.2L372.8 514.6M373.7 519.7L373.4 518.1L374.3 516.2M372.8 524.0L374.3 523.1L374.4 522.3M372.4 518.8L372.6 518.2L374.3 517.7L374.9 516.8M373.4 519.3L373.1 518.4M372.5 522.6L373.8 521.4M371.8 521.8L372.3 520.3L372.2 519.6M370.2 519.4L368.6 518.5M375.2 521.0L374.7 520.0L373.9 518.9L374.7 517.0M371.5 515.2L372.2 514.3L372.1 512.5M373.9 521.0L372.5 519.5M370.6 517.4L371.6 519.1L373.1 519.2L374.5 517.8M374.3 519.6L374.1 518.3M372.0 519.4L372.8 518.9L373.5 518.1L375.1 517.0M367.6 518.3L368.7 518.2L369.4 517.9L370.3 517.7M379.2 527.3L379.5 525.9M378.0 523.9L379.0 523.6L380.0 522.6L381.4 522.1M379.2 525.4L378.7 524.8L378.8 522.9M381.0 526.9L381.9 525.9L384.1 525.9L386.1 525.4M381.6 526.7L380.7 526.4L379.8 527.2M378.1 527.9L378.2 528.7L377.2 529.7L375.4 530.1M379.6 528.0L379.3 526.9L379.4 525.0M380.2 523.7L381.4 525.5L381.7 527.2L382.6 528.3M379.0 522.5L378.5 521.3M379.7 525.0L380.4 524.5L381.3 524.5L381.8 524.5M378.8 528.5L380.6 528.9L381.9 530.1M380.3 528.6L382.0 527.6M377.9 522.7L378.1 520.9L379.0 519.9M374.6 523.0L375.7 522.9L377.0 522.8M377.5 528.2L377.3 527.2M380.7 525.7L381.5 526.4M386.8 531.4L385.5 530.0M383.1 528.7L383.2 528.0M385.5 532.1L385.6 530.7L384.2 529.4M381.7 530.6L383.3 529.4M383.1 533.5L384.4 533.8L385.8 534.2L386.3 534.2M385.3 534.5L386.1 533.5L386.6 532.8M383.9 534.2L385.7 534.6L386.5 536.1M381.7 531.4L380.7 530.9L380.2 531.0M380.7 530.6L381.1 530.0M382.7 532.5L382.4 530.8M382.6 532.6L382.7 531.7L382.5 529.9L383.7 528.7M385.4 532.7L387.2 533.1L388.2 532.2L390.0 532.3M383.2 532.4L383.7 533.2M382.8 531.6L384.4 531.2L385.6 531.3M384.1 534.1L384.1 532.2M388.5 532.8L387.4 531.6L386.7 531.1M390.6 533.2L389.7 531.3L388.0 530.2L387.7 529.7M391.6 535.5L391.8 534.7M386.2 534.7L387.4 533.3L389.5 532.9M388.2 535.0L389.6 534.4M393.3 536.1L393.8 534.1L394.3 533.3M392.7 535.7L393.5 536.1M393.3 538.5L393.7 538.1M392.1 533.9L392.4 533.0L392.1 532.5L391.1 532.0M388.6 533.4L390.1 534.0M390.4 534.4L390.4 533.8M392.6 535.2L392.7 534.7M390.2 537.9L391.7 536.7L392.6 535.1M393.7 537.2L394.3 535.4M393.0 538.7L393.9 538.9L395.3 538.6M398.7 539.0L398.9 538.1M398.3 542.6L399.1 541.1M396.4 541.6L395.3 540.6L395.0 538.7M397.5 541.3L398.4 539.8M396.4 539.8L398.4 540.0L399.8 541.0M395.2 539.4L395.5 538.6L397.0 538.1M400.1 540.6L400.7 539.2M401.6 538.8L402.5 539.9M401.2 538.3L401.7 538.3M400.3 537.6L401.4 536.4L401.1 534.3L402.0 533.4M397.6 540.1L398.9 539.8L400.0 538.8M399.4 537.3L398.5 536.5M395.6 539.9L396.1 538.9L397.0 537.0L398.4 535.6M397.1 539.2L398.0 538.3M406.7 542.5L406.9 541.2L406.8 540.3L408.1 538.8M401.5 543.0L401.1 541.3M403.4 540.4L403.1 539.1L401.7 538.3L400.9 536.5M407.0 543.4L406.5 543.3L405.3 542.6L404.8 541.1M405.9 542.0L407.4 542.3L408.1 541.9L410.3 541.8M404.8 540.3L406.3 540.6L407.1 541.7M406.0 540.8L403.9 540.4L402.6 540.0M401.9 543.3L403.1 542.3M406.4 545.5L407.8 544.4L408.4 544.2M408.4 542.4L408.9 541.7L409.6 540.0L409.8 539.4M401.3 542.8L401.9 542.4L403.1 542.4L404.3 541.3M406.2 541.4L404.1 541.6L403.1 541.0M404.3 541.0L404.6 540.5L406.5 539.7L407.2 539.5M403.5 544.6L405.0 544.1L406.7 544.7M407.8 542.3L409.4 541.4L410.8 541.3L411.6 540.7M410.9 545.4L411.2 544.2L410.9 542.1L411.5 541.5M410.4 543.7L411.0 543.7L413.0 544.4M407.3 546.3L408.0 544.6L409.0 544.3L409.7 543.7M410.9 548.0L410.9 546.4M411.7 543.3L411.3 541.9L411.6 541.4M412.1 543.6L413.0 541.9L412.9 540.0M408.3 543.5L408.0 542.1L408.3 540.6M412.0 547.6L412.1 545.6L412.5 545.2L414.2 544.3M413.2 545.1L413.2 543.7M410.0 548.2L409.5 547.0M412.4 547.2L414.0 548.4L414.7 549.1" fill="none" stroke="#6a6a6a" stroke-width="0.9" stroke-linecap="round" stroke-linejoin="round"/><polyline points="360.7,503.3 365.2,507.8 369.6,512.2 374,516.6 380,524 384.4,530 390.3,534.4 396.2,537.4 402.2,538.8 406.6,541.8 411,544.8 415.5,547" fill="none" stroke="#6b6b6b" stroke-width="1.0" stroke-linejoin="round"/><path d="M361.0 503.6L362.0 503.4L362.3 502.9M362.2 504.8L362.9 504.1L363.4 503.8M363.2 505.8L363.3 504.7L363.8 504.3M364.6 507.2L365.3 506.8L365.5 506.0M365.3 507.9L365.5 507.5L366.0 507.2M366.8 509.4L366.7 508.9L367.3 509.0M367.7 510.3L368.0 509.5L369.0 508.9M369.0 511.6L369.6 510.6L370.4 510.2M369.7 512.3L369.4 512.1L369.9 511.6M365.9 515.8L366.6 516.2M370.8 513.4L370.8 513.4L371.2 513.1M369.3 514.1L370.8 514.3M372.3 514.9L372.7 514.3L372.8 513.4M368.5 518.2L369.4 518.8M373.3 515.9L373.5 515.9L373.4 515.4M371.1 517.4L372.5 517.0M374.4 517.1L374.6 516.6L375.0 516.0M371.2 519.4L372.0 519.8M375.2 518.1L375.7 517.6L376.4 517.3M376.5 519.6L377.0 518.8L377.8 518.7M377.4 520.7L378.0 520.5L378.5 519.4M378.3 521.9L379.0 521.5L379.0 521.2M379.3 523.1L380.0 522.4L381.0 522.5M376.6 524.8L378.0 525.1M380.5 524.7L381.0 524.9L381.0 524.5M381.3 525.7L382.2 525.8L382.9 525.1M379.7 526.4L380.9 526.7M382.3 527.2L382.9 527.1L383.9 526.8M383.6 528.8L384.0 528.8L384.1 528.2M381.8 529.5L383.4 529.9M384.6 530.1L385.5 529.8L385.8 529.4M382.2 532.8L383.0 532.4M386.0 531.2L386.4 530.4L386.8 529.8M387.5 532.3L387.6 531.8L388.0 532.0M389.4 533.7L389.5 533.5L389.9 533.2M387.9 534.5L389.7 534.9M390.7 534.6L391.0 533.9L391.0 533.3M392.3 535.4L392.8 534.6L393.7 534.4M391.3 536.8L392.0 536.3M393.7 536.1L394.4 535.6L394.4 534.5M391.6 539.1L392.7 538.6M395.4 537.0L395.8 537.0L395.9 536.2M396.5 537.5L396.8 537.3L396.4 536.3M395.8 538.4L396.7 538.2M398.4 537.9L398.5 537.4L399.4 536.3M399.7 538.2L399.2 537.5L399.3 536.3M401.2 538.6L401.6 537.8L401.5 537.7M400.4 540.4L401.2 540.4M402.3 538.9L402.6 538.1L402.5 538.1M403.8 539.9L403.8 540.1L404.3 539.6M405.8 541.2L405.6 541.3L406.2 540.6M407.1 542.1L407.6 541.6L407.6 541.0M408.2 542.9L408.4 542.5L408.3 542.0M405.2 546.6L406.1 546.4M409.6 543.9L409.9 543.3L410.4 543.3M407.6 545.6L409.3 545.2M411.7 545.2L412.1 544.7L412.2 544.8M410.4 547.0L411.3 546.6M412.8 545.7L413.9 544.8L414.4 544.5M410.4 549.8L411.1 550.0M414.2 546.4L414.4 545.3L414.2 544.4M413.1 547.1L414.7 547.1" fill="none" stroke="#6b6b6b" stroke-width="0.7" stroke-linecap="round"/><polyline points="523.3,560.7 514.4,559.2 507,560.7 501.1,562.2 496.6,565.2 492.2,566.6 490.7,569.6 493.7,572.6 495.9,575.5 492.2,574 489.2,575.5 486.3,580 484.8,584.4 483.3,588.8 486.3,593.3" fill="none" stroke="#6b6b6b" stroke-width="1.0" stroke-linejoin="round"/><path d="M523.1 560.7L522.6 561.1L522.6 561.4M522.5 559.5L524.1 559.7M520.9 560.3L521.0 560.6L521.0 560.8M518.6 559.9L518.7 560.5L518.2 560.9M516.6 559.6L516.7 559.8L516.5 560.8M514.0 559.3L513.9 559.6L513.8 560.6M511.3 559.8L511.4 560.7L511.9 561.1M509.3 560.2L508.9 560.7L509.4 561.1M506.5 560.8L506.8 561.4L506.5 561.4M504.3 561.4L504.0 562.1L504.3 562.3M502.6 561.8L502.7 561.9L502.8 562.8M500.8 562.4L500.4 562.4L500.3 562.0M500.7 563.2L502.1 562.8M498.8 563.7L498.6 563.4L498.3 562.8M499.6 566.0L501.1 565.4M496.5 565.2L496.4 565.4L496.8 566.2M494.2 565.9L493.9 566.6L494.2 567.0M492.1 566.8L491.6 566.3L491.3 565.8M491.1 570.0L490.9 570.0L490.3 570.3M492.5 571.4L492.2 571.8L491.6 571.6M494.6 573.8L494.8 574.3L494.2 574.2M495.1 575.2L495.0 575.4L494.8 576.3M491.4 574.4L491.6 574.4L491.1 574.0M488.7 576.2L488.7 575.3L488.0 575.1M487.6 578.0L487.0 578.2L486.4 577.6M486.2 580.3L486.1 580.0L485.2 580.0M485.3 582.9L485.4 582.8L484.7 582.7M484.6 584.9L483.8 584.6L483.6 584.9M483.9 587.0L483.2 587.1L483.1 587.0M483.8 589.5L484.0 589.4L484.7 589.0M485.2 591.7L485.5 591.1L486.1 591.0" fill="none" stroke="#6b6b6b" stroke-width="0.7" stroke-linecap="round"/><polyline points="526.6,580.4 535.5,581.3 537.3,585.7 539.1,592.8 538.2,598.2 542.6,603.5 548,608.8 551.5,614.1 558.6,619.5 565.7,621.2" fill="none" stroke="#6b6b6b" stroke-width="1.0" stroke-linejoin="round"/><path d="M527.2 580.5L526.7 580.8L527.0 581.3M529.1 580.7L528.9 581.6L529.0 581.7M528.9 578.2L529.7 577.6M532.0 580.9L532.1 581.3L532.3 581.8M533.4 581.1L533.4 581.1L533.0 581.7M535.7 581.7L536.5 581.8L536.8 581.4M536.7 584.3L537.3 584.5L538.0 584.2M537.6 586.8L537.5 587.0L538.2 586.9M538.0 588.7L538.7 588.8L539.5 588.4M538.7 591.2L539.1 591.2L539.5 590.9M536.4 591.6L537.7 591.4M539.0 593.2L539.6 593.5L540.1 593.9M537.2 593.0L538.0 593.1M538.5 596.3L538.6 596.7L539.0 596.6M538.9 599.0L539.5 598.4L539.4 598.6M536.7 600.4L537.9 600.9M540.2 600.6L540.8 600.6L541.3 600.4M541.4 602.1L541.7 602.2L542.1 601.6M543.1 604.0L543.2 603.8L543.4 603.5M545.2 606.0L545.6 605.6L546.2 605.0M546.5 607.3L546.7 607.0L547.4 606.9M548.5 609.5L549.1 609.3L549.1 608.7M549.7 611.4L550.0 610.8L550.8 610.6M550.6 612.8L550.9 612.6L551.1 612.2M552.4 614.8L552.4 614.4L552.6 613.7M553.9 615.9L554.3 615.8L554.1 615.5M555.2 616.9L555.4 616.7L555.9 616.2M557.7 618.8L557.7 618.1L558.3 617.9M558.7 619.5L558.7 619.5L558.7 618.9M561.9 620.3L562.1 619.9L561.8 619.8M563.8 620.7L563.4 620.7L563.8 620.1" fill="none" stroke="#6b6b6b" stroke-width="0.7" stroke-linecap="round"/><path d="M109.8 310.3L111.1 309.5L112.0 309.0M110.5 312.4L110.3 312.8L108.3 313.1L107.6 312.4M111.5 310.1L111.8 310.6M111.3 313.3L112.0 312.3L112.4 312.0L112.4 311.3M109.0 312.8L110.3 312.6M112.3 310.0L112.6 310.5L113.1 310.7M111.6 312.3L111.9 311.1M106.0 315.5L106.3 315.9L106.9 316.4L107.1 318.0M106.5 316.3L104.9 316.3M105.2 315.9L104.8 316.9M106.3 317.5L107.5 317.5L109.0 318.3M109.6 314.6L110.4 315.3L111.1 316.9L111.4 318.5M108.2 314.4L108.5 314.0L108.7 312.5L108.1 311.9M106.4 314.2L107.9 314.8M105.6 315.8L105.2 317.0M97.9 315.3L96.9 316.5M103.9 314.9L103.4 316.8M99.1 312.5L98.2 313.8L96.4 314.0L95.8 314.4M99.0 314.6L97.9 315.5L97.0 316.9L96.3 317.4M101.2 315.5L100.9 316.3M102.9 315.7L103.5 317.4L103.2 318.9M103.9 317.2L104.7 317.9L106.5 317.9M102.6 317.1L103.3 318.3M102.5 314.6L101.7 316.1L100.8 316.7L100.4 317.9M95.8 315.3L95.9 315.8L96.3 316.6L97.7 317.1M94.2 316.3L94.9 315.4L94.5 313.7M93.7 315.7L93.4 316.4L93.7 317.4M97.7 314.0L98.2 313.8M97.3 315.7L99.2 316.1M94.1 316.4L92.3 317.2M97.4 315.5L95.8 315.5L94.6 314.4M93.6 318.6L94.5 319.5L95.9 320.1L96.2 320.9M94.8 318.8L95.6 319.4M95.4 316.1L95.7 314.4L96.5 313.9M94.1 316.7L95.8 317.7M95.0 316.6L96.4 316.9L97.0 316.3L97.5 315.4M93.7 315.6L94.2 314.5L94.7 314.2L95.4 314.3M94.5 316.7L95.5 318.1L95.9 319.8L94.7 321.3M90.5 321.8L90.7 323.8L91.3 325.5L92.7 326.4M93.5 323.2L93.7 324.2L94.9 325.3L95.3 325.8M92.3 323.5L92.8 322.9L93.7 323.0L94.9 322.6M93.7 320.3L94.2 318.7L94.0 317.0L94.8 315.3M94.8 321.5L96.4 321.1L96.7 320.5M91.0 321.8L92.5 320.6M93.0 325.6L92.8 324.9L91.3 324.3M90.4 324.9L91.2 323.9L91.7 323.0M90.9 326.3L91.2 325.8L91.6 324.9M92.7 326.3L93.4 327.0L94.4 327.1M90.5 325.0L92.2 324.2M92.3 326.6L92.9 326.8L93.7 327.7L94.2 329.0M91.9 324.3L92.7 323.5M91.1 324.9L92.1 325.4L93.0 325.8M92.4 329.5L92.5 330.3M92.8 334.4L93.1 332.5L94.0 330.9M91.8 329.7L91.8 331.2L91.9 332.4M91.5 335.3L91.9 334.7M92.1 329.7L92.7 330.8L93.3 332.7L92.3 334.1M93.1 331.6L93.5 331.9L93.9 332.2L95.8 331.9M91.7 330.3L92.4 330.5L92.9 330.7L93.4 331.2M92.6 336.6L93.2 336.1M93.9 334.4L95.3 335.4M93.3 330.4L92.6 329.7M91.2 339.6L90.9 340.5M90.4 340.8L90.7 341.7L90.3 342.1M92.7 339.3L92.9 340.3L93.2 340.7L93.0 342.3M93.3 338.6L93.6 340.0L94.3 340.5L94.8 341.1M92.8 340.5L93.2 340.1M91.9 337.1L92.4 337.5M93.0 338.5L93.6 338.0M87.3 344.8L86.9 345.6L85.5 346.5M86.4 344.3L87.8 343.3L89.7 342.9L91.6 343.2M86.7 345.2L86.1 346.3L86.8 348.0L87.3 348.8M88.2 342.6L87.4 343.2M86.6 345.2L87.7 346.6M87.6 345.2L88.0 346.9L89.4 348.3L90.6 349.7M89.1 344.4L89.4 345.7L89.3 346.2M88.6 341.8L89.2 343.1M84.4 345.4L86.1 344.8L86.6 345.1L87.2 345.9M87.4 347.3L88.8 347.9M84.4 347.6L85.1 348.2L85.3 350.0M87.6 345.7L88.9 345.8L89.5 345.4M87.1 345.0L88.6 345.0L89.8 343.6L90.3 343.4M85.1 345.6L85.0 346.1L85.3 346.5M79.5 349.7L79.5 347.9L79.7 345.9L80.9 344.6M79.4 348.5L80.6 348.6L81.7 348.2M80.5 350.2L79.9 350.1L78.8 350.1M83.1 346.6L82.3 345.5L81.7 345.1M80.1 349.7L81.8 349.2M79.0 348.1L77.7 347.7L76.9 347.7M83.7 347.2L84.7 346.7M81.7 349.2L81.1 348.5L80.2 347.7M82.4 348.8L83.0 348.9M78.9 357.0L78.7 358.4L78.7 359.8L78.9 360.8M79.0 356.8L79.6 355.7L81.0 354.9L81.6 354.9M81.0 351.5L81.7 351.5L83.1 351.3L84.3 350.0M81.3 354.0L82.7 354.2L83.6 354.6M78.1 350.4L78.7 350.3L79.9 350.5M78.0 351.2L79.8 350.7M78.8 349.3L79.4 348.9M80.1 354.7L81.6 354.9L83.2 353.8L83.6 352.6M79.1 357.2L79.8 356.2L80.1 355.4M81.8 357.0L83.1 356.3L84.3 356.1M78.5 355.7L79.0 355.3L79.6 355.3M78.4 355.1L79.8 353.8M80.5 359.6L81.3 358.4L82.6 357.7M81.7 359.7L82.1 359.1L82.8 358.4L83.0 357.9M81.6 357.2L82.0 356.8M81.7 359.2L82.1 358.2L82.3 357.4L83.2 355.9M81.6 360.1L82.0 359.1L82.2 357.6M83.8 361.5L84.3 361.2L84.8 360.4M84.3 361.4L85.9 360.7L86.4 359.1L86.8 358.6M81.0 356.7L80.5 356.2L79.9 355.0L80.0 354.0M86.4 361.0L85.3 360.1M89.8 359.5L91.4 359.3L92.4 358.6M88.5 361.5L88.6 360.1M86.5 361.9L87.1 360.3L87.4 359.6M86.7 359.3L87.4 357.6L87.8 355.8M91.2 359.9L91.1 359.3L91.1 358.4M87.9 360.9L88.3 360.1L89.6 359.1L90.1 358.7M87.8 361.3L87.9 360.3M92.4 360.8L91.4 360.7L90.6 360.9M88.8 359.9L89.9 360.2M88.9 362.4L88.4 361.8M85.4 359.4L85.2 358.8" fill="none" stroke="#666" stroke-width="0.8" stroke-linecap="round" stroke-linejoin="round"/><path d="M60.7 98.8L60.3 98.3M62.2 97.6L62.2 96.8M60.1 98.3L60.2 97.3L60.2 96.4L61.1 95.3M59.1 96.0L59.8 95.4M58.2 96.8L58.7 96.5L59.3 96.2L59.8 96.4M60.2 95.9L61.5 96.3L62.2 95.9M61.5 99.6L62.6 99.3M59.9 101.6L61.7 101.4L62.9 101.6L64.2 101.0M62.7 100.0L62.0 100.3L61.0 101.5L61.3 103.0M60.6 102.1L61.5 102.3L62.4 102.8L62.6 103.9M62.0 99.9L62.1 101.0L62.1 102.0M60.9 107.6L61.6 107.8M61.3 102.8L63.0 102.3L64.7 101.9M60.3 107.0L60.9 108.3L60.9 109.3L61.1 109.9M61.2 101.9L61.9 102.8L63.2 102.9L64.1 103.7M60.3 103.3L61.4 102.7L62.0 102.3L63.2 101.1M57.3 108.5L57.4 109.1L57.6 109.7L57.1 111.1M61.0 108.2L61.1 109.5L59.8 110.7M58.1 110.0L56.8 110.3L55.7 110.7M60.7 107.4L61.5 108.4L62.9 108.2L63.3 107.7M61.3 107.6L61.2 108.4L62.3 109.7M56.0 110.4L56.3 110.9L57.0 111.7M56.8 110.9L57.7 111.3L59.3 111.6L60.0 111.3M56.0 110.1L56.4 110.5M60.6 110.1L60.7 108.5L62.1 107.5L62.8 107.6M57.9 111.7L57.6 111.3M57.9 109.1L59.3 108.1L60.5 108.5M59.4 112.3L59.2 111.1M59.5 112.7L60.7 112.4L61.2 111.3L61.7 111.1M55.7 108.8L55.0 107.8L54.7 106.8L54.5 105.6M60.9 112.5L61.2 111.9M64.1 116.3L65.4 116.1M62.7 116.3L63.8 115.1L65.5 115.0L66.2 114.7M65.5 117.1L66.8 117.1L68.5 117.1L69.7 116.0M64.2 113.1L65.4 112.9M63.5 117.2L64.3 117.1L64.7 117.5M65.2 115.6L65.6 114.4L65.3 112.9M63.7 115.7L64.4 114.5M64.1 119.9L64.2 119.2L63.8 117.6L64.4 116.1M65.9 123.4L66.1 122.2M68.4 122.4L69.1 124.1M68.0 122.2L68.9 121.0L69.6 119.8L70.3 119.4M66.3 119.2L67.1 119.3M71.8 124.6L70.8 123.7M68.9 124.5L67.8 124.2L66.5 123.3M68.3 125.2L69.4 123.9L69.6 123.3M69.6 123.0L70.0 122.5L70.7 122.4L71.3 121.5M70.2 122.9L70.9 122.7L72.5 122.0L73.7 122.5M70.5 125.5L71.4 125.0L72.1 124.4L72.3 123.4M72.8 124.1L73.9 124.1L74.6 124.7L76.1 124.8M77.9 125.9L77.2 125.0L77.4 123.5L77.1 122.9M77.2 124.7L77.2 123.9M74.4 126.6L73.8 125.2L73.0 123.8M77.8 124.5L76.8 123.5L75.4 123.7M79.2 126.7L79.8 125.5M76.8 124.9L78.3 124.5M78.6 123.6L79.4 122.4L80.3 121.1M77.6 123.8L78.6 122.7L79.4 122.6M87.5 126.2L86.7 126.2L85.8 126.6M85.5 127.2L84.7 127.1L83.8 127.1L83.2 127.2M88.0 126.6L87.9 125.0L88.0 123.8L88.7 123.4M84.5 124.5L85.7 124.5L86.5 124.7L87.5 124.4M81.4 126.1L82.8 125.4L84.4 126.0M85.7 124.6L85.0 123.4L83.9 123.1L83.1 123.7M82.8 126.3L83.6 124.8L84.0 123.2M85.1 125.1L84.5 125.2L84.1 124.8M89.6 127.2L89.7 126.6L90.4 125.5L90.4 124.1M95.7 126.9L96.6 125.7L96.6 124.8L96.9 123.1M93.9 124.5L92.8 123.9L92.4 123.1L92.4 122.2M94.8 124.7L95.7 124.5L96.7 124.2L97.5 123.9M96.2 124.6L94.8 123.7L94.2 122.8M95.2 124.1L94.9 123.1L95.4 121.9L95.5 121.1M97.1 126.4L96.9 125.0L96.4 124.0M91.9 126.1L90.7 125.1L90.3 124.3M97.0 124.1L95.8 124.2L94.9 124.9L93.9 125.2M97.7 126.2L96.7 125.5M101.2 124.3L100.8 123.4L100.4 122.6L99.2 121.9M99.7 124.0L100.0 123.3L100.6 121.9L101.8 121.7M100.1 126.2L99.2 126.1M103.6 125.1L102.2 125.0M98.0 124.0L97.8 122.9M101.3 125.5L100.9 126.0L100.1 126.9M111.5 123.2L111.4 122.3L111.5 121.3M110.5 121.7L111.0 120.8L112.7 120.2M108.1 122.2L107.2 121.0L106.8 120.2L106.0 120.0M110.4 123.4L110.2 122.5L109.1 121.5L108.7 120.5M111.0 120.5L112.2 119.5L112.3 118.9L112.1 118.2M108.1 123.9L106.6 123.5L106.1 122.5M109.6 123.0L109.1 122.0L108.6 121.8M109.3 123.0L107.9 122.9M120.7 118.4L119.5 117.9L119.1 117.3L118.4 116.4M115.4 119.0L115.7 117.9L115.9 117.0M115.0 122.3L113.5 121.4L113.0 120.3M117.7 120.6L117.4 119.1L115.9 118.4M118.1 121.4L118.3 120.1L118.8 119.6L120.1 118.4M117.1 119.4L116.3 119.2L115.2 119.7L114.6 119.9M121.3 116.9L121.2 116.2M121.6 119.1L123.0 118.0L123.5 116.9M121.6 115.8L121.4 114.9M124.4 114.8L124.4 114.3L124.8 112.8L125.5 111.6M124.6 114.3L123.6 113.6L122.8 113.1M121.6 117.2L121.6 116.1M122.7 117.0L122.8 115.6L123.9 114.2M124.6 117.0L123.9 116.8L123.6 116.3L123.7 115.8M123.4 113.3L122.8 111.6M123.8 111.9L123.0 110.5L122.3 109.9M123.3 109.5L123.0 108.7M124.9 109.5L124.6 110.0M123.0 110.1L122.5 110.4L122.3 110.9L122.0 111.9M124.9 112.4L124.3 112.6M125.8 101.2L125.3 102.2L125.4 103.1L126.7 103.9M125.7 101.0L123.9 100.6L122.2 100.9M125.9 102.6L125.3 102.3L124.4 102.1M124.1 104.9L123.9 105.4L122.7 106.2L121.1 105.6M124.8 101.8L125.0 100.9M125.2 102.8L125.0 101.4L124.5 101.0L124.2 100.6M127.5 102.5L126.9 103.2M126.3 97.0L125.5 97.6L124.9 98.2L124.5 99.8M123.3 97.0L122.3 97.3L121.7 98.7M125.5 100.1L124.9 98.7L123.9 97.6M126.3 101.0L125.5 101.0L124.2 101.3L123.0 101.9M125.3 98.9L125.5 98.1L124.6 96.8M124.0 91.4L123.9 91.9M124.5 90.7L124.8 91.8L124.6 93.3L123.8 93.8M124.7 92.0L123.5 91.9M124.0 91.2L122.3 90.9M124.8 91.4L124.1 90.3L123.2 90.1L122.5 88.6" fill="none" stroke="#777" stroke-width="0.6" stroke-linecap="round" stroke-linejoin="round"/><path d="M308.5 280.7L307.7 280.7M307.4 284.0L306.2 283.6L305.3 283.2L305.1 282.2M306.2 284.3L306.9 285.5L306.5 286.4M308.6 281.0L307.4 280.3L305.9 279.6L304.3 279.0M306.3 284.4L305.2 283.8L304.9 282.1L305.1 280.5M305.9 283.8L304.9 283.0L304.0 283.0M309.6 282.1L308.5 282.1L308.0 282.0L306.8 281.8M308.4 291.6L308.8 290.1L309.3 289.7M308.7 288.2L307.0 288.0L305.4 288.5L304.4 288.9M306.8 291.2L305.7 291.7L304.6 291.0M307.7 291.8L306.1 291.7M308.1 291.9L308.0 293.2L307.5 294.5L306.9 295.5M307.7 292.4L306.8 291.9L305.5 291.4L305.0 291.0M305.4 290.1L304.5 290.5L303.3 290.9L302.0 290.9M306.3 288.0L305.7 289.6L305.5 291.3L304.9 291.9M307.0 287.9L305.6 286.9L305.3 286.5L305.6 285.9M307.0 288.6L305.7 287.6M306.8 293.2L305.4 293.6M305.6 293.7L306.5 292.6L306.2 291.5L306.5 289.9M304.5 299.3L303.5 299.9M307.3 295.7L307.3 295.1L307.7 294.7M305.9 296.1L304.4 295.5L303.0 295.7L302.2 296.0M304.5 298.0L304.3 299.7L305.0 301.1L305.7 301.5M305.6 293.5L304.6 294.1L304.6 294.8M304.9 294.6L303.5 295.1M307.7 295.0L306.8 295.3L306.1 296.7M304.5 303.6L303.7 304.2L303.1 304.4L302.8 304.8M307.0 302.0L305.4 301.4L304.7 300.9M303.7 303.4L303.2 301.8L303.7 300.5M305.8 299.7L304.8 300.4M306.9 303.6L305.6 303.6L304.1 303.6M306.6 300.2L305.8 299.7L304.5 299.5L303.2 299.1M306.8 299.9L306.4 299.5L304.9 298.8M303.7 305.3L304.3 304.1L304.1 303.0M304.4 306.4L303.7 306.9L303.7 307.7L303.9 308.3M304.5 307.1L304.1 307.6L302.7 308.5M305.4 308.9L304.5 308.5M304.6 304.4L305.3 304.0M305.5 308.3L305.6 309.1M305.4 309.2L305.1 308.8L304.8 308.1L303.9 307.6M304.0 312.4L302.7 311.5L301.7 311.6L300.5 310.8M305.1 312.0L305.0 311.1L305.8 309.5L306.1 308.7M302.7 309.6L301.8 308.2L300.7 307.3M303.6 310.1L303.3 310.6M302.1 311.9L301.4 311.1L300.7 311.0M304.4 310.5L303.6 310.5L302.0 310.2L301.1 308.9M302.9 314.5L302.0 315.7M302.8 315.7L301.8 316.8L300.6 316.8L299.7 317.2M303.2 315.8L302.5 314.8L302.1 314.1M303.2 315.5L302.7 316.7L303.3 318.2L303.0 318.6M301.0 315.1L301.2 316.2L301.9 317.5L303.0 317.7M302.0 313.4L302.3 312.7L304.0 312.3M302.1 315.7L301.4 314.7M300.7 318.7L299.3 317.9M300.3 321.9L299.4 321.4M299.0 320.5L298.2 320.1L297.9 318.8M299.8 318.2L299.3 317.9M298.9 321.2L297.7 320.8M298.4 318.8L297.1 319.8L296.1 320.0M298.7 322.1L298.1 322.9L296.5 322.8L295.7 321.8M300.0 322.1L299.2 322.5M299.6 323.6L299.9 325.3L299.6 326.6M297.5 323.2L297.7 324.2L298.0 325.4M297.0 323.2L297.6 323.7L297.5 325.3M299.5 324.5L298.8 325.0M297.7 324.8L297.8 325.7L297.6 326.7L298.1 327.4M297.7 328.2L297.0 328.0L296.1 327.9M300.7 326.6L299.0 327.0M297.8 329.7L297.0 329.6M300.4 328.3L300.4 329.9L300.0 330.9L300.2 332.2M299.4 329.2L299.8 330.5L300.5 331.7L300.7 332.7M297.5 331.0L296.0 330.0L295.3 329.7L294.1 329.2M300.5 328.7L298.9 329.2" fill="none" stroke="#666" stroke-width="0.8" stroke-linecap="round" stroke-linejoin="round"/><path d="M292.5 288.9L291.6 289.3L291.5 290.0M293.1 291.1L292.8 291.5L292.1 292.3M289.6 290.0L290.7 291.1L291.9 292.0L292.1 293.7M292.8 290.5L292.5 291.1L292.1 292.2M289.3 289.8L290.5 290.1L291.6 290.9L292.3 290.9M291.8 290.4L292.4 290.0L292.8 288.8L292.7 287.6M290.7 290.9L291.0 292.6M297.2 290.4L297.0 291.1M296.4 290.6L295.6 291.7L295.9 293.0M293.7 290.7L293.2 291.6L293.5 293.3M293.5 290.8L294.4 290.8L294.8 291.4L295.5 291.6M293.5 290.8L294.3 290.9L294.7 291.3L295.0 292.1M296.8 290.7L296.5 291.5M294.6 289.5L295.2 289.3L296.1 288.3L296.4 287.6M297.3 288.6L296.4 289.2L296.2 290.9L295.9 292.0M300.2 285.4L300.5 284.3L301.0 284.1L302.7 284.3M298.9 286.4L298.5 286.9L298.7 288.1M299.0 288.8L299.8 290.2M298.3 289.0L298.7 290.1M300.1 287.1L299.5 287.1M298.3 289.3L299.7 290.4L299.9 291.1M298.9 289.0L300.6 289.0L301.2 288.8L302.1 288.3" fill="none" stroke="#666" stroke-width="0.8" stroke-linecap="round" stroke-linejoin="round"/><path d="M318.6 310.5L319.4 311.6L320.2 312.2L321.6 311.8M320.2 310.0L321.5 310.2M315.7 310.4L316.6 310.5M319.3 310.1L319.0 310.6L319.0 311.2M318.3 309.2L318.6 309.9M315.5 311.4L316.0 312.7L315.7 313.2M318.3 308.3L317.2 308.2L316.7 308.4M322.8 309.9L323.6 310.3L324.3 310.2L325.2 310.0M323.3 309.4L324.2 309.7L324.8 309.4L325.5 309.3M323.3 308.4L323.1 309.9M323.3 308.9L323.7 309.4M321.1 310.0L320.5 311.5L321.3 312.7M320.5 309.1L319.9 310.2L319.9 311.4M326.5 310.7L325.8 310.7L324.5 310.5L323.6 311.3M322.5 309.8L323.6 309.9L324.8 310.0L326.0 310.5M321.4 309.7L322.7 309.9L324.2 310.3M327.5 309.3L327.0 309.0L326.6 307.5L326.3 306.4M329.2 313.5L328.6 313.3L327.8 312.9M327.6 311.9L327.6 311.0L328.1 310.5L329.4 309.9M328.7 311.1L329.0 311.8L329.9 312.2L330.8 313.2M327.7 312.5L327.7 313.7M327.7 312.1L327.3 311.6L326.3 311.0M328.3 309.7L328.0 310.4L328.1 311.0M331.0 315.2L330.9 315.8L329.8 316.6M330.2 318.7L329.8 318.0M328.7 317.4L327.9 316.2M328.9 318.4L327.5 318.3L326.5 317.1L326.3 316.5M329.4 320.0L329.1 319.6L328.3 319.4L327.4 319.9M329.2 319.7L328.7 318.8L329.5 317.4L330.7 317.3M328.9 314.2L327.5 314.5L327.0 314.0M329.2 316.0L329.0 315.3M328.1 321.7L327.4 322.1L327.2 322.6M327.4 324.4L326.8 323.5M327.1 324.7L326.3 324.9M327.6 324.0L326.7 323.3L326.1 323.2M328.2 320.4L328.2 319.3L328.6 318.5L329.4 318.4M327.5 321.2L326.9 322.5L327.1 323.8M329.3 321.2L328.6 319.9L328.4 318.5L328.4 317.0M323.4 327.9L321.9 328.0M322.7 329.7L321.3 330.4L319.8 329.9M323.2 328.3L322.6 328.0L321.8 327.4M324.6 325.0L324.6 323.8L324.2 322.9M325.1 327.3L324.8 326.6L325.2 325.5L325.4 324.6M325.6 326.7L324.7 327.2L324.0 327.6L323.9 328.9M323.6 326.9L322.6 326.1M320.6 328.8L321.4 327.7L322.7 327.3L323.4 326.2M316.5 326.2L317.6 325.6M318.4 327.3L317.3 327.3M316.5 326.0L316.1 325.4L316.0 324.6M320.6 329.4L319.8 329.1M318.6 326.6L318.3 325.9L318.2 324.9M318.2 328.1L318.1 327.5M322.0 327.8L321.3 328.0L320.1 328.0L319.2 327.8M314.5 321.3L316.0 321.9M314.7 323.1L315.5 322.9L316.2 321.8M315.6 323.1L315.7 323.6L315.3 324.5M314.8 323.7L315.2 324.3L315.3 325.2L315.3 325.7M315.2 322.2L315.9 321.3M315.0 325.7L314.4 325.1M315.3 326.8L315.8 326.6M316.6 323.0L317.8 322.2M315.3 320.5L315.8 320.3L316.3 320.1M314.9 313.9L315.6 313.4L316.2 312.4M313.7 313.1L314.2 314.0L315.6 314.1L316.7 314.4M315.4 317.6L315.8 318.3M315.5 316.8L316.5 317.7M313.7 313.9L314.5 313.7M314.1 316.5L314.4 316.0L314.5 315.2L315.8 314.3M314.5 312.7L315.2 311.3M313.9 313.0L315.4 312.7M316.0 318.6L316.3 318.1L315.9 316.6M315.9 314.0L316.1 313.2L316.0 312.5L316.4 312.1M316.4 311.4L317.8 311.8" fill="none" stroke="#666" stroke-width="0.7" stroke-linecap="round" stroke-linejoin="round"/><path d="M305.4 316.9L304.9 317.7L304.9 318.5M305.3 318.7L304.7 318.7M306.0 317.6L306.3 318.3L306.9 319.2L307.9 319.4M306.2 318.6L306.4 319.0M302.9 318.1L303.6 318.6L303.7 319.1L304.3 319.7M306.9 317.7L307.8 317.8L308.6 317.5L309.3 317.0M310.5 318.7L310.9 319.9L311.4 320.5M310.1 317.9L310.9 318.3L311.3 319.6L311.1 320.6M308.6 317.9L307.6 317.5M307.9 318.0L308.8 318.3L309.5 319.3M306.6 317.9L306.2 318.9L306.1 319.6M310.7 323.9L310.2 323.6L310.1 323.0M311.8 320.2L311.8 320.9L312.4 321.8L313.0 322.2M311.1 320.1L310.8 319.7L309.6 319.8L308.8 320.3M311.4 324.3L310.5 324.4M311.9 321.9L311.1 322.6L310.5 323.4M310.5 320.5L310.7 321.0L311.9 321.5L313.1 321.9M310.4 320.1L310.0 320.4L309.8 321.0M310.7 326.4L311.1 326.0L311.2 325.5M309.5 327.7L308.5 327.8L308.0 328.8L307.0 329.4M309.2 327.2L308.0 327.6L307.1 327.5M309.1 329.3L308.2 329.4M311.3 326.9L311.1 325.6L310.9 324.9M310.4 325.2L310.5 324.3L310.4 323.6M307.0 328.6L306.4 327.4L306.7 326.9M308.6 329.1L309.1 329.2L309.7 329.4M309.0 329.8L309.7 329.1M306.6 328.6L307.0 327.6M307.7 330.4L306.6 330.7L306.1 330.8M307.9 329.9L307.6 329.4L307.3 328.9M308.1 330.0L307.3 330.0M303.0 324.6L304.4 324.9L305.2 325.1M303.0 324.4L303.3 323.6M303.3 327.6L304.1 327.8L304.8 327.7M301.6 324.8L302.4 324.2M301.8 327.0L302.6 327.2L303.6 328.0M302.2 327.5L303.0 327.4L303.3 326.9L304.1 325.9M301.3 321.5L301.4 321.0L301.2 320.5L300.0 320.1M301.2 322.1L301.7 322.4L302.9 322.4L303.5 322.0M302.6 321.0L303.6 320.9L304.3 320.0M302.4 322.8L302.8 323.4L302.7 324.0L303.2 324.5M301.3 320.8L301.8 321.4L303.0 322.0M301.0 319.7L301.7 318.7L301.9 317.4L302.0 316.3" fill="none" stroke="#666" stroke-width="0.7" stroke-linecap="round" stroke-linejoin="round"/><path d="M415.9 254.8L416.5 254.7L416.9 254.2L418.3 254.1M420.2 252.0L421.2 252.7L422.1 253.2L422.9 254.0M415.1 253.5L415.0 254.2L415.0 254.8L414.8 255.7M416.2 253.0L416.6 253.4L416.4 254.2M417.0 252.6L417.9 253.2M417.5 252.7L418.7 253.3L419.6 254.1L420.7 254.6M415.2 253.0L415.3 253.8L416.1 254.3M417.7 253.0L418.3 253.6L419.0 254.1L419.8 255.0M415.2 253.4L414.6 254.1L414.1 255.4M415.0 253.8L415.2 254.8L414.6 255.5M425.6 251.7L425.1 252.2M428.0 252.3L428.8 253.5L429.3 254.5M422.8 251.9L421.9 252.0L420.7 252.7M426.7 251.4L425.8 251.8L425.2 251.5M424.0 251.8L424.8 252.5L424.6 253.8M421.4 252.5L422.6 252.1M426.0 252.7L424.8 252.7L424.1 253.6M425.6 251.4L424.9 252.1M421.6 251.5L420.6 251.7M426.6 251.8L427.0 252.9L427.4 254.0L427.7 254.8M426.7 256.3L426.6 255.3L426.6 254.1M427.2 252.4L426.5 252.2M425.8 255.7L425.3 255.2L424.1 255.2L423.4 256.0M426.5 257.0L425.9 256.8L425.0 257.3M426.6 255.6L425.3 255.8L424.3 254.9L423.6 253.9M426.9 257.4L426.4 257.7L426.1 258.4L425.8 259.3M426.9 254.2L426.5 252.9L426.6 251.9L426.0 250.5M425.5 256.0L424.4 255.9M428.6 253.6L428.0 252.6L426.7 252.4L425.7 251.5M420.0 261.1L418.8 261.1L418.2 261.9L417.7 262.6M424.4 258.8L424.4 257.9L424.0 257.6L423.7 256.8M420.3 262.3L420.6 261.6L420.2 260.9M421.0 260.7L420.1 259.5M424.6 259.7L424.0 259.6M423.8 258.7L423.6 257.8L424.1 256.9M420.6 260.5L420.0 259.8L419.4 259.6M422.7 259.7L422.0 259.2M424.8 259.0L425.6 258.8L426.3 258.9L427.0 259.4M422.3 259.3L422.4 258.6M420.9 261.1L420.3 259.9L419.6 258.8L419.0 258.2M416.5 264.2L416.8 263.5M418.2 263.3L417.2 263.0L416.6 262.7L416.0 262.8M417.8 264.4L418.4 263.0M417.8 263.4L417.9 262.0L418.2 261.4L418.4 260.6M419.2 263.3L418.7 262.1L419.3 261.2L419.9 260.8M417.4 263.7L416.1 264.1L415.2 264.1L414.4 264.3M419.0 262.2L418.6 261.7M418.8 263.2L418.7 262.1M414.6 261.7L415.2 262.2M415.5 260.3L415.4 259.2M415.4 264.3L415.6 263.8L415.1 262.8M416.3 263.6L416.8 263.0L417.6 262.3L418.4 261.2M416.5 264.3L416.3 263.8L415.9 263.2M415.3 260.0L415.4 261.4M414.9 260.4L416.1 260.6L417.4 260.1M416.2 264.4L416.0 265.3L415.1 265.7M415.4 258.2L415.8 257.8L417.2 257.4M415.2 259.9L416.6 260.4M415.8 255.2L416.5 255.6L416.9 256.0M415.8 257.1L416.4 257.4M415.3 257.4L415.3 258.9L414.7 259.9M415.6 259.2L416.0 260.6L415.5 261.6M414.5 259.0L415.0 257.7L415.5 257.2M414.5 260.0L415.3 261.0M415.1 254.6L415.8 255.0L416.3 255.2" fill="none" stroke="#666" stroke-width="0.8" stroke-linecap="round" stroke-linejoin="round"/><path d="M422.9 245.9L423.5 246.7L423.3 247.8L424.0 248.7M419.3 246.2L418.9 246.8M422.7 246.0L422.4 246.8M418.7 246.1L419.8 246.4M418.3 247.2L418.9 247.3M418.5 247.0L419.1 247.9L419.2 248.4M420.4 245.5L420.5 246.6L420.6 247.4L420.7 248.4M421.4 246.5L421.8 247.3L422.6 247.4M424.4 247.6L423.9 247.1M423.7 247.7L423.2 248.9L422.7 249.6L421.9 250.0M424.4 247.9L423.3 247.9M423.7 245.8L423.1 246.7L422.7 247.1L421.8 247.3M423.7 245.7L422.6 246.2L421.4 245.7L420.7 244.6M425.4 248.9L424.9 249.2M423.6 249.7L424.8 249.0L425.8 248.2L426.5 248.0M423.7 248.8L422.4 248.5L421.9 248.7L421.0 248.3M423.7 249.5L422.4 249.2L421.2 248.9L420.4 248.0M421.1 251.1L421.1 250.2M423.3 249.0L422.6 249.2L421.4 249.4L420.8 250.7M425.3 249.9L424.7 250.0L424.2 249.6L423.9 248.2M420.7 250.6L420.9 249.6L421.5 249.0M421.5 251.7L420.6 252.1L419.5 251.6L418.8 251.5M422.4 249.4L422.3 249.0L422.6 248.2L422.1 247.0M418.4 248.5L418.9 248.9M420.2 251.3L421.1 251.4L422.3 251.0M419.3 249.2L419.1 248.2M417.8 248.8L418.9 249.1L419.6 249.0L420.2 248.8M418.4 249.2L418.8 248.4L419.2 247.3M419.4 249.0L420.7 249.0L421.1 249.6L421.7 249.8M420.0 250.2L420.0 249.4M419.3 250.0L419.8 249.3L420.3 248.0" fill="none" stroke="#666" stroke-width="0.8" stroke-linecap="round" stroke-linejoin="round"/><path d="M52.2 511.9L52.9 511.2L53.9 511.3L54.5 512.0M56.4 507.6L55.8 509.1L54.9 510.1M55.9 509.3L56.1 509.9L57.1 511.2L57.1 512.7M54.3 509.1L54.8 509.6L54.5 511.0L54.5 511.8M54.7 510.4L55.5 510.4L56.1 510.3M54.7 510.2L55.6 510.3L56.3 510.5M54.0 509.2L55.2 508.6L55.3 507.3L54.8 506.3M51.4 510.8L51.6 512.0L51.3 512.7M69.2 503.3L70.3 504.1M71.0 504.3L72.1 504.5M62.6 505.5L63.4 506.0L64.2 507.2M58.7 508.8L60.0 509.4M69.2 503.5L68.7 504.6L68.9 505.9L69.1 506.8M62.9 506.1L63.7 506.6L64.9 507.7L64.9 508.8M59.0 506.3L59.0 507.6M58.6 509.0L57.7 509.9M67.8 505.5L68.4 506.1M68.2 504.0L68.5 505.1L69.7 505.5M62.0 507.3L60.7 507.8L59.4 507.0L58.8 506.6M66.5 505.8L67.7 505.3L68.2 504.0L69.1 503.4M65.0 505.7L65.0 507.2L64.4 507.8M70.5 503.5L70.1 504.1M61.1 506.2L61.2 507.0L61.4 508.6L60.9 509.5M72.7 505.7L73.8 506.3L74.6 506.3L75.6 506.4M73.7 506.5L73.6 507.7L73.7 509.0M73.1 505.5L71.5 505.7M72.4 503.5L72.8 504.7L73.3 505.3M72.2 503.3L71.8 504.8L70.9 506.0L70.4 506.6M76.4 507.2L76.8 508.3L77.9 509.1M76.9 507.2L76.0 507.2L75.1 507.2L74.6 507.6M75.1 506.0L73.9 506.1L72.7 505.7L72.2 505.4M73.2 504.3L72.2 504.7" fill="none" stroke="#666" stroke-width="0.7" stroke-linecap="round" stroke-linejoin="round"/><path d="M51.1 515.0L52.0 514.6M51.3 513.7L51.2 514.6L50.7 515.0M51.9 514.5L52.6 513.5L52.2 512.2L52.5 511.4M51.4 512.7L52.5 512.0L53.2 512.2L53.8 512.3M51.2 515.8L51.7 515.6L52.9 515.2M53.2 513.2L53.5 514.0L54.7 514.8L55.4 515.6M51.0 515.3L51.0 516.1L51.1 516.9M52.8 514.5L53.8 514.3M50.7 511.8L50.7 511.2M53.2 511.9L53.9 513.0L54.2 513.8L55.6 514.3M55.3 524.9L55.9 523.8M51.6 520.6L52.9 521.1L53.4 521.6M51.0 517.9L51.8 518.4M53.6 524.1L54.4 525.4L55.5 526.6M53.3 523.4L54.0 523.3L55.2 523.8M52.5 523.9L52.5 525.4M51.6 520.7L52.5 521.1M53.2 519.1L54.3 519.8M51.8 522.1L52.1 521.2L51.4 520.2L51.3 519.1M53.9 521.1L54.5 521.2M51.7 518.5L52.8 518.9M52.3 521.0L53.5 520.7M55.2 524.6L54.8 524.2L54.1 522.9M51.7 520.3L52.2 519.8L52.4 519.1" fill="none" stroke="#666" stroke-width="0.7" stroke-linecap="round" stroke-linejoin="round"/><path d="M126.0 429.8L125.7 430.6M124.9 429.2L123.9 430.0L122.9 430.8M128.1 427.9L127.6 428.2L126.2 428.3L125.8 428.6M128.3 428.5L127.4 429.3L126.2 429.2M127.8 429.4L127.9 430.6L128.2 431.6L128.9 432.4M135.6 427.2L136.9 427.3L137.7 428.6L138.4 429.2M131.8 428.4L131.8 429.0L131.8 429.7M132.4 427.9L132.4 428.7L132.0 429.1L131.2 429.1M133.6 427.9L132.8 429.0M129.9 428.2L130.7 428.3L132.1 427.8M131.6 428.3L132.4 427.7L133.8 427.5M130.6 429.0L131.2 428.9L132.0 429.2L132.2 429.7M136.6 426.9L137.9 426.5L138.5 425.9L138.3 424.9M141.7 427.6L142.4 427.4M137.8 428.0L138.2 429.1M140.5 427.0L140.1 428.2L140.4 429.1M141.3 425.8L140.3 425.7L139.7 426.5M137.4 426.5L138.2 427.0L138.5 427.9L137.8 429.1M141.6 426.9L142.1 428.1L142.2 429.5L141.5 430.4M138.0 428.1L138.5 429.1L139.2 430.0L138.9 431.0M146.0 426.3L146.4 427.0M147.7 427.3L149.1 427.5L149.5 428.0M148.4 425.8L148.5 426.9L148.2 428.3M146.7 426.5L146.3 427.2L145.9 427.6M147.0 427.7L148.0 427.9M146.5 426.5L145.7 427.5L144.9 427.8M143.7 427.5L143.9 428.3L143.8 429.0L144.1 429.5M150.3 426.2L149.6 427.4L149.3 427.7L148.7 428.5M150.1 428.4L149.7 429.0L149.3 430.0M151.2 429.5L150.8 430.9M151.1 429.1L150.0 428.2L148.6 428.3L147.9 427.8" fill="none" stroke="#666" stroke-width="0.7" stroke-linecap="round" stroke-linejoin="round"/><path d="M128.2 436.6L128.1 435.8L128.9 434.7M131.4 438.5L130.3 438.2L129.9 437.3M129.8 439.3L130.1 438.2L130.5 437.9L131.8 437.1M128.0 435.1L127.9 434.5M128.0 436.0L128.4 434.7M130.4 436.7L130.6 436.2L130.8 435.6M126.9 435.1L126.6 434.1L126.1 433.0M135.0 441.2L136.4 441.3L137.0 442.2M135.8 443.0L135.5 441.7L134.7 440.9L134.4 440.5M134.4 443.2L135.5 443.9M136.5 444.2L136.1 442.9L135.1 442.2M134.3 439.8L135.0 439.6L135.6 439.2L136.2 439.1M133.3 441.2L134.0 441.2L134.7 441.4L135.1 441.7M137.8 444.2L138.1 443.5L137.7 442.4M132.8 441.9L133.3 441.4M138.9 444.8L139.9 444.3L140.9 443.9L141.5 443.4M143.3 448.0L144.0 448.5L144.8 449.2M139.4 444.9L139.4 443.9L138.5 443.3L137.9 442.9M144.5 448.4L144.9 448.1L145.2 446.9L144.9 446.3M145.1 449.5L146.5 449.6L147.6 449.8L148.5 449.0M144.8 447.4L145.1 446.7M145.6 448.7L146.1 447.8L146.8 446.8M143.0 447.3L144.1 446.7M143.7 448.6L144.3 448.5M140.0 445.3L141.4 445.1M140.1 446.5L139.4 446.4M151.8 453.3L153.1 453.9L153.8 455.0M150.8 453.3L152.1 452.9L152.5 452.6L153.7 452.3M147.1 449.8L147.4 448.6L147.6 447.6L147.2 446.4M148.1 450.6L149.2 450.3L149.7 449.9M151.4 453.8L151.7 453.0L152.3 452.9L153.2 452.7M146.9 450.9L145.6 450.9L145.0 450.9M148.2 451.6L148.1 450.6M152.5 452.8L153.3 452.9M154.9 457.9L155.9 457.9M155.1 458.8L155.7 459.4L156.7 459.3L157.7 459.9M153.9 454.1L153.2 453.3L152.5 452.1L151.2 451.7M153.8 455.9L154.1 455.2L155.3 454.7M153.6 455.2L154.1 455.2M153.0 457.4L153.8 457.6L154.8 457.5" fill="none" stroke="#666" stroke-width="0.7" stroke-linecap="round" stroke-linejoin="round"/><path d="M326.5 258.1L327.1 258.8L327.8 258.7M328.3 253.7L327.6 254.3L326.8 254.5M335.4 249.0L336.3 249.3L336.9 250.0L337.4 250.4" fill="none" stroke="#666" stroke-width="0.7" stroke-linecap="round" stroke-linejoin="round"/><path d="M389.4 222.7L388.6 222.5M388.3 223.1L388.9 224.5M386.3 223.7L387.7 223.9L388.3 225.0L388.5 226.3M387.3 224.4L387.9 224.9L388.9 225.2M389.6 223.0L390.8 223.1L391.7 222.5M386.2 225.2L386.8 225.0M387.9 225.6L387.0 226.3M389.4 223.2L390.2 223.8L391.2 223.5L391.7 223.7M390.2 224.2L390.3 225.0L390.4 225.8L390.2 226.5M387.8 224.8L388.0 226.4L386.9 227.5M388.6 225.1L389.7 226.3M392.7 224.8L392.0 224.8L391.6 224.5L390.3 224.0M392.5 223.8L393.8 224.2L394.3 224.8L394.4 225.5M393.7 226.4L393.7 228.0L393.8 228.8L393.1 229.3M392.6 224.0L391.8 224.0L391.2 224.7L389.6 224.6M390.2 225.2L390.9 226.3L391.4 226.7M392.0 226.5L392.0 227.6L392.6 228.9L393.8 229.5M391.5 225.7L390.4 225.0L390.1 224.5M390.4 224.3L389.3 224.8M390.2 223.2L390.3 224.8M390.9 225.0L390.9 225.8L390.6 226.9L391.0 228.1M390.2 224.6L388.6 225.1L388.1 224.9M393.7 225.9L392.5 225.1L392.0 223.6M394.9 226.8L393.6 227.4L393.1 228.1L393.0 228.6M394.1 227.7L394.1 228.8L393.6 230.3L393.1 230.5M393.5 226.9L392.1 226.9L391.0 227.2L389.8 227.0M394.7 229.5L394.9 228.7L394.4 227.8L393.4 227.4M394.7 229.0L394.0 228.7L392.6 228.5M394.6 227.8L394.1 229.0L393.3 230.1M394.5 226.4L394.1 225.4L393.3 224.9M392.5 230.3L391.2 230.5M394.2 228.5L393.8 229.5M393.9 228.2L393.5 229.6M394.1 227.7L393.5 227.7L392.4 227.8L391.6 227.0M391.8 229.7L391.0 228.7L391.0 227.8M392.2 229.6L392.0 230.1M391.3 231.0L391.6 229.9L391.7 229.3L392.8 228.8M388.7 231.4L389.5 231.0L390.2 231.4M389.2 230.8L389.9 230.9L390.4 230.7L390.8 229.8M388.4 232.5L388.4 231.0L388.1 229.7L387.9 228.8M390.7 231.1L390.4 230.5L389.6 230.0M391.1 231.1L390.2 230.0M392.1 230.1L390.7 230.0M390.1 229.8L389.5 230.0L388.5 231.1L388.4 231.7M389.7 232.4L390.0 231.7L390.7 231.3M392.4 229.8L391.0 229.7L390.0 230.1L389.2 230.4M392.8 232.5L392.0 232.4M388.2 230.2L387.2 230.2M389.0 232.9L390.1 232.1L390.8 231.6L391.2 231.7M387.2 231.0L388.0 231.5L389.3 232.1M388.4 229.5L389.0 230.1L389.6 231.3L390.3 231.9M389.2 231.1L389.6 230.4M386.3 228.8L386.9 228.4M385.9 227.4L386.1 226.6M386.7 230.6L387.4 230.1L387.8 228.9M385.2 225.5L386.1 225.2M387.4 231.5L388.3 232.7L389.4 233.2M386.9 226.7L387.2 225.6M387.1 228.9L386.0 228.0L385.3 226.9L383.9 226.3M387.0 229.7L387.9 230.2L388.4 229.9L389.3 229.2M388.4 229.0L387.7 227.7L386.8 226.9M386.3 224.9L387.4 225.0L388.5 224.4M386.2 225.8L386.2 226.7M386.4 229.0L387.4 227.9L387.8 226.9L387.5 226.5M386.0 226.8L387.0 226.5M387.8 226.8L388.5 227.8L389.2 229.0L390.1 230.0M387.0 226.6L387.3 225.7L387.9 225.3L388.6 224.8" fill="none" stroke="#5f5f5f" stroke-width="0.9" stroke-linecap="round" stroke-linejoin="round"/><polygon points="325,266 328,258 331,254.5 330.5,250 335,249 340.5,249 341.7,254 340,259 336.5,262 333,263.5 330.5,264 327,268" fill="none" stroke="#5f5f5f" stroke-width="1.3" stroke-linejoin="round"/><polygon points="348.5,257.5 350.3,261.5 348.5,266 346.5,272 344.5,277.5 342.6,276 343.8,269 346,262" fill="none" stroke="#666" stroke-width="0.9" stroke-linejoin="round"/><path d="M453.2 185.4L452.1 186.7L450.3 188.1L449.0 189.2L448.7 191.1M459.9 185.6L459.7 186.4L458.4 186.8M448.3 192.9L450.4 192.7L451.3 193.4L452.7 195.2L454.4 196.5M457.4 191.3L457.3 190.5L456.4 190.0M469.2 182.0L467.4 180.7L466.3 179.6L465.4 179.0M455.4 197.3L455.8 199.1L457.7 200.3L457.5 202.6M460.5 190.8L461.1 191.4L462.5 192.6L463.5 193.4L465.6 192.6M448.4 181.7L448.5 183.4L450.3 184.2M455.3 196.2L455.8 195.7L455.5 195.0L454.8 192.7L455.7 191.9M453.8 190.1L455.8 188.8L457.1 189.2L458.6 189.7M462.2 187.1L462.0 184.9L461.0 183.4L460.8 181.1L460.5 180.0M454.7 178.8L454.4 177.6L454.4 176.7L454.8 175.5L454.8 173.2M461.4 176.9L460.6 178.6L459.5 178.6L457.8 178.8L456.7 179.5M454.9 179.8L454.7 179.0L455.8 176.9L456.4 176.3M459.0 188.9L459.8 190.1L460.0 190.9L460.6 191.9M466.3 182.0L465.7 180.1L464.2 179.3M454.0 193.2L456.1 192.7L458.3 192.6M455.5 194.5L456.3 194.6L458.3 193.9L459.1 193.0L459.8 191.7M457.0 197.5L458.3 199.2L458.9 200.7M460.3 199.5L461.1 197.5L462.2 196.4M454.4 178.9L452.8 180.8L453.0 181.8M448.8 193.7L447.6 191.7L447.4 191.1" fill="none" stroke="#666" stroke-width="1.6" stroke-linecap="round" stroke-linejoin="round"/><path d="M431.3 171.8L431.3 172.5L431.3 173.8M441.9 170.2L440.9 170.6L440.7 171.7L438.2 172.5M439.3 197.6L441.3 199.4L440.7 201.9L440.8 204.5M432.7 182.4L432.8 183.2L430.6 184.7M435.7 179.1L437.0 179.0L437.9 179.6L439.1 180.0L440.2 180.3M431.6 197.5L432.5 198.4L433.6 199.8L436.2 201.3M430.7 183.3L431.2 184.2L432.3 185.9L432.6 186.9L434.3 188.9M437.9 178.3L435.3 179.3L434.9 179.9M433.0 171.1L435.7 172.0L436.6 171.1L439.0 171.8M433.7 202.9L432.7 202.6L431.8 202.5" fill="none" stroke="#6a6a6a" stroke-width="1.0" stroke-linecap="round" stroke-linejoin="round"/><path d="M467.4 152.1L468.4 151.4L467.9 148.9M454.4 158.9L453.6 161.1L453.8 162.3M455.7 160.6L456.0 157.8L456.2 156.6L456.2 155.0M453.3 157.6L452.7 159.8L452.4 162.3L451.8 162.8L449.4 161.8M455.1 157.3L455.1 156.7L455.2 155.7L457.3 154.0L457.8 153.4M463.6 161.2L464.3 163.0L464.5 163.7L465.3 164.4L466.0 165.8" fill="none" stroke="#6a6a6a" stroke-width="1.0" stroke-linecap="round" stroke-linejoin="round"/><ellipse cx="476.0" cy="129.6" rx="2.3" ry="0.6" transform="rotate(84 476.0 129.6)" fill="#d9f0fe" stroke="#707070" stroke-width="0.6"/><ellipse cx="462.7" cy="92.8" rx="1.2" ry="0.7" transform="rotate(165 462.7 92.8)" fill="#d9f0fe" stroke="#707070" stroke-width="0.6"/><ellipse cx="469.6" cy="101.3" rx="2.2" ry="0.6" transform="rotate(111 469.6 101.3)" fill="#d9f0fe" stroke="#707070" stroke-width="0.6"/><ellipse cx="446.6" cy="92.1" rx="2.3" ry="0.6" transform="rotate(39 446.6 92.1)" fill="#d9f0fe" stroke="#707070" stroke-width="0.6"/><ellipse cx="477.4" cy="142.6" rx="1.3" ry="1.2" transform="rotate(97 477.4 142.6)" fill="#d9f0fe" stroke="#707070" stroke-width="0.6"/><ellipse cx="466.4" cy="103.9" rx="2.4" ry="1.0" transform="rotate(174 466.4 103.9)" fill="#d9f0fe" stroke="#707070" stroke-width="0.6"/><ellipse cx="474.2" cy="109.3" rx="1.4" ry="0.6" transform="rotate(26 474.2 109.3)" fill="#d9f0fe" stroke="#707070" stroke-width="0.6"/><ellipse cx="463.7" cy="92.2" rx="2.0" ry="0.7" transform="rotate(56 463.7 92.2)" fill="#d9f0fe" stroke="#707070" stroke-width="0.6"/><ellipse cx="471.5" cy="119.9" rx="1.3" ry="0.8" transform="rotate(127 471.5 119.9)" fill="#d9f0fe" stroke="#707070" stroke-width="0.6"/><ellipse cx="472.4" cy="93.0" rx="2.1" ry="0.8" transform="rotate(104 472.4 93.0)" fill="#d9f0fe" stroke="#707070" stroke-width="0.6"/><ellipse cx="475.5" cy="146.6" rx="1.4" ry="0.7" transform="rotate(94 475.5 146.6)" fill="#d9f0fe" stroke="#707070" stroke-width="0.6"/><ellipse cx="469.9" cy="98.3" rx="2.1" ry="1.1" transform="rotate(155 469.9 98.3)" fill="#d9f0fe" stroke="#707070" stroke-width="0.6"/><ellipse cx="461.6" cy="110.1" rx="1.3" ry="0.6" transform="rotate(14 461.6 110.1)" fill="#d9f0fe" stroke="#707070" stroke-width="0.6"/><ellipse cx="477.9" cy="101.4" rx="0.9" ry="1.2" transform="rotate(96 477.9 101.4)" fill="#d9f0fe" stroke="#707070" stroke-width="0.6"/><ellipse cx="456.6" cy="105.8" rx="1.8" ry="1.1" transform="rotate(82 456.6 105.8)" fill="#d9f0fe" stroke="#707070" stroke-width="0.6"/><ellipse cx="457.2" cy="95.2" rx="2.4" ry="0.5" transform="rotate(89 457.2 95.2)" fill="#d9f0fe" stroke="#707070" stroke-width="0.6"/><ellipse cx="472.2" cy="99.6" rx="2.0" ry="1.2" transform="rotate(113 472.2 99.6)" fill="#d9f0fe" stroke="#707070" stroke-width="0.6"/><ellipse cx="470.4" cy="98.2" rx="1.5" ry="0.6" transform="rotate(152 470.4 98.2)" fill="#d9f0fe" stroke="#707070" stroke-width="0.6"/><ellipse cx="478.0" cy="141.4" rx="2.5" ry="0.8" transform="rotate(88 478.0 141.4)" fill="#d9f0fe" stroke="#707070" stroke-width="0.6"/><ellipse cx="468.3" cy="119.8" rx="1.3" ry="0.8" transform="rotate(26 468.3 119.8)" fill="#d9f0fe" stroke="#707070" stroke-width="0.6"/><ellipse cx="476.6" cy="128.4" rx="1.6" ry="0.7" transform="rotate(16 476.6 128.4)" fill="#d9f0fe" stroke="#707070" stroke-width="0.6"/><ellipse cx="473.2" cy="113.0" rx="2.1" ry="1.0" transform="rotate(125 473.2 113.0)" fill="#d9f0fe" stroke="#707070" stroke-width="0.6"/><ellipse cx="488.8" cy="141.8" rx="1.5" ry="0.8" transform="rotate(74 488.8 141.8)" fill="#d9f0fe" stroke="#707070" stroke-width="0.6"/><ellipse cx="497.7" cy="134.1" rx="1.9" ry="0.5" transform="rotate(54 497.7 134.1)" fill="#d9f0fe" stroke="#707070" stroke-width="0.6"/><ellipse cx="488.1" cy="130.0" rx="2.1" ry="0.7" transform="rotate(142 488.1 130.0)" fill="#d9f0fe" stroke="#707070" stroke-width="0.6"/><ellipse cx="506.7" cy="133.9" rx="2.3" ry="1.1" transform="rotate(120 506.7 133.9)" fill="#d9f0fe" stroke="#707070" stroke-width="0.6"/><ellipse cx="478.8" cy="141.0" rx="1.9" ry="0.7" transform="rotate(40 478.8 141.0)" fill="#d9f0fe" stroke="#707070" stroke-width="0.6"/><ellipse cx="487.3" cy="134.0" rx="2.1" ry="0.7" transform="rotate(76 487.3 134.0)" fill="#d9f0fe" stroke="#707070" stroke-width="0.6"/><ellipse cx="497.3" cy="158.2" rx="1.3" ry="0.5" transform="rotate(175 497.3 158.2)" fill="#d9f0fe" stroke="#707070" stroke-width="0.6"/><ellipse cx="503.0" cy="152.7" rx="1.7" ry="0.7" transform="rotate(28 503.0 152.7)" fill="#d9f0fe" stroke="#707070" stroke-width="0.6"/><ellipse cx="487.1" cy="141.1" rx="0.9" ry="1.0" transform="rotate(131 487.1 141.1)" fill="#d9f0fe" stroke="#707070" stroke-width="0.6"/><ellipse cx="478.4" cy="154.5" rx="1.6" ry="1.1" transform="rotate(86 478.4 154.5)" fill="#d9f0fe" stroke="#707070" stroke-width="0.6"/><ellipse cx="511.3" cy="266.9" rx="1.5" ry="0.7" transform="rotate(138 511.3 266.9)" fill="#d9f0fe" stroke="#707070" stroke-width="0.6"/><ellipse cx="522.3" cy="257.0" rx="0.9" ry="0.5" transform="rotate(69 522.3 257.0)" fill="#d9f0fe" stroke="#707070" stroke-width="0.6"/><ellipse cx="524.8" cy="229.2" rx="1.2" ry="0.7" transform="rotate(152 524.8 229.2)" fill="#d9f0fe" stroke="#707070" stroke-width="0.6"/><ellipse cx="536.7" cy="239.3" rx="1.5" ry="0.5" transform="rotate(146 536.7 239.3)" fill="#d9f0fe" stroke="#707070" stroke-width="0.6"/><ellipse cx="532.5" cy="222.3" rx="1.3" ry="0.9" transform="rotate(172 532.5 222.3)" fill="#d9f0fe" stroke="#707070" stroke-width="0.6"/><ellipse cx="492.6" cy="248.7" rx="1.4" ry="0.9" transform="rotate(56 492.6 248.7)" fill="#d9f0fe" stroke="#707070" stroke-width="0.6"/><ellipse cx="484.9" cy="275.9" rx="1.1" ry="1.2" transform="rotate(25 484.9 275.9)" fill="#d9f0fe" stroke="#707070" stroke-width="0.6"/><ellipse cx="528.7" cy="267.3" rx="1.4" ry="0.5" transform="rotate(67 528.7 267.3)" fill="#d9f0fe" stroke="#707070" stroke-width="0.6"/><ellipse cx="483.1" cy="263.1" rx="1.0" ry="1.2" transform="rotate(67 483.1 263.1)" fill="#d9f0fe" stroke="#707070" stroke-width="0.6"/><ellipse cx="526.5" cy="271.0" rx="1.0" ry="0.9" transform="rotate(172 526.5 271.0)" fill="#d9f0fe" stroke="#707070" stroke-width="0.6"/><ellipse cx="511.6" cy="236.5" rx="1.0" ry="1.1" transform="rotate(35 511.6 236.5)" fill="#d9f0fe" stroke="#707070" stroke-width="0.6"/><ellipse cx="516.2" cy="249.8" rx="1.2" ry="0.6" transform="rotate(119 516.2 249.8)" fill="#d9f0fe" stroke="#707070" stroke-width="0.6"/><ellipse cx="535.0" cy="233.7" rx="1.0" ry="1.1" transform="rotate(104 535.0 233.7)" fill="#d9f0fe" stroke="#707070" stroke-width="0.6"/><ellipse cx="496.4" cy="212.7" rx="1.3" ry="0.7" transform="rotate(84 496.4 212.7)" fill="#d9f0fe" stroke="#707070" stroke-width="0.6"/><path d="M309.7 244.0L309.3 244.9L307.7 247.3L306.5 247.9M271.1 214.0L269.9 215.5L270.5 217.3L270.2 219.7M303.1 224.9L304.0 225.0L305.6 227.0L306.2 227.5M279.9 227.1L279.4 228.1L278.3 229.1M316.6 251.9L315.7 249.3L314.8 246.6L314.7 245.5L314.5 244.0M276.0 215.0L273.8 214.6L272.8 214.8M294.2 182.4L294.4 183.5L296.2 184.6L297.9 186.1L298.7 187.4M296.4 196.0L294.8 195.9L293.5 195.0L293.8 193.8M319.0 250.3L317.4 248.2L317.6 246.4L317.6 244.1M290.5 177.7L290.1 175.4L290.7 175.1L291.7 174.5M310.1 186.9L309.5 185.8L307.6 183.8L307.1 182.7M293.7 213.1L295.1 214.7L296.1 215.8L298.9 215.8M301.0 232.5L301.2 234.3L299.7 236.7L299.7 237.3L299.7 238.0M271.5 239.6L274.2 240.8L276.1 241.5L276.3 242.5L276.7 243.0M310.3 242.0L309.5 241.9L308.6 242.2M301.3 224.6L301.9 226.8L303.6 227.2L304.1 227.7L305.9 227.0M300.8 253.2L299.7 255.7L298.0 256.0L295.6 255.4L293.3 257.0M315.4 209.7L316.0 208.0L317.3 205.8L317.3 204.3M288.0 173.0L285.5 174.5L283.3 176.2L283.5 177.0M310.8 227.5L309.8 226.5L307.1 227.4M307.0 237.6L307.5 238.2L307.5 239.1L307.5 240.8M294.7 176.8L294.7 177.8L294.1 178.7L292.5 179.5L290.2 178.6M317.3 232.6L316.9 231.7L316.0 230.9M298.6 240.8L297.3 238.5L297.0 237.9M312.2 217.8L314.2 216.9L315.6 217.3M303.3 257.5L304.1 257.7L305.0 256.2L304.0 254.3L303.1 252.2M299.8 175.4L301.2 176.7L301.0 178.0L300.7 180.3M313.2 185.2L314.4 183.2L313.9 181.0M271.5 245.7L272.7 246.1L273.8 246.3L275.0 248.4M309.4 189.3L307.5 187.8L308.1 185.0L309.3 184.4" fill="none" stroke="#777" stroke-width="0.6" stroke-linecap="round" stroke-linejoin="round"/><path d="M338.5 268.7L339.8 268.3L340.3 268.7L341.4 269.7L342.4 269.3M348.1 272.6L347.6 272.2L345.8 272.7M359.6 253.2L360.6 251.6L360.5 250.6L361.4 249.1L363.2 248.4M335.9 267.1L336.5 268.8L337.6 268.9L338.3 269.0L340.1 268.9M324.5 279.8L326.3 279.9L328.0 279.2L328.6 277.4L329.0 276.1M341.5 259.9L342.0 260.4L342.5 261.1M344.4 297.9L345.6 299.2L346.0 300.8L346.0 301.4L345.1 302.2M356.2 258.1L354.8 258.5L353.1 258.7L352.6 259.6L351.2 259.9M338.1 270.1L339.0 270.7L339.5 271.1L340.4 270.9L341.7 269.8M332.3 264.2L331.4 265.7L330.2 266.1" fill="none" stroke="#666" stroke-width="0.7" stroke-linecap="round" stroke-linejoin="round"/><path d="M532.6 610.7L531.7 610.4L530.7 610.5M498.2 614.4L498.1 615.0L497.3 615.6L496.9 616.2L496.1 616.6M539.9 624.7L539.5 625.6L539.9 626.1M504.6 641.5L504.0 641.9L503.1 642.0L502.1 642.3M516.8 615.1L516.7 614.5L516.3 613.7L515.1 613.6M501.2 608.1L501.6 607.0L502.4 606.5L503.0 607.0L504.1 607.3M524.5 625.8L525.2 625.9L525.9 626.0L526.9 626.4L527.3 627.1M518.2 611.1L518.8 610.1L518.7 609.3L518.5 608.7L519.0 608.0M553.2 629.2L554.1 629.2L554.6 628.4L554.9 627.6M522.9 620.1L522.2 619.5L521.1 619.8L520.1 619.2M524.1 588.9L524.3 589.7L523.7 590.3M525.4 611.2L524.6 611.5L523.8 611.2L522.9 611.3M529.5 629.4L528.7 630.0L527.7 630.5M526.7 633.5L527.3 633.9L527.9 633.9L528.8 634.3M559.0 591.3L559.5 590.9L560.5 590.3M508.3 606.0L509.4 606.4L510.0 606.9M557.6 636.8L558.0 636.0L558.7 635.7L559.3 635.6L559.9 635.9M523.1 609.5L523.0 610.6L522.2 611.3L521.9 612.0L521.7 612.7M544.0 613.0L543.7 613.7L543.6 614.5L543.0 615.2M524.6 613.6L523.8 613.6L522.8 613.1L521.8 613.4L521.0 613.8M534.1 629.0L534.2 629.8L533.7 630.6L533.7 631.4L534.2 631.8M546.6 641.1L547.4 641.4L548.4 642.0L548.5 643.1L548.3 643.9M517.7 638.3L517.4 639.4L517.5 640.0L517.3 640.6L516.8 641.6M521.4 621.1L522.5 621.2L523.2 621.1M542.3 617.2L542.4 616.3L542.2 615.6M551.4 627.4L550.6 626.9L549.7 626.7L549.1 625.7L548.6 625.0M502.2 623.5L502.8 623.9L503.8 624.3M553.7 618.5L553.9 617.8L554.5 617.6L555.0 616.8L555.1 616.1M556.6 587.6L555.7 588.0L555.0 588.3L553.9 587.9M556.2 604.7L557.0 605.1L558.0 605.6M521.1 590.7L521.6 590.0L522.5 589.4M530.1 636.0L530.7 636.7L531.1 637.2L532.1 637.4L532.6 637.8M536.8 613.5L536.2 613.0L535.1 613.4L534.2 613.4M497.7 609.0L498.1 609.7L497.7 610.6L497.6 611.6L496.9 611.8M509.2 602.4L510.0 602.2L510.9 602.2M551.9 630.7L552.5 630.4L553.6 630.8M504.0 608.1L504.5 608.6L505.1 608.8L506.1 608.5M533.0 612.3L533.1 613.2L532.8 614.0L533.2 614.6M507.3 612.6L507.0 613.4L506.2 613.9M514.4 622.1L513.8 622.8L512.9 623.1" fill="none" stroke="#666" stroke-width="0.9" stroke-linecap="round" stroke-linejoin="round"/><ellipse cx="502.5" cy="566.3" rx="2.3" ry="1.8" transform="rotate(0 502.5 566.3)" fill="#abcd66" stroke="#707070" stroke-width="0.6"/><ellipse cx="515" cy="567" rx="1.6" ry="1.1" transform="rotate(0 515 567)" fill="#abcd66" stroke="#707070" stroke-width="0.6"/><ellipse cx="513" cy="578" rx="2.6" ry="2" transform="rotate(20 513 578)" fill="#abcd66" stroke="#707070" stroke-width="0.6"/><ellipse cx="528.5" cy="587.5" rx="4.5" ry="2.6" transform="rotate(-20 528.5 587.5)" fill="#abcd66" stroke="#707070" stroke-width="0.6"/><ellipse cx="528.5" cy="602" rx="1.8" ry="2.8" transform="rotate(10 528.5 602)" fill="#abcd66" stroke="#707070" stroke-width="0.6"/><ellipse cx="538" cy="615" rx="2.5" ry="1.2" transform="rotate(-10 538 615)" fill="#abcd66" stroke="#707070" stroke-width="0.6"/><ellipse cx="529" cy="612" rx="1.8" ry="1" transform="rotate(0 529 612)" fill="#abcd66" stroke="#707070" stroke-width="0.6"/><ellipse cx="442" cy="596" rx="1.6" ry="2.8" transform="rotate(-30 442 596)" fill="#abcd66" stroke="#707070" stroke-width="0.6"/><ellipse cx="454" cy="618.5" rx="1.8" ry="3" transform="rotate(10 454 618.5)" fill="#abcd66" stroke="#707070" stroke-width="0.6"/><ellipse cx="457" cy="626" rx="1.8" ry="1.6" transform="rotate(0 457 626)" fill="#abcd66" stroke="#707070" stroke-width="0.6"/><ellipse cx="447.5" cy="606" rx="1.2" ry="2" transform="rotate(0 447.5 606)" fill="#abcd66" stroke="#707070" stroke-width="0.6"/><ellipse cx="498" cy="586" rx="1.6" ry="1" transform="rotate(0 498 586)" fill="#abcd66" stroke="#707070" stroke-width="0.6"/><ellipse cx="503" cy="589" rx="1.5" ry="1" transform="rotate(0 503 589)" fill="#abcd66" stroke="#707070" stroke-width="0.6"/><ellipse cx="509" cy="594" rx="1.8" ry="1.3" transform="rotate(0 509 594)" fill="#abcd66" stroke="#707070" stroke-width="0.6"/><ellipse cx="511" cy="617" rx="1.6" ry="1.6" transform="rotate(0 511 617)" fill="#abcd66" stroke="#707070" stroke-width="0.6"/><ellipse cx="515" cy="619.5" rx="1.5" ry="2.5" transform="rotate(30 515 619.5)" fill="#abcd66" stroke="#707070" stroke-width="0.6"/><ellipse cx="519" cy="624" rx="2" ry="1.4" transform="rotate(0 519 624)" fill="#abcd66" stroke="#707070" stroke-width="0.6"/><ellipse cx="524" cy="626" rx="2.2" ry="2" transform="rotate(0 524 626)" fill="#abcd66" stroke="#707070" stroke-width="0.6"/><ellipse cx="516" cy="628" rx="1.6" ry="1.2" transform="rotate(0 516 628)" fill="#abcd66" stroke="#707070" stroke-width="0.6"/><ellipse cx="510" cy="626" rx="1.4" ry="1.2" transform="rotate(0 510 626)" fill="#abcd66" stroke="#707070" stroke-width="0.6"/><ellipse cx="507" cy="635" rx="2" ry="1.2" transform="rotate(0 507 635)" fill="#abcd66" stroke="#707070" stroke-width="0.6"/><ellipse cx="522" cy="636" rx="1.6" ry="1.2" transform="rotate(0 522 636)" fill="#abcd66" stroke="#707070" stroke-width="0.6"/><ellipse cx="530" cy="632" rx="1.4" ry="1.1" transform="rotate(0 530 632)" fill="#abcd66" stroke="#707070" stroke-width="0.6"/><ellipse cx="543" cy="623" rx="1.8" ry="1.4" transform="rotate(0 543 623)" fill="#abcd66" stroke="#707070" stroke-width="0.6"/><ellipse cx="547" cy="630" rx="1.6" ry="1.4" transform="rotate(0 547 630)" fill="#abcd66" stroke="#707070" stroke-width="0.6"/><ellipse cx="552" cy="645" rx="1.4" ry="2.6" transform="rotate(20 552 645)" fill="#abcd66" stroke="#707070" stroke-width="0.6"/><ellipse cx="533" cy="628" rx="1.2" ry="1" transform="rotate(0 533 628)" fill="#abcd66" stroke="#707070" stroke-width="0.6"/><ellipse cx="535" cy="612" rx="1.2" ry="1" transform="rotate(0 535 612)" fill="#abcd66" stroke="#707070" stroke-width="0.6"/><ellipse cx="499" cy="631" rx="1.2" ry="1" transform="rotate(0 499 631)" fill="#abcd66" stroke="#707070" stroke-width="0.6"/><ellipse cx="521" cy="614" rx="1.4" ry="1.1" transform="rotate(0 521 614)" fill="#abcd66" stroke="#707070" stroke-width="0.6"/><ellipse cx="527" cy="620" rx="1.2" ry="1" transform="rotate(0 527 620)" fill="#abcd66" stroke="#707070" stroke-width="0.6"/><ellipse cx="305" cy="542" rx="1.5" ry="1.1" transform="rotate(0 305 542)" fill="#f5f57a" stroke="#707070" stroke-width="0.6"/><ellipse cx="318" cy="561" rx="1.2" ry="1" transform="rotate(0 318 561)" fill="#f5f57a" stroke="#707070" stroke-width="0.6"/><ellipse cx="380" cy="622" rx="1.2" ry="1" transform="rotate(0 380 622)" fill="#f5f57a" stroke="#707070" stroke-width="0.6"/><ellipse cx="312" cy="309" rx="1.4" ry="1" transform="rotate(0 312 309)" fill="#ffa77f" stroke="#707070" stroke-width="0.6"/><ellipse cx="316" cy="300" rx="1.2" ry="1" transform="rotate(0 316 300)" fill="#ffa77f" stroke="#707070" stroke-width="0.6"/><ellipse cx="308" cy="329" rx="1.5" ry="1.2" transform="rotate(0 308 329)" fill="#ffa77f" stroke="#707070" stroke-width="0.6"/><ellipse cx="431" cy="243" rx="1.1" ry="1" transform="rotate(0 431 243)" fill="#ffa77f" stroke="#707070" stroke-width="0.6"/><ellipse cx="160" cy="186" rx="1.8" ry="2.8" transform="rotate(0 160 186)" fill="#f4f4f4" stroke="#707070" stroke-width="0.6"/><ellipse cx="161" cy="193" rx="1" ry="1.8" transform="rotate(0 161 193)" fill="#f4f4f4" stroke="#707070" stroke-width="0.6"/><ellipse cx="181" cy="244" rx="2.2" ry="2" transform="rotate(0 181 244)" fill="#f4f4f4" stroke="#707070" stroke-width="0.6"/><ellipse cx="185" cy="241" rx="1.6" ry="1.4" transform="rotate(0 185 241)" fill="#f4f4f4" stroke="#707070" stroke-width="0.6"/><ellipse cx="199" cy="232" rx="1.4" ry="3" transform="rotate(0 199 232)" fill="#f4f4f4" stroke="#707070" stroke-width="0.6"/><ellipse cx="199" cy="226" rx="1" ry="1.8" transform="rotate(0 199 226)" fill="#f4f4f4" stroke="#707070" stroke-width="0.6"/><ellipse cx="138" cy="258" rx="1.8" ry="7" transform="rotate(35 138 258)" fill="#f4f4f4" stroke="#707070" stroke-width="0.6"/><ellipse cx="135" cy="268" rx="1" ry="3" transform="rotate(15 135 268)" fill="#f4f4f4" stroke="#707070" stroke-width="0.6"/><ellipse cx="145" cy="272" rx="2.2" ry="3.5" transform="rotate(30 145 272)" fill="#f4f4f4" stroke="#707070" stroke-width="0.6"/><ellipse cx="140" cy="281" rx="1.2" ry="2.4" transform="rotate(10 140 281)" fill="#f4f4f4" stroke="#707070" stroke-width="0.6"/><ellipse cx="148" cy="287" rx="2.2" ry="1.8" transform="rotate(0 148 287)" fill="#f4f4f4" stroke="#707070" stroke-width="0.6"/><ellipse cx="146" cy="297" rx="1.6" ry="2.6" transform="rotate(0 146 297)" fill="#f4f4f4" stroke="#707070" stroke-width="0.6"/><ellipse cx="152" cy="294" rx="1" ry="2.5" transform="rotate(20 152 294)" fill="#f4f4f4" stroke="#707070" stroke-width="0.6"/><ellipse cx="156" cy="338" rx="1.5" ry="1.6" transform="rotate(0 156 338)" fill="#f4f4f4" stroke="#707070" stroke-width="0.6"/><ellipse cx="186" cy="393.5" rx="2.4" ry="1" transform="rotate(0 186 393.5)" fill="#f4f4f4" stroke="#707070" stroke-width="0.6"/><ellipse cx="166" cy="421" rx="1" ry="1" transform="rotate(0 166 421)" fill="#f4f4f4" stroke="#707070" stroke-width="0.6"/><ellipse cx="430.5" cy="551" rx="2.2" ry="1.4" transform="rotate(0 430.5 551)" fill="#f4f4f4" stroke="#707070" stroke-width="0.6"/><ellipse cx="570" cy="560" rx="1.5" ry="1" transform="rotate(0 570 560)" fill="#f4f4f4" stroke="#707070" stroke-width="0.6"/><ellipse cx="574" cy="559" rx="2" ry="1.2" transform="rotate(0 574 559)" fill="#f4f4f4" stroke="#707070" stroke-width="0.6"/>
<rect x="508.9" y="88.6" width="87.3" height="62" fill="#fff"/><path d="M509.3 104.0 L521.0 104.0 Q548.0 104.0 551.3 91.0" fill="none" stroke="#a8a8a8" stroke-width="0.5"/><path d="M509.3 106.5 L521.0 106.5 Q547.4 106.5 551.4 91.4" fill="none" stroke="#a8a8a8" stroke-width="0.5"/><path d="M509.3 108.9 L521.0 108.9 Q546.8 108.9 551.5 91.8" fill="none" stroke="#a8a8a8" stroke-width="0.5"/><path d="M509.3 111.3 L521.0 111.3 Q546.2 111.3 551.6 92.2" fill="none" stroke="#a8a8a8" stroke-width="0.5"/><path d="M509.3 113.8 L521.0 113.8 Q545.6 113.8 551.7 92.6" fill="none" stroke="#a8a8a8" stroke-width="0.5"/><path d="M509.3 116.2 L521.0 116.2 Q545.0 116.2 551.8 93.0" fill="none" stroke="#a8a8a8" stroke-width="0.5"/><path d="M509.3 118.7 L521.0 118.7 Q544.4 118.7 551.9 93.4" fill="none" stroke="#a8a8a8" stroke-width="0.5"/><path d="M509.3 121.2 L521.0 121.2 Q543.8 121.2 552.0 93.8" fill="none" stroke="#a8a8a8" stroke-width="0.5"/><path d="M509.3 123.6 L521.0 123.6 Q543.2 123.6 552.1 94.2" fill="none" stroke="#a8a8a8" stroke-width="0.5"/><path d="M509.3 126.0 L521.0 126.0 Q542.6 126.0 552.2 94.6" fill="none" stroke="#a8a8a8" stroke-width="0.5"/><path d="M509.3 128.5 L521.0 128.5 Q542.0 128.5 552.3 95.0" fill="none" stroke="#a8a8a8" stroke-width="0.5"/><path d="M509.3 130.9 L521.0 130.9 Q541.4 130.9 552.4 95.4" fill="none" stroke="#a8a8a8" stroke-width="0.5"/><path d="M595.7 107.0 L582.0 107.0 Q571.0 107.0 569.3 91.0" fill="none" stroke="#a8a8a8" stroke-width="0.5"/><path d="M595.7 109.5 L582.0 109.5 Q571.5 109.5 569.3 91.4" fill="none" stroke="#a8a8a8" stroke-width="0.5"/><path d="M595.7 111.9 L582.0 111.9 Q572.0 111.9 569.4 91.8" fill="none" stroke="#a8a8a8" stroke-width="0.5"/><path d="M595.7 114.3 L582.0 114.3 Q572.5 114.3 569.4 92.2" fill="none" stroke="#a8a8a8" stroke-width="0.5"/><path d="M595.7 116.8 L582.0 116.8 Q573.0 116.8 569.5 92.6" fill="none" stroke="#a8a8a8" stroke-width="0.5"/><path d="M595.7 119.2 L582.0 119.2 Q573.5 119.2 569.5 93.0" fill="none" stroke="#a8a8a8" stroke-width="0.5"/><path d="M595.7 121.7 L582.0 121.7 Q574.0 121.7 569.6 93.4" fill="none" stroke="#a8a8a8" stroke-width="0.5"/><path d="M595.7 124.2 L582.0 124.2 Q574.5 124.2 569.6 93.8" fill="none" stroke="#a8a8a8" stroke-width="0.5"/><path d="M595.7 126.6 L582.0 126.6 Q575.0 126.6 569.7 94.2" fill="none" stroke="#a8a8a8" stroke-width="0.5"/><path d="M595.7 129.1 L582.0 129.1 Q575.5 129.1 569.8 94.6" fill="none" stroke="#a8a8a8" stroke-width="0.5"/><path d="M595.7 131.5 L582.0 131.5 Q576.0 131.5 569.8 95.0" fill="none" stroke="#a8a8a8" stroke-width="0.5"/><path d="M595.7 133.9 L582.0 133.9 Q576.5 133.9 569.8 95.4" fill="none" stroke="#a8a8a8" stroke-width="0.5"/><rect x="526.6" y="108.2" width="37.4" height="24.8" fill="#0e3f9a"/><polygon points="545.30,110.75 545.71,111.83 546.87,111.89 545.97,112.62 546.27,113.73 545.30,113.10 544.33,113.73 544.63,112.62 543.73,111.89 544.89,111.83" fill="#ffe500"/><polygon points="549.40,111.85 549.81,112.93 550.97,112.99 550.07,113.71 550.37,114.83 549.40,114.20 548.43,114.83 548.73,113.71 547.83,112.99 548.99,112.93" fill="#ffe500"/><polygon points="552.40,114.85 552.81,115.93 553.97,115.99 553.07,116.72 553.37,117.83 552.40,117.20 551.43,117.83 551.74,116.72 550.83,115.99 551.99,115.93" fill="#ffe500"/><polygon points="553.50,118.95 553.91,120.03 555.07,120.09 554.17,120.82 554.47,121.93 553.50,121.30 552.53,121.93 552.83,120.82 551.93,120.09 553.09,120.03" fill="#ffe500"/><polygon points="552.40,123.05 552.81,124.13 553.97,124.19 553.07,124.92 553.37,126.03 552.40,125.40 551.43,126.03 551.74,124.92 550.83,124.19 551.99,124.13" fill="#ffe500"/><polygon points="549.40,126.05 549.81,127.14 550.97,127.19 550.07,127.92 550.37,129.04 549.40,128.40 548.43,129.04 548.73,127.92 547.83,127.19 548.99,127.14" fill="#ffe500"/><polygon points="545.30,127.15 545.71,128.23 546.87,128.29 545.97,129.02 546.27,130.13 545.30,129.50 544.33,130.13 544.63,129.02 543.73,128.29 544.89,128.23" fill="#ffe500"/><polygon points="541.20,126.05 541.61,127.14 542.77,127.19 541.87,127.92 542.17,129.04 541.20,128.40 540.23,129.04 540.53,127.92 539.63,127.19 540.79,127.14" fill="#ffe500"/><polygon points="538.20,123.05 538.61,124.13 539.77,124.19 538.86,124.92 539.17,126.03 538.20,125.40 537.23,126.03 537.53,124.92 536.63,124.19 537.79,124.13" fill="#ffe500"/><polygon points="537.10,118.95 537.51,120.03 538.67,120.09 537.77,120.82 538.07,121.93 537.10,121.30 536.13,121.93 536.43,120.82 535.53,120.09 536.69,120.03" fill="#ffe500"/><polygon points="538.20,114.85 538.61,115.93 539.77,115.99 538.86,116.72 539.17,117.83 538.20,117.20 537.23,117.83 537.53,116.72 536.63,115.99 537.79,115.93" fill="#ffe500"/><polygon points="541.20,111.85 541.61,112.93 542.77,112.99 541.87,113.71 542.17,114.83 541.20,114.20 540.23,114.83 540.53,113.71 539.63,112.99 540.79,112.93" fill="#ffe500"/><text x="528.2" y="140.3" font-family="Liberation Sans, Arial, sans-serif" font-size="6.3" fill="#3a3a3a" textLength="23" lengthAdjust="spacingAndGlyphs">European</text><text x="528.2" y="146.3" font-family="Liberation Sans, Arial, sans-serif" font-size="6.3" fill="#3a3a3a" textLength="28.5" lengthAdjust="spacingAndGlyphs">Commission</text><rect x="526.6" y="148.7" width="37.4" height="2" fill="#0e3f9a"/>
<g>
<rect x="18" y="102" width="36" height="14.2" fill="#ffa77f"/>
<rect x="18" y="126.4" width="36" height="13.6" fill="#f5f57a"/>
<rect x="18" y="150.8" width="36" height="13.4" fill="#a9cd66"/>
<text class="t" x="66.3" y="114.8" font-size="16.3" textLength="194" lengthAdjust="spacingAndGlyphs">yield lower than average</text>
<text class="t" x="66.3" y="138.8" font-size="16.3" textLength="185" lengthAdjust="spacingAndGlyphs">yield similar to average</text>
<text class="t" x="66.3" y="162.8" font-size="16.3" textLength="202" lengthAdjust="spacingAndGlyphs">yield higher than average</text>
</g>
<text transform="translate(351.2 133.1) scale(1.0 1)" class="lb">6.00</text><text transform="translate(414.2 185.3) scale(1.0 1)" class="lb">3.50</text><text transform="translate(428.6 248.4) scale(1.0 1)" class="lb">3.97</text><text transform="translate(429.9 285.3) scale(1.0 1)" class="lb">3.72</text><text transform="translate(427.0 313.9) scale(1.0 1)" class="lb">4.14</text><text transform="translate(278.8 315.7) scale(1.0 1)" class="lb">7.36</text><text transform="translate(93.2 341.7) scale(1.0 1)" class="lb">10.2</text><text transform="translate(237.2 382.5) scale(1.0 1)" class="lb">8.93</text><text transform="translate(224.7 409.7) scale(1.0 1)" class="lb">8.80</text><text transform="translate(240.4 426.2) scale(1.0 1)" class="lb">6.10</text><text transform="translate(289.9 404.7) scale(1.0 1)" class="lb">7.49</text><text transform="translate(388.6 379.7) scale(1.0 1)" class="lb">5.04</text><text transform="translate(346.5 425.3) scale(1.0 1)" class="lb">6.26</text><text transform="translate(398.4 439.0) scale(1.0 1)" class="lb">5.36</text><text transform="translate(334.2 465.8) scale(1.0 1)" class="lb">5.61</text><text transform="translate(400.0 466.4) scale(1.0 1)" class="lb">5.59</text><text transform="translate(471.4 480.3) scale(1.0 1)" class="lb">4.73</text><text transform="translate(191.4 480.1) scale(1.0 1)" class="lb">7.35</text><text transform="translate(346.4 490.1) scale(1.0 1)" class="lb">5.55</text><text transform="translate(366.4 506.9) scale(1.0 1)" class="lb">5.52</text><text transform="translate(317.0 540.9) scale(1.0 1)" class="lb">3.86</text><text transform="translate(484.9 532.8) scale(1.0 1)" class="lb">5.47</text><text transform="translate(461.6 588.3) scale(1.0 1)" class="lb">3.07</text><text transform="translate(38.3 579.7) scale(1.0 1)" class="lb">1.35</text><text transform="translate(98.5 579.3) scale(1.0 1)" class="lb">2.17</text>
<rect x="4.75" y="4.6" width="596.5" height="754.3" fill="none" stroke="#000" stroke-width="1.5"/>
<line x1="4" y1="87.8" x2="602" y2="87.8" stroke="#000" stroke-width="1.5"/>
<line x1="4" y1="712.9" x2="602" y2="712.9" stroke="#000" stroke-width="1.5"/>
<text class="t" x="16.9" y="41.6" font-size="32.3" textLength="480.5" lengthAdjust="spacingAndGlyphs">Total wheat - yield forecast 2023</text>
<text class="t" x="17.0" y="71.7" font-size="20.6" textLength="535.5" lengthAdjust="spacingAndGlyphs">MARS forecast versus average yield (t/ha) 2018 - 2022</text>
<text x="365" y="740.8" font-family="Liberation Sans, Arial, sans-serif" font-size="15.6" fill="#111" textLength="225.3" lengthAdjust="spacingAndGlyphs">MARS Bulletin Vol. 31 No.7 (2023)</text>
</svg>
</body></html>
